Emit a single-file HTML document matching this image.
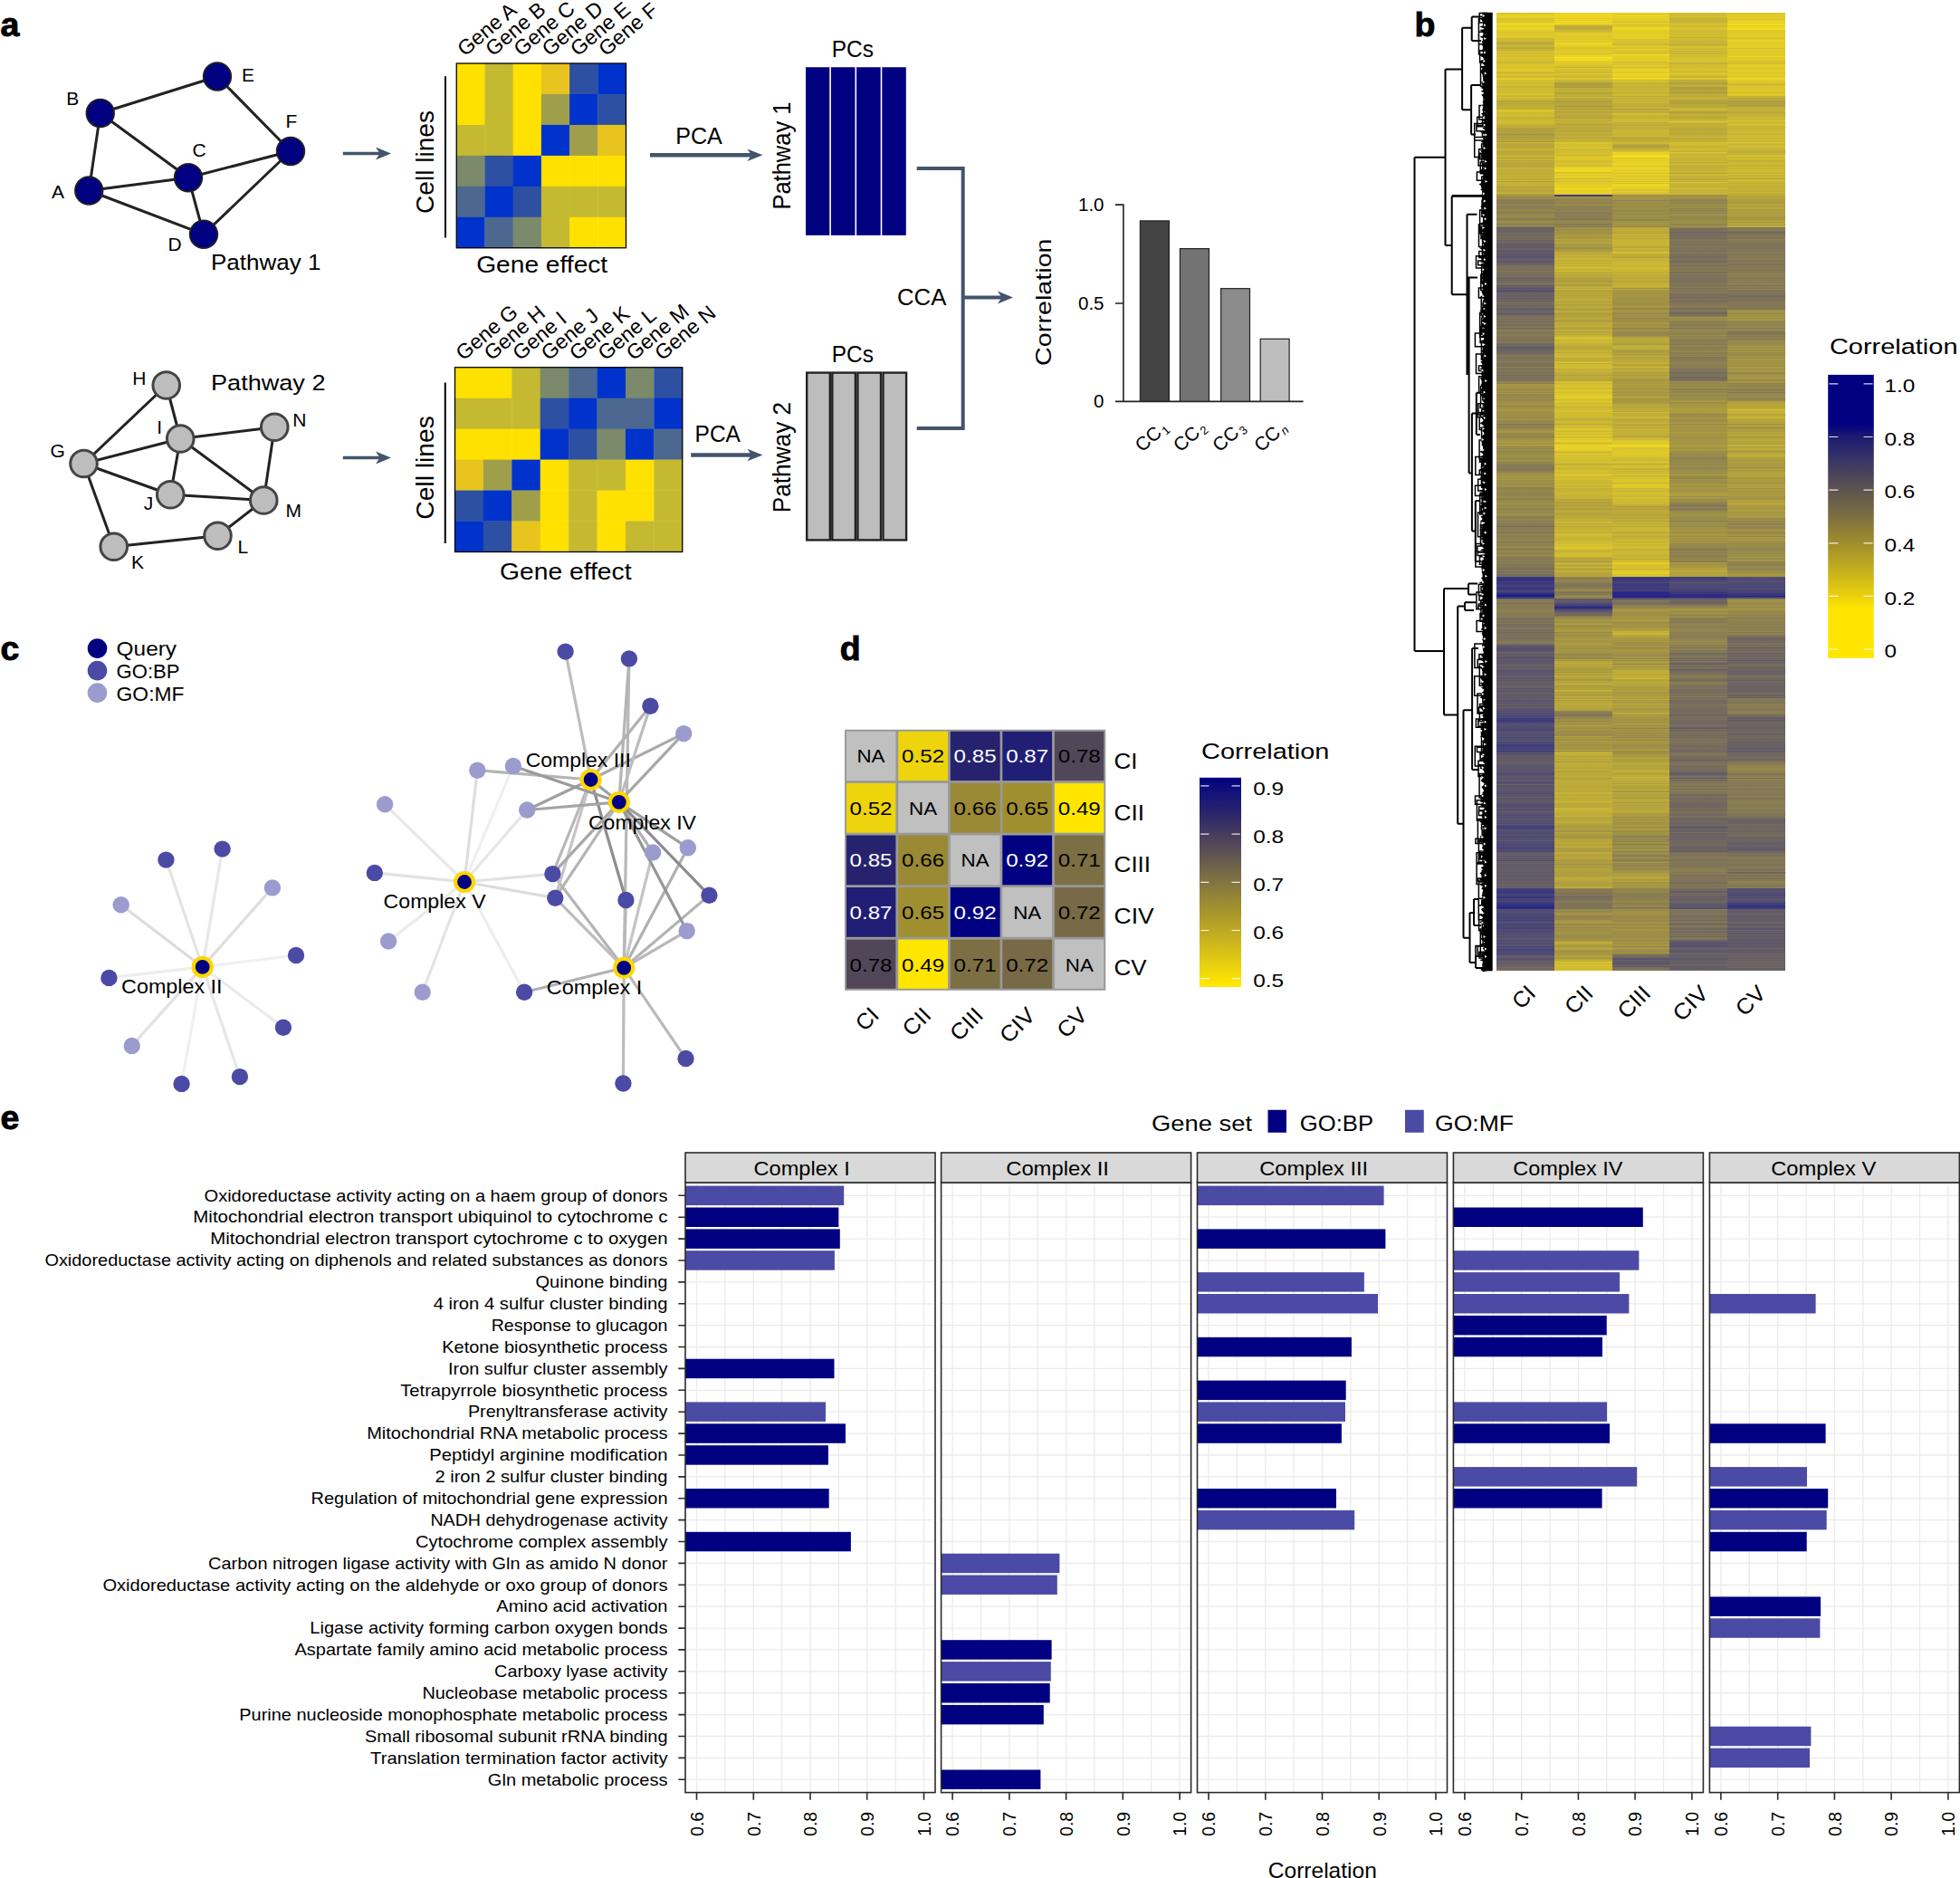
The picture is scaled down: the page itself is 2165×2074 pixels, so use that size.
<!DOCTYPE html>
<html><head><meta charset="utf-8"><title>Figure</title>
<style>
html,body{margin:0;padding:0;background:#fff}
#fig{position:relative;width:2165px;height:2074px;overflow:hidden;background:#fff;font-family:"Liberation Sans",sans-serif}
#fig svg{position:absolute;left:0;top:0}
svg text{font-family:"Liberation Sans",sans-serif}
</style></head><body>
<div id="fig">
<div style="position:absolute;left:1653.30px;top:14.3px;width:63.90px;height:1058px;opacity:.9;background:linear-gradient(180deg,#d4bc16 0px 1px,#dcc312 1px 2px,#e3c90f 2px 3px,#e6cc0d 3px 4px,#ebd00b 4px 5px,#e0c611 5px 6px,#d4bc16 6px 7px,#d6be15 7px 8px,#d4bc16 8px 9px,#dbc213 9px 10px,#d9c114 10px 11px,#ddc412 11px 12px,#fae003 12px 13px,#e3c90f 13px 14px,#e2c90f 14px 15px,#e0c611 15px 16px,#ecd10a 16px 17px,#eed309 17px 18px,#e4ca0e 18px 19px,#e1c710 19px 20px,#ddc412 20px 21px,#d7be15 21px 22px,#d8bf14 22px 23px,#dac113 23px 24px,#dcc312 24px 25px,#d8bf14 25px 26px,#e3c90f 26px 27px,#d5bc16 27px 28px,#cdb61a 28px 29px,#c5ae1e 29px 30px,#cab41b 30px 31px,#c2ac1f 31px 32px,#bba622 32px 33px,#b9a422 33px 34px,#b09c26 34px 35px,#bea920 35px 36px,#c4ae1e 36px 37px,#c0ab1f 37px 38px,#b7a323 38px 39px,#b39f25 39px 40px,#c0aa20 40px 41px,#bfaa20 41px 42px,#c8b11c 42px 43px,#d7bf15 43px 44px,#c5af1e 44px 45px,#cfb719 45px 46px,#d6be15 46px 47px,#cdb619 47px 48px,#ceb719 48px 49px,#d8bf14 49px 50px,#d5bc16 50px 51px,#cfb819 51px 52px,#d3bb17 52px 53px,#ceb619 53px 54px,#cab31b 54px 55px,#ccb51a 55px 56px,#cbb41b 56px 57px,#d7bf15 57px 58px,#dac213 58px 59px,#d1ba18 59px 60px,#d8bf14 60px 61px,#d7be15 61px 62px,#d9c114 62px 63px,#ddc412 63px 64px,#dcc312 64px 65px,#ceb719 65px 66px,#bda821 66px 67px,#d4bc16 67px 68px,#d2ba17 68px 69px,#d9c014 69px 70px,#c2ac1f 70px 71px,#d2ba17 71px 72px,#dfc511 72px 73px,#e3c90f 73px 74px,#cdb61a 74px 75px,#cfb719 75px 76px,#d3bb17 76px 77px,#c7b11c 77px 78px,#cab31b 78px 79px,#cdb51a 79px 80px,#cfb719 80px 81px,#bfa920 81px 82px,#c3ad1e 82px 83px,#cfb819 83px 84px,#c4ae1e 84px 85px,#c5af1d 85px 86px,#d7bf15 86px 87px,#c6b01d 87px 88px,#c7b11c 88px 89px,#d4bc16 89px 90px,#d7be15 90px 91px,#c6b01d 91px 92px,#c1ac1f 92px 93px,#d4bc16 93px 94px,#c7b01d 94px 95px,#c1ab1f 95px 96px,#c5af1e 96px 97px,#ae9a27 97px 98px,#ad9a27 98px 99px,#b9a422 99px 100px,#af9b26 100px 101px,#b7a323 101px 102px,#b8a323 102px 103px,#bca721 103px 104px,#bda721 104px 105px,#b39f24 105px 106px,#c6b01d 106px 107px,#cfb818 107px 108px,#d9c014 108px 109px,#d2ba17 109px 110px,#cbb41a 110px 111px,#c6b01d 111px 112px,#c9b31b 112px 113px,#ceb719 113px 114px,#cfb819 114px 115px,#bda821 115px 117px,#c9b21c 117px 118px,#c2ac1f 118px 119px,#ccb51a 119px 120px,#cdb619 120px 121px,#c8b21c 121px 122px,#c8b11c 122px 123px,#c3ae1e 123px 124px,#b7a323 124px 125px,#b5a124 125px 126px,#b9a522 126px 127px,#a6942a 127px 128px,#aa9728 128px 129px,#a89529 129px 130px,#a99629 130px 131px,#ad9927 131px 132px,#a79429 132px 133px,#ab9828 133px 134px,#948433 134px 135px,#a08e2c 135px 136px,#ae9a27 136px 137px,#a18f2c 137px 138px,#a5922a 138px 139px,#b39f25 139px 140px,#a99628 140px 141px,#ae9a27 141px 142px,#a08e2c 142px 143px,#c4ae1e 143px 144px,#b8a323 144px 145px,#b19d25 145px 147px,#b19d26 147px 148px,#b09c26 148px 149px,#b9a422 149px 150px,#bba621 150px 151px,#c3ad1e 151px 152px,#af9b26 152px 153px,#b4a024 153px 154px,#b29e25 154px 155px,#b19d25 155px 156px,#b39f25 156px 157px,#b9a422 157px 158px,#cab31b 158px 159px,#b6a223 159px 160px,#b09c26 160px 161px,#bfa920 161px 162px,#bfaa20 162px 163px,#ac9927 163px 164px,#bda821 164px 165px,#ae9a27 165px 166px,#b7a323 166px 167px,#b19d25 167px 168px,#b09c26 168px 169px,#b7a323 169px 170px,#ad9927 170px 171px,#c1ac1f 171px 172px,#bba621 172px 173px,#bda821 173px 174px,#b8a323 174px 175px,#baa522 175px 176px,#bea820 176px 177px,#b5a024 177px 178px,#baa522 178px 179px,#bca721 179px 180px,#b5a124 180px 181px,#bda821 181px 182px,#bca621 182px 183px,#b7a323 183px 184px,#b8a323 184px 185px,#c6b01d 185px 186px,#a99628 186px 187px,#bca721 187px 188px,#bfaa20 188px 189px,#bca721 189px 190px,#b9a422 190px 191px,#b29e25 191px 192px,#bca721 192px 193px,#a79429 193px 194px,#bda821 194px 195px,#ac9927 195px 196px,#ae9a27 196px 197px,#b09c26 197px 198px,#baa522 198px 199px,#bea820 199px 200px,#a89529 200px 201px,#9b892f 201px 202px,#978631 202px 203px,#8d7d37 203px 204px,#8b7b38 204px 205px,#918135 205px 206px,#80723e 206px 207px,#7b6d41 207px 208px,#83743c 208px 209px,#786b43 209px 211px,#85773b 211px 212px,#8a7a39 212px 213px,#7c6e40 213px 214px,#7d6f40 214px 215px,#7e7040 215px 216px,#7c6e41 216px 217px,#87783a 217px 218px,#8b7b38 218px 219px,#84753c 219px 220px,#82743d 220px 221px,#7e703f 221px 222px,#897a39 222px 223px,#8c7c37 223px 224px,#8e7e37 224px 225px,#8e7e36 225px 226px,#87783a 226px 227px,#7d6f40 227px 228px,#786b43 228px 229px,#82733d 229px 230px,#958432 230px 231px,#8f7f35 231px 232px,#8b7b38 232px 233px,#7c6e40 233px 234px,#84753c 234px 235px,#8c7c37 235px 236px,#7d6f40 236px 237px,#544b56 237px 238px,#5a5053 238px 239px,#5b5252 239px 241px,#594f53 241px 242px,#5d5351 242px 243px,#64594d 243px 244px,#665b4c 244px 245px,#5d5351 245px 246px,#695d4a 246px 247px,#61574e 247px 248px,#685d4b 248px 249px,#5f554f 249px 250px,#685d4b 250px 251px,#5e5450 251px 252px,#584f54 252px 253px,#62584e 253px 254px,#584f54 254px 255px,#564e54 255px 256px,#504858 256px 257px,#554d55 257px 258px,#4e465a 258px 259px,#504858 259px 260px,#574e54 260px 261px,#5e5450 261px 262px,#534b57 262px 263px,#48425d 263px 264px,#534a57 264px 265px,#514958 265px 266px,#4c455a 266px 267px,#49435c 267px 268px,#504858 268px 269px,#433e60 269px 270px,#48425d 270px 271px,#534b56 271px 272px,#544b56 272px 273px,#564d55 273px 274px,#4a435c 274px 275px,#504859 275px 276px,#5b5252 276px 277px,#544c56 277px 278px,#60564f 278px 279px,#64594d 279px 280px,#706347 280px 281px,#675c4b 281px 282px,#716546 282px 283px,#64594d 283px 284px,#6c6049 284px 285px,#7c6e40 285px 286px,#675c4b 286px 287px,#6e6248 287px 288px,#675c4c 288px 289px,#6c6049 289px 290px,#685d4b 290px 291px,#6c6049 291px 292px,#63594d 292px 293px,#5b5152 293px 294px,#5f554f 294px 295px,#60564f 295px 296px,#5f5550 296px 297px,#685d4b 297px 298px,#665b4c 298px 299px,#736745 299px 300px,#63584e 300px 301px,#514958 301px 302px,#595053 302px 303px,#534b57 303px 304px,#413c61 304px 305px,#554d55 305px 306px,#48415d 306px 307px,#3c3764 307px 308px,#524a57 308px 309px,#544c56 309px 310px,#61564f 310px 311px,#584f54 311px 312px,#564e54 312px 313px,#5b5152 313px 314px,#5d5351 314px 315px,#544b56 315px 316px,#584f54 316px 317px,#5f5550 317px 318px,#5b5152 318px 319px,#62574e 319px 320px,#6c6049 320px 321px,#63584e 321px 322px,#63594d 322px 323px,#5f5550 323px 324px,#5d5350 324px 325px,#64594d 325px 326px,#5a5152 326px 327px,#4e465a 327px 328px,#574e54 328px 329px,#5e5450 329px 330px,#61564f 330px 331px,#544c56 331px 332px,#4d465a 332px 333px,#564d55 333px 334px,#665b4c 334px 335px,#675c4b 335px 336px,#726645 336px 337px,#685d4b 337px 339px,#6f6347 339px 340px,#6c6049 340px 341px,#64594d 341px 342px,#746745 342px 343px,#6c6049 343px 344px,#6e6248 344px 345px,#695d4a 345px 346px,#6e6248 346px 347px,#786b42 347px 348px,#665b4c 348px 349px,#675c4b 349px 350px,#7f713f 350px 351px,#80713f 351px 352px,#716446 352px 353px,#736745 353px 354px,#726646 354px 355px,#7b6d41 355px 356px,#7c6e41 356px 357px,#716446 357px 358px,#796b42 358px 359px,#6d6148 359px 360px,#776a43 360px 361px,#695e4a 361px 362px,#6d6148 362px 363px,#7c6e40 363px 364px,#746745 364px 365px,#665b4c 365px 366px,#61564f 366px 367px,#60564f 367px 368px,#5a5152 368px 369px,#534b56 369px 370px,#504858 370px 371px,#5b5152 371px 372px,#5c5251 372px 373px,#574e54 373px 374px,#655b4c 374px 375px,#61574e 375px 376px,#62574e 376px 377px,#6d6148 377px 378px,#726645 378px 379px,#746745 379px 380px,#706447 380px 381px,#6b5f49 381px 382px,#716546 382px 383px,#6f6347 383px 384px,#756844 384px 385px,#7a6d41 385px 386px,#706446 386px 387px,#726646 387px 388px,#6c6049 388px 389px,#6b5f49 389px 390px,#6e6248 390px 391px,#80723e 391px 392px,#776a43 392px 393px,#685c4b 393px 394px,#746745 394px 395px,#776a43 395px 396px,#6b5f49 396px 397px,#6e6248 397px 398px,#716446 398px 399px,#736645 399px 400px,#665b4c 400px 401px,#6e6248 401px 402px,#706447 402px 403px,#6a5e4a 403px 404px,#6f6347 404px 405px,#695e4a 405px 406px,#6e6248 406px 407px,#88793a 407px 408px,#83743d 408px 409px,#7f713f 409px 410px,#9d8b2e 410px 411px,#9a892f 411px 412px,#998830 412px 413px,#9c8a2e 413px 414px,#958432 414px 415px,#918135 415px 416px,#8d7d37 416px 417px,#8f7f36 417px 418px,#9c8a2e 418px 419px,#897a39 419px 420px,#9f8d2d 420px 421px,#897a39 421px 423px,#8e7e36 423px 424px,#8d7d37 424px 427px,#8a7a39 427px 428px,#8e7e36 428px 429px,#908035 429px 430px,#958432 430px 431px,#948333 431px 432px,#9f8d2c 432px 433px,#948333 433px 434px,#86773b 434px 435px,#8d7d37 435px 436px,#9d8b2e 436px 437px,#968532 437px 438px,#9c8b2e 438px 439px,#9f8d2d 439px 440px,#948433 440px 441px,#948333 441px 442px,#928234 442px 443px,#938234 443px 444px,#928234 444px 445px,#948333 445px 446px,#8c7c37 446px 447px,#938333 447px 448px,#908035 448px 449px,#998830 449px 450px,#928234 450px 451px,#85763b 451px 452px,#8e7e36 452px 453px,#8b7b38 453px 454px,#786b42 454px 455px,#7c6e40 455px 456px,#84753c 456px 457px,#82743d 457px 458px,#83743d 458px 460px,#978631 460px 461px,#908035 461px 462px,#9f8d2c 462px 463px,#9b892f 463px 464px,#918134 464px 465px,#88793a 465px 466px,#8f7f36 466px 467px,#85763b 467px 469px,#8e7e36 469px 470px,#948333 470px 471px,#978631 471px 472px,#9f8d2d 472px 473px,#988731 473px 474px,#a5932a 474px 475px,#998730 475px 476px,#9a8830 476px 477px,#a5932a 477px 478px,#988730 478px 479px,#8e7e36 479px 480px,#908035 480px 481px,#85773b 481px 482px,#938333 482px 483px,#978631 483px 484px,#80713f 484px 485px,#897a39 485px 487px,#978631 487px 488px,#8d7d37 488px 489px,#9c8a2e 489px 490px,#928234 490px 491px,#8e7e36 491px 492px,#8b7c38 492px 493px,#8e7e36 493px 494px,#918035 494px 495px,#988731 495px 496px,#83743d 496px 497px,#8b7b38 497px 498px,#80713e 498px 499px,#7c6f40 499px 500px,#756844 500px 501px,#7f713f 501px 502px,#736645 502px 503px,#786a43 503px 504px,#726645 504px 505px,#786a43 505px 506px,#80723e 506px 507px,#87783a 507px 508px,#8a7b38 508px 509px,#978631 509px 510px,#958432 510px 511px,#9b8a2f 511px 512px,#968532 512px 513px,#9c8b2e 513px 514px,#918135 514px 515px,#9f8d2c 515px 516px,#8f7f36 516px 517px,#978631 517px 518px,#958432 518px 519px,#928234 519px 520px,#8e7e36 520px 521px,#908035 521px 522px,#978631 522px 524px,#85763b 524px 525px,#7f713f 525px 526px,#86773b 526px 527px,#88793a 527px 529px,#8f7f36 529px 530px,#82743d 530px 531px,#8a7a39 531px 532px,#7f713f 532px 533px,#887939 533px 534px,#8c7c37 534px 535px,#8f7f36 535px 536px,#81723e 536px 537px,#7f713f 537px 538px,#897a39 538px 540px,#8b7b38 540px 541px,#958532 541px 542px,#948433 542px 543px,#8f7f36 543px 544px,#88783a 544px 545px,#8c7c37 545px 546px,#907f35 546px 547px,#84753c 547px 548px,#83753c 548px 549px,#8d7d37 549px 550px,#8e7e37 550px 551px,#8b7b38 551px 552px,#87783a 552px 553px,#968532 553px 554px,#8c7c38 554px 555px,#8f7f35 555px 556px,#80723e 556px 557px,#7f713f 557px 558px,#7b6e41 558px 559px,#8b7c38 559px 560px,#82733d 560px 561px,#7c6f40 561px 562px,#82743d 562px 563px,#7b6d41 563px 564px,#7e703f 564px 565px,#756844 565px 566px,#7d6f40 566px 567px,#665b4c 567px 568px,#7e703f 568px 569px,#7b6e41 569px 570px,#7c6e40 570px 571px,#7e7040 571px 572px,#81733e 572px 573px,#766943 573px 574px,#7a6c41 574px 575px,#7b6d41 575px 576px,#88783a 576px 577px,#81723e 577px 578px,#7d6f40 578px 579px,#81733d 579px 580px,#85763b 580px 581px,#7f713f 581px 582px,#8a7b39 582px 583px,#80723e 583px 584px,#7a6c42 584px 585px,#7a6d41 585px 586px,#897939 586px 587px,#7e7040 587px 588px,#84753c 588px 589px,#87783a 589px 590px,#918135 590px 591px,#81723e 591px 592px,#7c6e41 592px 593px,#82733d 593px 594px,#88783a 594px 595px,#8b7c38 595px 596px,#7e703f 596px 597px,#83743d 597px 598px,#897939 598px 599px,#928234 599px 600px,#84753c 600px 601px,#7b6e41 601px 602px,#796c42 602px 603px,#776a43 603px 604px,#81733d 604px 605px,#7e7040 605px 606px,#776a43 606px 607px,#7a6d41 607px 608px,#7d6f40 608px 609px,#706447 609px 610px,#796b42 610px 611px,#746744 611px 612px,#736745 612px 613px,#6d6148 613px 614px,#6b6049 614px 615px,#6c6049 615px 616px,#7b6d41 616px 617px,#6d6148 617px 618px,#6a5f4a 618px 619px,#796c42 619px 620px,#64594d 620px 621px,#655a4d 621px 622px,#6c6049 622px 623px,#222070 623px 624px,#1f1d71 624px 625px,#201e71 625px 626px,#141376 626px 627px,#25226e 627px 628px,#29266d 628px 630px,#222070 630px 631px,#2a276c 631px 632px,#322e69 632px 633px,#2d2a6b 633px 634px,#2b276c 634px 635px,#222070 635px 636px,#201e71 636px 637px,#2e2a6a 637px 638px,#373366 638px 639px,#343068 639px 640px,#27246d 640px 641px,#1b1a73 641px 642px,#161575 642px 643px,#010180 643px 644px,#000080 644px 645px,#27246e 645px 646px,#25226e 646px 647px,#6b6049 647px 648px,#716546 648px 649px,#7e703f 649px 650px,#796c42 650px 651px,#776a43 651px 652px,#6e6248 652px 653px,#786b43 653px 654px,#83753c 654px 655px,#766944 655px 656px,#746745 656px 657px,#7c6e40 657px 658px,#7d6f40 658px 659px,#7b6e41 659px 660px,#85763b 660px 661px,#7c6e40 661px 662px,#7e703f 662px 663px,#7a6d41 663px 664px,#7c6e40 664px 665px,#776a43 665px 666px,#7b6e41 666px 667px,#7c6e41 667px 668px,#6e6248 668px 669px,#675c4b 669px 670px,#6d6148 670px 671px,#746844 671px 672px,#6e6248 672px 673px,#6e6247 673px 674px,#756844 674px 675px,#6c6049 675px 676px,#62584e 676px 677px,#6b5f49 677px 678px,#6d6148 678px 679px,#766944 679px 680px,#736645 680px 681px,#6b5f49 681px 682px,#63594d 682px 683px,#6f6347 683px 684px,#62574e 684px 685px,#6f6247 685px 686px,#675c4b 686px 687px,#756844 687px 688px,#685d4b 688px 689px,#6e6248 689px 690px,#6a5e4a 690px 691px,#695e4a 691px 692px,#706447 692px 693px,#6c6049 693px 694px,#7b6d41 694px 695px,#746745 695px 696px,#796b42 696px 697px,#655a4c 697px 698px,#564d55 698px 699px,#4e465a 699px 700px,#4b445b 700px 701px,#46405e 701px 702px,#3e3963 702px 703px,#433d60 703px 704px,#4a435c 704px 705px,#4c455b 705px 706px,#584f54 706px 707px,#574e54 707px 708px,#4d465a 708px 709px,#534b57 709px 710px,#4e4759 710px 711px,#4f4859 711px 712px,#3f3a63 712px 713px,#4d465a 713px 714px,#504958 714px 715px,#453f5f 715px 716px,#4f4759 716px 717px,#4e4759 717px 718px,#4a435c 718px 719px,#514958 719px 720px,#584f53 720px 721px,#5c5251 721px 722px,#4c455b 722px 723px,#514958 723px 724px,#564d55 724px 725px,#4e465a 725px 726px,#48425d 726px 727px,#4b445b 727px 728px,#46405e 728px 729px,#524a57 729px 730px,#443e60 730px 731px,#514958 731px 732px,#514957 732px 733px,#5d5350 733px 734px,#453f5f 734px 735px,#4c455b 735px 736px,#4f4759 736px 737px,#49425d 737px 738px,#534b56 738px 739px,#534b57 739px 740px,#534b56 740px 741px,#514958 741px 742px,#544c56 742px 743px,#564e54 743px 744px,#574e54 744px 745px,#584f53 745px 746px,#4b445b 746px 747px,#514958 747px 748px,#4f4759 748px 749px,#49435c 749px 750px,#4c455b 750px 751px,#5e5450 751px 752px,#564d55 752px 753px,#4e4759 753px 754px,#4f4859 754px 755px,#514958 755px 756px,#48415d 756px 757px,#514958 757px 758px,#544c56 758px 759px,#433d60 759px 760px,#4e465a 760px 761px,#4f4859 761px 762px,#4d455a 762px 763px,#4e4759 763px 764px,#594f53 764px 765px,#4a435c 765px 766px,#4e465a 766px 767px,#564d55 767px 768px,#49425d 768px 769px,#47405e 769px 770px,#49435c 770px 771px,#423c61 771px 772px,#403b62 772px 773px,#433d60 773px 774px,#3a3565 774px 775px,#403b62 775px 776px,#3a3665 776px 777px,#353167 777px 778px,#3e3963 778px 779px,#27246d 779px 780px,#2d296b 780px 781px,#27246e 781px 782px,#23216f 782px 783px,#343068 783px 784px,#363167 784px 785px,#453f5f 785px 786px,#433d60 786px 787px,#3d3863 787px 788px,#443e60 788px 789px,#3b3664 789px 790px,#3f3a62 790px 791px,#343068 791px 792px,#373266 792px 793px,#3f3a62 793px 794px,#47405e 794px 795px,#433e60 795px 796px,#413b61 796px 797px,#403a62 797px 799px,#47405e 799px 800px,#383466 800px 801px,#443e5f 801px 802px,#393565 802px 803px,#47405e 803px 804px,#423c61 804px 805px,#3c3764 805px 806px,#363266 806px 807px,#3c3764 807px 808px,#2d296b 808px 809px,#29266d 809px 810px,#302c69 810px 811px,#322e69 811px 812px,#302c69 812px 813px,#343067 813px 814px,#393465 814px 815px,#29266d 815px 816px,#373266 816px 817px,#47415e 817px 818px,#413b61 818px 819px,#4a435c 819px 820px,#4f4759 820px 821px,#524a57 821px 823px,#4c455a 823px 824px,#524a57 824px 825px,#4f4759 825px 826px,#524a57 826px 827px,#5a5152 827px 828px,#514958 828px 829px,#574e54 829px 830px,#49435c 830px 831px,#4f4759 831px 832px,#4b445b 832px 833px,#4c455b 833px 834px,#49425d 834px 835px,#4c455b 835px 836px,#423c61 836px 837px,#504858 837px 838px,#47405e 838px 839px,#413c61 839px 840px,#3b3664 840px 841px,#3f3963 841px 842px,#47415e 842px 843px,#4d455a 843px 844px,#524a57 844px 845px,#3b3664 845px 846px,#4e465a 846px 847px,#4a435c 847px 848px,#4d465a 848px 849px,#453f5f 849px 850px,#3c3764 850px 851px,#49425c 851px 852px,#574e54 852px 853px,#47415e 853px 854px,#423c61 854px 855px,#4d465a 855px 856px,#423c61 856px 857px,#514958 857px 858px,#4f4759 858px 859px,#443e5f 859px 860px,#4b445b 860px 861px,#443e5f 861px 862px,#3c3764 862px 863px,#47415e 863px 864px,#413c61 864px 865px,#4d465a 865px 866px,#504958 866px 867px,#4a435c 867px 869px,#4d465a 869px 870px,#4e465a 870px 871px,#4d455a 871px 872px,#4d465a 872px 873px,#433d60 873px 874px,#48415d 874px 875px,#3c3764 875px 876px,#453f5f 876px 877px,#403a62 877px 878px,#47405e 878px 879px,#49425d 879px 880px,#3f3a62 880px 881px,#4b445b 881px 882px,#504858 882px 883px,#49435c 883px 884px,#47415d 884px 885px,#433d60 885px 886px,#3d3864 886px 887px,#4b445b 887px 888px,#3b3664 888px 889px,#433d60 889px 890px,#4c455b 890px 891px,#403b62 891px 892px,#463f5e 892px 893px,#433d60 893px 895px,#3d3863 895px 896px,#4d465a 896px 897px,#3c3764 897px 898px,#332f68 898px 899px,#26246e 899px 900px,#353167 900px 902px,#3d3864 902px 903px,#49435c 903px 904px,#3c3764 904px 905px,#423c61 905px 906px,#393565 906px 907px,#403a62 907px 908px,#463f5e 908px 909px,#3b3664 909px 910px,#383466 910px 911px,#443e5f 911px 912px,#46405e 912px 913px,#393565 913px 914px,#544b56 914px 915px,#393465 915px 916px,#3f3a63 916px 917px,#433d60 917px 918px,#322e68 918px 919px,#3b3764 919px 920px,#3a3565 920px 921px,#3d3863 921px 922px,#2d296b 922px 923px,#3b3764 923px 924px,#3e3963 924px 925px,#353167 925px 926px,#403b62 926px 927px,#46405e 927px 928px,#584f53 928px 929px,#544c56 929px 930px,#534b57 930px 931px,#4e4759 931px 932px,#4a435c 932px 933px,#544c56 933px 934px,#48415d 934px 935px,#4f4759 935px 936px,#3d3864 936px 937px,#595053 937px 938px,#4f4859 938px 939px,#5a5152 939px 940px,#514958 940px 941px,#534b56 941px 942px,#4e465a 942px 943px,#574e54 943px 944px,#504858 944px 945px,#534b56 945px 946px,#554d55 946px 947px,#514958 947px 948px,#544b56 948px 949px,#4e465a 949px 950px,#544c56 950px 951px,#534b57 951px 952px,#544b56 952px 953px,#4e465a 953px 954px,#574e54 954px 955px,#4e4759 955px 956px,#524a57 956px 957px,#504858 957px 958px,#514958 958px 959px,#5f5550 959px 960px,#514958 960px 962px,#5a5152 962px 963px,#584f54 963px 964px,#544c56 964px 965px,#544b56 965px 966px,#584f53 966px 967px,#2b286b 967px 968px,#2f2b6a 968px 969px,#27246e 969px 970px,#26236e 970px 971px,#211f70 971px 972px,#2a276c 972px 973px,#2e2a6a 973px 974px,#363267 974px 975px,#2b286c 975px 976px,#221f70 976px 977px,#23206f 977px 978px,#373366 978px 979px,#312d69 979px 980px,#332f68 980px 981px,#363267 981px 982px,#2b276c 982px 983px,#24216f 983px 984px,#25226e 984px 985px,#171575 985px 986px,#201d71 986px 987px,#0f0e79 987px 988px,#0e0d79 988px 989px,#1a1873 989px 990px,#3f3a63 990px 991px,#3f3963 991px 992px,#403b62 992px 993px,#3f3a62 993px 994px,#423c61 994px 995px,#343067 995px 996px,#3c3764 996px 997px,#322e68 997px 998px,#383366 998px 999px,#353167 999px 1000px,#343067 1000px 1001px,#3b3665 1001px 1002px,#2b286c 1002px 1003px,#3f3a62 1003px 1004px,#3f3a63 1004px 1005px,#3e3963 1005px 1006px,#373266 1006px 1007px,#302c69 1007px 1008px,#3a3665 1008px 1009px,#3c3764 1009px 1010px,#322e68 1010px 1011px,#343068 1011px 1012px,#3c3764 1012px 1014px,#3a3665 1014px 1015px,#3f3963 1015px 1016px,#3d3863 1016px 1017px,#453e5f 1017px 1018px,#3e3963 1018px 1019px,#46405e 1019px 1020px,#403b62 1020px 1021px,#47415e 1021px 1022px,#48415d 1022px 1023px,#4a435c 1023px 1024px,#3f3a62 1024px 1025px,#3e3963 1025px 1026px,#433d60 1026px 1027px,#423c61 1027px 1028px,#3c3764 1028px 1029px,#48425d 1029px 1030px,#46405e 1030px 1031px,#343067 1031px 1032px,#3f3a63 1032px 1033px,#3e3963 1033px 1034px,#2f2b6a 1034px 1035px,#383366 1035px 1036px,#353167 1036px 1037px,#393565 1037px 1038px,#3d3864 1038px 1039px,#3a3665 1039px 1040px,#3d3864 1040px 1041px,#4f4759 1041px 1042px,#544b56 1042px 1043px,#4c455b 1043px 1044px,#4a435c 1044px 1045px,#443e5f 1045px 1046px,#4a435c 1046px 1047px,#564d55 1047px 1048px,#4f4759 1048px 1049px,#554c55 1049px 1050px,#534b56 1050px 1051px,#595053 1051px 1052px,#5a5152 1052px 1053px,#584f54 1053px 1054px,#675c4b 1054px 1055px,#63584e 1055px 1056px,#62574e 1056px 1057px,#675c4b 1057px 1058px)"></div>
<div style="position:absolute;left:1716.90px;top:14.3px;width:63.90px;height:1058px;opacity:.9;background:linear-gradient(180deg,#e7cd0d 0px 1px,#ebd00b 1px 3px,#ebd10b 3px 4px,#ebd00b 4px 5px,#eed30a 5px 6px,#dfc511 6px 7px,#edd30a 7px 8px,#e3c90f 8px 9px,#f0d508 9px 10px,#e7cd0d 10px 11px,#eed309 11px 12px,#edd30a 12px 13px,#d1ba17 13px 14px,#c5af1e 14px 15px,#b09c26 15px 16px,#b7a323 16px 17px,#b7a223 17px 18px,#baa522 18px 19px,#c7b11c 19px 20px,#c3ad1f 20px 21px,#d3bb17 21px 22px,#d8bf14 22px 23px,#e0c710 23px 24px,#ddc412 24px 25px,#d6be15 25px 26px,#e2c80f 26px 27px,#d7bf15 27px 28px,#dfc511 28px 29px,#d5bd16 29px 30px,#e4ca0f 30px 31px,#d9c014 31px 32px,#dfc511 32px 33px,#ebd00b 33px 34px,#edd20a 34px 35px,#dfc511 35px 36px,#e8ce0c 36px 37px,#dec511 37px 38px,#d9c114 38px 39px,#d1b918 39px 40px,#dcc213 40px 41px,#d8c014 41px 42px,#ddc412 42px 43px,#e3c90f 43px 44px,#dbc213 44px 45px,#d6be15 45px 46px,#e0c710 46px 47px,#e8cd0d 47px 48px,#e6cc0d 48px 49px,#f8df04 49px 50px,#eed409 50px 51px,#f1d707 51px 52px,#f1d608 52px 53px,#dec511 53px 54px,#dfc611 54px 55px,#e2c80f 55px 56px,#d9c014 56px 57px,#dcc312 57px 58px,#d1b918 58px 59px,#d2bb17 59px 60px,#c1ab1f 60px 61px,#d9c114 61px 62px,#d7bf15 62px 63px,#ccb51a 63px 64px,#d2ba17 64px 65px,#c3ad1e 65px 66px,#c9b21c 66px 67px,#dbc213 67px 68px,#ceb719 68px 69px,#cdb61a 69px 70px,#c6b01d 70px 71px,#c9b31b 71px 72px,#d8c014 72px 73px,#d3bb17 73px 74px,#c6af1d 74px 75px,#c2ac1f 75px 76px,#bba621 76px 77px,#ad9a27 77px 78px,#a3912b 78px 79px,#a6932a 79px 81px,#aa9728 81px 82px,#a18f2c 82px 83px,#bfaa20 83px 84px,#b39f25 84px 85px,#b7a223 85px 86px,#c7b11c 86px 87px,#b19d25 87px 89px,#ad9a27 89px 90px,#baa522 90px 91px,#b8a422 91px 92px,#b5a124 92px 93px,#c5af1e 93px 94px,#b7a223 94px 95px,#af9b26 95px 96px,#b4a024 96px 97px,#ac9927 97px 98px,#a18f2c 98px 99px,#b6a223 99px 100px,#a89529 100px 101px,#b09c26 101px 102px,#ad9927 102px 103px,#a08e2c 103px 104px,#ad9927 104px 105px,#b4a024 105px 106px,#aa9728 106px 107px,#af9b26 107px 108px,#bfaa20 108px 109px,#aa9728 109px 110px,#b29e25 110px 111px,#b9a422 111px 112px,#b6a223 112px 113px,#b29e25 113px 114px,#b5a124 114px 115px,#a99629 115px 116px,#ae9b26 116px 117px,#c1ac1f 117px 118px,#b39f25 118px 119px,#b9a522 119px 120px,#c2ad1f 120px 121px,#bca721 121px 122px,#bba621 122px 123px,#ab9828 123px 124px,#b4a024 124px 125px,#b7a323 125px 126px,#b7a223 126px 127px,#ad9a27 127px 128px,#b6a223 128px 129px,#af9c26 129px 130px,#b39e25 130px 131px,#b39f25 131px 132px,#b5a124 132px 133px,#b9a422 133px 134px,#b29e25 134px 135px,#b5a024 135px 136px,#bea920 136px 137px,#b4a024 137px 138px,#b49f24 138px 139px,#baa522 139px 140px,#bba622 140px 141px,#c0aa20 141px 142px,#bca721 142px 143px,#dbc213 143px 144px,#d2ba17 144px 145px,#c9b21c 145px 146px,#d2ba17 146px 147px,#ccb51a 147px 148px,#d6be15 148px 149px,#d4bc16 149px 150px,#ccb51a 150px 151px,#c6b01d 151px 152px,#ceb719 152px 153px,#cab31b 153px 154px,#ccb51a 154px 155px,#d2ba17 155px 156px,#cdb61a 156px 157px,#c9b21c 157px 158px,#dac113 158px 159px,#d7bf15 159px 160px,#dac113 160px 161px,#e1c710 161px 162px,#d4bc16 162px 163px,#cbb41b 163px 164px,#cdb51a 164px 165px,#c9b21c 165px 166px,#e0c610 166px 167px,#d2ba17 167px 168px,#cfb719 168px 169px,#d1b918 169px 170px,#d7bf15 170px 171px,#f2d807 171px 172px,#e2c80f 172px 173px,#e8cd0c 173px 174px,#f5db06 174px 175px,#ecd10a 175px 176px,#d2ba17 176px 177px,#d7bf15 177px 178px,#e8cd0c 178px 179px,#dcc312 179px 180px,#e4ca0e 180px 181px,#e4ca0f 181px 182px,#d9c114 182px 183px,#ceb719 183px 184px,#dac113 184px 185px,#dec511 185px 186px,#cbb41a 186px 187px,#e0c610 187px 189px,#e2c80f 189px 190px,#dfc611 190px 191px,#e4ca0f 191px 192px,#e7cc0d 192px 193px,#e4ca0e 193px 194px,#f0d608 194px 195px,#ecd10a 195px 196px,#e0c710 196px 197px,#e8ce0c 197px 198px,#e8cd0d 198px 199px,#e4ca0e 199px 200px,#dec511 200px 201px,#2a276c 201px 202px,#2d2a6b 202px 203px,#968532 203px 204px,#8d7d37 204px 205px,#938333 205px 206px,#7e703f 206px 207px,#86773b 207px 208px,#8b7c38 208px 209px,#83743d 209px 210px,#84753c 210px 211px,#8d7d37 211px 212px,#948333 212px 213px,#81733e 213px 214px,#81733d 214px 215px,#7e7040 215px 216px,#81733e 216px 217px,#81723e 217px 218px,#7f703f 218px 219px,#88793a 219px 220px,#7c6e41 220px 221px,#776a43 221px 222px,#82733d 222px 223px,#7b6d41 223px 224px,#7e7040 224px 225px,#7e703f 225px 226px,#82733d 226px 227px,#796c42 227px 228px,#736745 228px 229px,#88783a 229px 231px,#8a7b39 231px 232px,#87783a 232px 233px,#796b42 233px 234px,#7b6d41 234px 235px,#887939 235px 236px,#796c42 236px 237px,#948433 237px 238px,#9c8a2e 238px 239px,#8f7f36 239px 240px,#958433 240px 241px,#988730 241px 242px,#948433 242px 243px,#968532 243px 244px,#978631 244px 245px,#a2902b 245px 246px,#9e8c2d 246px 247px,#a18f2b 247px 248px,#998730 248px 249px,#9e8d2d 249px 250px,#ae9b27 250px 251px,#a5932a 251px 252px,#a18f2c 252px 253px,#ad9927 253px 254px,#a99629 254px 255px,#a89529 255px 256px,#988731 256px 257px,#a79429 257px 258px,#9d8c2d 258px 259px,#978631 259px 260px,#8f7f36 260px 261px,#a2902b 261px 262px,#a79429 262px 263px,#9c8a2e 263px 264px,#b9a422 264px 265px,#b5a124 265px 266px,#b5a024 266px 267px,#b39f25 267px 268px,#c2ac1f 268px 269px,#b7a223 269px 270px,#bca621 270px 271px,#c2ac1f 271px 272px,#c6b01d 272px 273px,#b5a124 273px 274px,#b8a423 274px 275px,#c5af1d 275px 276px,#b4a024 276px 277px,#c4ae1e 277px 278px,#c1ab1f 278px 279px,#b9a422 279px 280px,#cbb41b 280px 282px,#cfb719 282px 283px,#b9a522 283px 284px,#bba622 284px 285px,#d0b818 285px 286px,#b39f25 286px 287px,#b6a123 287px 288px,#bba621 288px 289px,#b29e25 289px 290px,#ad9927 290px 291px,#b6a124 291px 292px,#af9b26 292px 293px,#a79529 293px 294px,#ac9827 294px 295px,#a69429 295px 296px,#a89529 296px 297px,#a2902b 297px 298px,#ae9b26 298px 299px,#b29e25 299px 300px,#9e8c2d 300px 301px,#a99629 301px 302px,#b4a024 302px 303px,#bda821 303px 304px,#b09c26 304px 305px,#c5af1e 305px 306px,#ae9b26 306px 307px,#a79529 307px 308px,#b09c26 308px 310px,#ad9a27 310px 311px,#b39f25 311px 312px,#ac9927 312px 313px,#b39f25 313px 315px,#ac9827 315px 316px,#baa522 316px 317px,#b7a223 317px 318px,#b39f25 318px 319px,#ad9a27 319px 320px,#b19d25 320px 321px,#b9a422 321px 322px,#a79429 322px 323px,#ac9927 323px 324px,#b39f25 324px 325px,#b8a323 325px 326px,#a99629 326px 327px,#a99628 327px 328px,#a5922a 328px 329px,#b5a024 329px 330px,#b9a422 330px 331px,#aa9728 331px 332px,#a89529 332px 333px,#a79429 333px 334px,#aa9728 334px 335px,#a89529 335px 336px,#b29e25 336px 337px,#b09d26 337px 338px,#b6a123 338px 339px,#aa9628 339px 340px,#a3912b 340px 341px,#ae9a27 341px 342px,#b4a024 342px 343px,#b29e25 343px 344px,#baa522 344px 345px,#b29e25 345px 346px,#bea820 346px 347px,#b09c26 347px 348px,#a89529 348px 349px,#b09c26 349px 350px,#b9a422 350px 351px,#baa522 351px 352px,#ac9927 352px 353px,#b49f24 353px 354px,#bba622 354px 355px,#b09c26 355px 356px,#bea920 356px 357px,#c1ab1f 357px 358px,#d5bd16 358px 359px,#d0b918 359px 360px,#d4bc16 360px 361px,#c0aa20 361px 362px,#c2ac1f 362px 363px,#ccb51a 363px 364px,#c4ae1e 364px 365px,#c2ac1f 365px 366px,#bba621 366px 367px,#bba622 367px 368px,#b09d26 368px 369px,#b5a124 369px 370px,#af9b26 370px 371px,#b39e25 371px 372px,#bfaa20 372px 373px,#baa522 373px 374px,#c3ad1e 374px 375px,#b6a123 375px 376px,#c5af1e 376px 378px,#c1ab1f 378px 379px,#ceb619 379px 380px,#c5af1e 380px 381px,#b9a422 381px 382px,#b29e25 382px 383px,#c0ab20 383px 384px,#b29e25 384px 385px,#cbb41b 385px 386px,#d5bd16 386px 387px,#b7a223 387px 388px,#c8b11c 388px 389px,#cdb61a 389px 390px,#cbb41b 390px 391px,#cab41b 391px 392px,#d1ba18 392px 393px,#bba621 393px 394px,#bda821 394px 395px,#c3ad1e 395px 396px,#bea920 396px 397px,#b8a323 397px 398px,#b5a124 398px 399px,#b6a124 399px 400px,#ac9927 400px 401px,#b5a024 401px 402px,#b7a223 402px 403px,#b6a124 403px 404px,#b29e25 404px 406px,#ae9a27 406px 407px,#d2bb17 407px 408px,#d2ba17 408px 409px,#c7b11c 409px 410px,#d1b918 410px 411px,#ceb719 411px 412px,#d9c114 412px 413px,#cfb719 413px 414px,#ceb619 414px 415px,#c7b11d 415px 416px,#dcc313 416px 417px,#d9c014 417px 418px,#d7be15 418px 419px,#cfb819 419px 420px,#dbc213 420px 421px,#d0b918 421px 422px,#e7cc0d 422px 423px,#d9c014 423px 424px,#e6cc0d 424px 425px,#dcc312 425px 426px,#d8c014 426px 427px,#cdb619 427px 428px,#d3bb17 428px 429px,#dbc213 429px 430px,#d5bd16 430px 431px,#cfb719 431px 432px,#cbb41a 432px 433px,#d3bb17 433px 435px,#b8a323 435px 436px,#cfb719 436px 437px,#c9b21c 437px 438px,#cdb61a 438px 439px,#d7bf15 439px 440px,#ccb51a 440px 441px,#cfb719 441px 442px,#c4ae1e 442px 443px,#cdb619 443px 444px,#cfb719 444px 445px,#c3ad1e 445px 446px,#ceb619 446px 447px,#c6b01d 447px 448px,#b5a024 448px 449px,#bea920 449px 450px,#bba622 450px 451px,#cdb619 451px 452px,#c9b31b 452px 453px,#c3ad1e 453px 454px,#b8a422 454px 455px,#bea820 455px 456px,#d3bb17 456px 457px,#cab31b 457px 459px,#dec511 459px 460px,#d8bf14 460px 461px,#d2bb17 461px 462px,#c6b01d 462px 463px,#d7bf15 463px 464px,#d3bb17 464px 465px,#ccb51a 465px 466px,#d5bd16 466px 467px,#ddc412 467px 468px,#cfb819 468px 469px,#c9b21c 469px 470px,#e3c90f 470px 471px,#dac113 471px 472px,#e4ca0f 472px 473px,#e5cb0e 473px 474px,#d2ba17 474px 475px,#cfb719 475px 476px,#d5bd16 476px 477px,#dec511 477px 478px,#f2d807 478px 479px,#e0c611 479px 480px,#e5cb0e 480px 481px,#e7cc0d 481px 482px,#e6cc0d 482px 483px,#dbc213 483px 484px,#d4bc16 484px 485px,#c4ae1e 485px 486px,#ccb51a 486px 487px,#e0c611 487px 488px,#cfb719 488px 489px,#d4bc16 489px 491px,#d2bb17 491px 492px,#cab31b 492px 493px,#d4bc16 493px 494px,#c8b21c 494px 495px,#d3bb17 495px 496px,#cbb41a 496px 497px,#cfb719 497px 498px,#baa522 498px 499px,#bea920 499px 500px,#ccb51a 500px 501px,#d0b918 501px 502px,#c3ad1e 502px 504px,#ccb51a 504px 505px,#cbb41b 505px 506px,#cfb819 506px 507px,#ceb719 507px 508px,#cdb61a 508px 509px,#d4bc16 509px 510px,#dac113 510px 511px,#d8bf14 511px 512px,#c6b01d 512px 513px,#cfb819 513px 514px,#cdb51a 514px 515px,#d3bb16 515px 516px,#c5af1e 516px 517px,#ceb719 517px 518px,#bfaa20 518px 519px,#cbb41b 519px 520px,#c2ac1f 520px 521px,#cfb819 521px 522px,#c0ab1f 522px 523px,#c4ae1e 523px 524px,#cab31b 524px 525px,#bda721 525px 526px,#bda821 526px 527px,#bfaa20 527px 528px,#c5af1d 528px 529px,#bfa920 529px 530px,#c9b21c 530px 531px,#c8b21c 531px 532px,#c1ac1f 532px 533px,#c2ad1f 533px 534px,#c0aa20 534px 535px,#c2ac1f 535px 536px,#c1ab1f 536px 537px,#a99629 537px 538px,#b4a024 538px 539px,#b9a422 539px 540px,#a2902b 540px 541px,#ab9728 541px 542px,#af9b26 542px 543px,#a89529 543px 544px,#ac9927 544px 545px,#aa9728 545px 546px,#b9a422 546px 547px,#a89529 547px 548px,#a99629 548px 549px,#ae9b26 549px 550px,#b5a024 550px 551px,#b6a223 551px 552px,#ac9927 552px 553px,#ad9927 553px 554px,#a89629 554px 555px,#b7a223 555px 556px,#b39f25 556px 557px,#b39f24 557px 558px,#b09c26 558px 559px,#bea920 559px 560px,#bda821 560px 561px,#b9a522 561px 562px,#cdb61a 562px 563px,#c2ac1f 563px 564px,#b9a422 564px 565px,#bba622 565px 566px,#c1ab1f 566px 567px,#b09c26 567px 568px,#c0ab1f 568px 569px,#bea920 569px 570px,#c4ae1e 570px 571px,#baa522 571px 572px,#cbb41b 572px 573px,#baa522 573px 574px,#c0aa20 574px 575px,#cab31b 575px 576px,#ceb619 576px 577px,#c9b31b 577px 578px,#c6b01d 578px 579px,#c7b11c 579px 580px,#bba622 580px 581px,#c9b31b 581px 582px,#b9a422 582px 583px,#cdb61a 583px 584px,#c6b01d 584px 585px,#d3bb17 585px 586px,#c9b21c 586px 587px,#d4bc16 587px 588px,#cfb719 588px 589px,#d2ba17 589px 590px,#dac113 590px 591px,#d8c014 591px 592px,#d4bc16 592px 593px,#c2ac1f 593px 594px,#bca721 594px 595px,#c1ab1f 595px 596px,#c7b01d 596px 597px,#d0b818 597px 598px,#cdb61a 598px 599px,#cbb41b 599px 600px,#cfb719 600px 601px,#b4a024 601px 602px,#b29e25 602px 603px,#ae9a27 603px 604px,#af9b26 604px 605px,#ae9b26 605px 606px,#a5922a 606px 607px,#b4a024 607px 608px,#c8b21c 608px 609px,#b4a024 609px 610px,#ab9828 610px 611px,#b9a422 611px 612px,#c2ac1f 612px 613px,#b19d25 613px 614px,#ac9827 614px 615px,#ac9927 615px 616px,#bca721 616px 617px,#b7a323 617px 618px,#af9c26 618px 619px,#b09c26 619px 620px,#ad9a27 620px 621px,#ac9927 621px 622px,#b19d25 622px 623px,#897a39 623px 624px,#796c42 624px 625px,#85763b 625px 626px,#7f713f 626px 627px,#87783a 627px 628px,#82733d 628px 629px,#7e703f 629px 630px,#726645 630px 631px,#716546 631px 632px,#746745 632px 633px,#6d6148 633px 634px,#796c42 634px 635px,#7b6e41 635px 636px,#7c6e40 636px 637px,#938333 637px 638px,#84763c 638px 639px,#7a6d41 639px 640px,#6c6049 640px 641px,#7b6e41 641px 642px,#716546 642px 643px,#85773b 643px 644px,#8d7d37 644px 645px,#83743d 645px 646px,#897a39 646px 647px,#4c455b 647px 648px,#4e4759 648px 649px,#534b57 649px 650px,#47405e 650px 651px,#4d465a 651px 652px,#3d3863 652px 653px,#353167 653px 654px,#332f68 654px 655px,#25226f 655px 656px,#131177 656px 657px,#1a1873 657px 658px,#2e2a6a 658px 659px,#393565 659px 660px,#49425d 660px 661px,#504859 661px 662px,#595053 662px 663px,#60564f 663px 664px,#62574e 664px 665px,#61564f 665px 666px,#7a6c42 666px 667px,#8c7c38 667px 668px,#8c7c37 668px 669px,#908035 669px 670px,#9e8c2d 670px 671px,#a4922a 671px 672px,#928234 672px 673px,#938333 673px 674px,#a3912b 674px 675px,#a2902b 675px 676px,#9d8b2e 676px 677px,#897a39 677px 678px,#998830 678px 679px,#978631 679px 680px,#9c8a2e 680px 681px,#a3902b 681px 682px,#a18f2b 682px 683px,#a3902b 683px 684px,#8b7b38 684px 685px,#998730 685px 686px,#918134 686px 687px,#968531 687px 688px,#8f7f36 688px 689px,#9d8c2e 689px 690px,#a18f2c 690px 691px,#928234 691px 692px,#a99629 692px 693px,#968532 693px 694px,#9a892f 694px 695px,#9e8c2d 695px 696px,#9d8c2e 696px 697px,#a79529 697px 698px,#9c8b2e 698px 699px,#9b8a2f 699px 700px,#9b892f 700px 701px,#978631 701px 702px,#938234 702px 703px,#9f8d2d 703px 704px,#978631 704px 705px,#9c8b2e 705px 706px,#9d8b2e 706px 707px,#928134 707px 708px,#897a39 708px 709px,#8f7f36 709px 710px,#86773b 710px 711px,#988730 711px 712px,#85763b 712px 713px,#8f7f36 713px 714px,#aa9728 714px 715px,#9b892f 715px 716px,#b19d25 716px 717px,#b09c26 717px 718px,#baa522 718px 719px,#ac9927 719px 720px,#af9b26 720px 721px,#b29e25 721px 722px,#ab9828 722px 723px,#a99628 723px 724px,#a89529 724px 725px,#9b8a2f 725px 726px,#a89529 726px 728px,#9d8b2e 728px 729px,#af9b26 729px 730px,#a4912b 730px 731px,#b09c26 731px 732px,#ad9a27 732px 733px,#bda821 733px 734px,#a6942a 734px 735px,#ab9828 735px 736px,#9b8a2f 736px 737px,#9f8e2c 737px 738px,#ad9927 738px 739px,#ae9a27 739px 740px,#af9b26 740px 741px,#bca721 741px 742px,#a99628 742px 743px,#a4912b 743px 744px,#a79429 744px 746px,#ab9828 746px 747px,#ac9927 747px 748px,#bca721 748px 749px,#b9a522 749px 750px,#a5932a 750px 751px,#ac9927 751px 752px,#ab9828 752px 753px,#9d8c2d 753px 754px,#aa9728 754px 755px,#b5a124 755px 756px,#ab9828 756px 757px,#a89529 757px 758px,#baa522 758px 759px,#a18f2b 759px 760px,#b29e25 760px 761px,#ae9b26 761px 762px,#af9b26 762px 763px,#baa522 763px 764px,#af9c26 764px 765px,#b29e25 765px 766px,#ae9a27 766px 767px,#b29e25 767px 768px,#a89529 768px 769px,#b29e25 769px 770px,#a2902b 770px 771px,#8c7c37 771px 772px,#7d6f40 772px 773px,#786b42 773px 774px,#7b6e41 774px 775px,#706347 775px 776px,#756844 776px 777px,#7e703f 777px 778px,#8a7a39 778px 779px,#83743d 779px 780px,#958432 780px 782px,#88793a 782px 783px,#998830 783px 784px,#918135 784px 785px,#9d8c2e 785px 786px,#918135 786px 787px,#ab9828 787px 788px,#988730 788px 789px,#9c8a2e 789px 790px,#958433 790px 791px,#988731 791px 792px,#9c8a2f 792px 793px,#918134 793px 794px,#918135 794px 795px,#928234 795px 796px,#918135 796px 797px,#8b7b38 797px 798px,#918135 798px 799px,#a79429 799px 800px,#948333 800px 801px,#a5932a 801px 802px,#928234 802px 803px,#988731 803px 804px,#a2902b 804px 805px,#998830 805px 806px,#a08e2c 806px 807px,#998830 807px 808px,#968531 808px 809px,#958432 809px 810px,#9f8d2d 810px 811px,#978631 811px 812px,#9b892f 812px 813px,#988731 813px 814px,#ac9827 814px 815px,#938233 815px 816px,#ab9828 816px 817px,#c6b01d 817px 818px,#baa522 818px 819px,#bba622 819px 820px,#b9a422 820px 821px,#ac9927 821px 822px,#b4a024 822px 823px,#b5a124 823px 824px,#af9b26 824px 825px,#b4a024 825px 826px,#b09c26 826px 827px,#a89529 827px 828px,#b19e25 828px 829px,#c0aa20 829px 830px,#b09c26 830px 831px,#bba621 831px 832px,#b19d26 832px 833px,#b4a024 833px 834px,#ad9927 834px 835px,#baa522 835px 836px,#b4a024 836px 837px,#b19d25 837px 838px,#ac9927 838px 839px,#b19d26 839px 840px,#b7a323 840px 841px,#b09c26 841px 842px,#b49f24 842px 843px,#b6a124 843px 844px,#b8a323 844px 845px,#a5922a 845px 846px,#b4a024 846px 848px,#b5a124 848px 849px,#bda821 849px 850px,#b7a323 850px 851px,#b39f25 851px 852px,#b7a323 852px 853px,#b5a124 853px 854px,#b19d26 854px 855px,#b39f25 855px 856px,#b5a024 856px 857px,#b9a422 857px 858px,#b8a422 858px 859px,#ae9b26 859px 860px,#b6a124 860px 861px,#c1ab1f 861px 862px,#baa522 862px 863px,#bea920 863px 864px,#b19d25 864px 865px,#bda821 865px 866px,#baa522 866px 867px,#b29e25 867px 868px,#b4a024 868px 869px,#bea920 869px 870px,#b8a323 870px 871px,#c5af1e 871px 872px,#b8a323 872px 873px,#b4a024 873px 874px,#b29e25 874px 875px,#b39f25 875px 877px,#b4a024 877px 878px,#c0ab20 878px 879px,#c8b11c 879px 880px,#bfaa20 880px 881px,#c1ab1f 881px 882px,#b9a422 882px 883px,#bba621 883px 884px,#b6a124 884px 886px,#b7a323 886px 887px,#bfa920 887px 888px,#af9b26 888px 889px,#ad9927 889px 890px,#ae9a27 890px 891px,#af9b26 891px 892px,#b49f24 892px 893px,#b39f25 893px 894px,#bca721 894px 895px,#a99629 895px 896px,#b09c26 896px 897px,#a4912b 897px 898px,#a99628 898px 899px,#988731 899px 900px,#ad9a27 900px 901px,#a3902b 901px 902px,#a99629 902px 903px,#9a8830 903px 904px,#9b8a2f 904px 905px,#af9b26 905px 906px,#a79529 906px 907px,#a4912a 907px 908px,#9f8d2c 908px 909px,#a08e2c 909px 910px,#9d8b2e 910px 911px,#9f8d2d 911px 912px,#ae9b26 912px 913px,#aa9728 913px 914px,#b29e25 914px 915px,#a79429 915px 916px,#b39f24 916px 917px,#b6a124 917px 918px,#a89529 918px 919px,#ac9927 919px 920px,#b5a024 920px 921px,#b29e25 921px 922px,#ad9a27 922px 923px,#a28f2b 923px 924px,#a89529 924px 925px,#a08e2c 925px 926px,#ab9828 926px 927px,#b09c26 927px 928px,#bba621 928px 929px,#aa9728 929px 930px,#a99629 930px 931px,#aa9728 931px 932px,#b19d25 932px 933px,#b39f25 933px 934px,#a79429 934px 935px,#ac9927 935px 936px,#998830 936px 937px,#a89529 937px 938px,#a08e2c 938px 939px,#a79529 939px 940px,#938333 940px 941px,#aa9728 941px 942px,#9c8b2e 942px 943px,#a99629 943px 944px,#9f8e2c 944px 945px,#ae9b26 945px 946px,#a89529 946px 947px,#ab9828 947px 948px,#aa9728 948px 949px,#a6932a 949px 950px,#a5922a 950px 951px,#aa9628 951px 952px,#a5922a 952px 953px,#a89529 953px 954px,#b09c26 954px 955px,#b29e25 955px 956px,#b8a323 956px 957px,#b49f24 957px 958px,#af9b26 958px 959px,#ae9b26 959px 960px,#a79429 960px 961px,#a99629 961px 962px,#a6932a 962px 963px,#ac9827 963px 964px,#ad9927 964px 965px,#b19d26 965px 966px,#b9a422 966px 967px,#7f713f 967px 968px,#786b43 968px 970px,#7c6e40 970px 971px,#736645 971px 972px,#756844 972px 973px,#6a5f4a 973px 974px,#786a43 974px 975px,#706447 975px 976px,#63584e 976px 977px,#6b5f4a 977px 978px,#6b5f49 978px 979px,#6e6248 979px 980px,#6b5f49 980px 981px,#7b6d41 981px 982px,#756844 982px 983px,#736645 983px 985px,#6d6148 985px 986px,#736645 986px 987px,#706447 987px 988px,#6d6148 988px 989px,#6e6248 989px 990px,#8d7d37 990px 992px,#8a7b38 992px 993px,#8a7b39 993px 994px,#978631 994px 995px,#9b8a2f 995px 996px,#938234 996px 997px,#8a7a39 997px 998px,#86773b 998px 999px,#8a7a39 999px 1000px,#8c7c37 1000px 1001px,#8a7b38 1001px 1002px,#968532 1002px 1003px,#9b8a2f 1003px 1004px,#a2902b 1004px 1005px,#9a892f 1005px 1006px,#928134 1006px 1007px,#87783a 1007px 1008px,#9c8b2e 1008px 1009px,#958532 1009px 1010px,#8c7d37 1010px 1011px,#968631 1011px 1012px,#938234 1012px 1013px,#948333 1013px 1015px,#938333 1015px 1016px,#9b8a2f 1016px 1017px,#968532 1017px 1018px,#918035 1018px 1019px,#918135 1019px 1020px,#8d7e37 1020px 1022px,#968631 1022px 1023px,#958532 1023px 1024px,#9c8a2e 1024px 1025px,#9e8d2d 1025px 1026px,#bca721 1026px 1027px,#b6a223 1027px 1028px,#ac9827 1028px 1029px,#a99629 1029px 1030px,#9f8d2c 1030px 1031px,#9a892f 1031px 1032px,#b19d25 1032px 1033px,#b09c26 1033px 1034px,#aa9728 1034px 1035px,#a08e2c 1035px 1036px,#9c8a2e 1036px 1037px,#958532 1037px 1038px,#9a892f 1038px 1039px,#9c8a2e 1039px 1040px,#9f8e2c 1040px 1041px,#a89529 1041px 1042px,#b09d26 1042px 1043px,#9c8a2e 1043px 1044px,#a18f2c 1044px 1045px,#af9c26 1045px 1046px,#b49f24 1046px 1047px,#c4ae1e 1047px 1048px,#c8b11c 1048px 1049px,#dbc213 1049px 1050px,#c1ab1f 1050px 1051px,#d0b818 1051px 1052px,#d7be15 1052px 1053px,#c8b21c 1053px 1054px,#d0b918 1054px 1055px,#ccb51a 1055px 1056px,#c9b21c 1056px 1057px,#d5bd16 1057px 1058px)"></div>
<div style="position:absolute;left:1780.50px;top:14.3px;width:63.90px;height:1058px;opacity:.9;background:linear-gradient(180deg,#e8ce0c 0px 1px,#dec511 1px 2px,#e2c810 2px 3px,#efd409 3px 4px,#ddc412 4px 5px,#eacf0c 5px 6px,#e2c810 6px 7px,#dcc312 7px 8px,#e8ce0c 8px 9px,#d5bd16 9px 10px,#dac113 10px 12px,#e9ce0c 12px 13px,#cfb819 13px 14px,#d9c014 14px 15px,#e2c80f 15px 17px,#f1d707 17px 18px,#e9ce0c 18px 19px,#e2c810 19px 20px,#dec511 20px 21px,#e4ca0e 21px 22px,#d8bf14 22px 23px,#e0c610 23px 24px,#eacf0c 24px 25px,#dec511 25px 26px,#e8cd0d 26px 27px,#e2c810 27px 28px,#dec411 28px 29px,#d2ba17 29px 30px,#d6bd15 30px 31px,#d5bc16 31px 32px,#d7bf15 32px 33px,#c7b11c 33px 34px,#ceb619 34px 35px,#c4ae1e 35px 36px,#d8bf14 36px 37px,#e1c710 37px 38px,#d3bb17 38px 39px,#d7be15 39px 40px,#e0c610 40px 41px,#dbc213 41px 42px,#d5bd16 42px 43px,#d4bc16 43px 45px,#d8c014 45px 46px,#f2d807 46px 47px,#e7cd0d 47px 48px,#e1c810 48px 49px,#dec511 49px 50px,#e7cc0d 50px 51px,#d9c114 51px 52px,#eacf0b 52px 53px,#dac113 53px 54px,#d3bb17 54px 55px,#d2ba17 55px 56px,#d5bd16 56px 57px,#d3bb17 57px 58px,#e4ca0e 58px 59px,#dbc213 59px 60px,#d0b818 60px 61px,#d9c014 61px 62px,#e7cc0d 62px 63px,#e5ca0e 63px 64px,#eacf0b 64px 65px,#dec511 65px 66px,#ddc412 66px 67px,#efd409 67px 68px,#e6cc0d 68px 69px,#ecd10b 69px 70px,#e4ca0e 70px 71px,#d7be15 71px 72px,#ffe600 72px 73px,#e2c80f 73px 74px,#cab31b 74px 75px,#ceb719 75px 76px,#d2ba17 76px 77px,#bda821 77px 78px,#bca721 78px 79px,#c7b01d 79px 80px,#c1ab1f 80px 81px,#c3ad1e 81px 82px,#bda721 82px 83px,#c4ae1e 83px 84px,#c1ab1f 84px 85px,#b8a323 85px 86px,#d8c014 86px 87px,#bba622 87px 88px,#bea920 88px 89px,#bca721 89px 90px,#cfb819 90px 91px,#c4ae1e 91px 92px,#b5a124 92px 93px,#c0ab1f 93px 94px,#c4ae1e 94px 95px,#b49f24 95px 96px,#cdb619 96px 97px,#bba622 97px 98px,#c2ac1f 98px 99px,#c5af1e 99px 100px,#b7a223 100px 101px,#b9a422 101px 102px,#bca721 102px 103px,#b19e25 103px 104px,#c4ae1e 104px 105px,#b9a422 105px 106px,#b09c26 106px 108px,#c1ab1f 108px 109px,#b4a024 109px 110px,#bda821 110px 111px,#cbb41b 111px 113px,#c2ac1f 113px 114px,#bca721 114px 115px,#c4ae1e 115px 116px,#bba622 116px 117px,#c9b21c 117px 118px,#c6b01d 118px 119px,#ccb51a 119px 120px,#cbb41b 120px 121px,#b8a323 121px 122px,#bfa920 122px 123px,#b8a423 123px 124px,#b5a124 124px 125px,#bda821 125px 126px,#bfa920 126px 127px,#b8a323 127px 128px,#bea920 128px 129px,#c4ae1e 129px 130px,#c5af1d 130px 131px,#c4ae1e 131px 132px,#cab31b 132px 133px,#bfaa20 133px 134px,#c7b11c 134px 135px,#c3ad1e 135px 136px,#c5ae1e 136px 137px,#b7a323 137px 138px,#b4a024 138px 139px,#b29e25 139px 140px,#b19d25 140px 141px,#bfaa20 141px 142px,#b7a223 142px 143px,#cab31b 143px 144px,#c3ad1e 144px 145px,#b6a223 145px 146px,#ad9927 146px 147px,#a4922a 147px 148px,#b09c26 148px 149px,#b09d26 149px 150px,#b7a223 150px 151px,#c7b11c 151px 152px,#c4ae1e 152px 153px,#d4bc16 153px 154px,#eacf0b 154px 155px,#e2c80f 155px 156px,#ecd10b 156px 157px,#ebd00b 157px 158px,#ffe600 158px 159px,#ecd10b 159px 160px,#dec511 160px 161px,#e7cc0d 161px 162px,#e4ca0e 162px 163px,#e2c90f 163px 164px,#e5ca0e 164px 165px,#dfc611 165px 166px,#ecd10a 166px 167px,#e4ca0f 167px 168px,#e8cd0c 168px 169px,#d9c014 169px 170px,#dfc611 170px 171px,#f1d708 171px 172px,#e0c710 172px 173px,#eacf0c 173px 174px,#dbc213 174px 175px,#eacf0c 175px 176px,#e0c710 176px 177px,#d8c014 177px 178px,#e4c90f 178px 179px,#e5cb0e 179px 180px,#d2ba17 180px 181px,#e5ca0e 181px 182px,#dec511 182px 183px,#e0c710 183px 184px,#dac113 184px 185px,#e6cb0e 185px 186px,#d1b918 186px 187px,#ead00b 187px 188px,#d1b918 188px 189px,#e6cc0d 189px 190px,#f2d807 190px 191px,#e2c810 191px 192px,#e9ce0c 192px 193px,#e5cb0e 193px 194px,#dcc312 194px 195px,#dfc611 195px 196px,#d0b818 196px 197px,#e1c710 197px 198px,#d5bd16 198px 199px,#d6be15 199px 200px,#c4ae1e 200px 201px,#968532 201px 202px,#978631 202px 203px,#9e8c2d 203px 204px,#988730 204px 206px,#978631 206px 207px,#83743d 207px 208px,#928234 208px 209px,#938333 209px 210px,#897a39 210px 211px,#948333 211px 212px,#958433 212px 213px,#8c7c38 213px 214px,#8a7a39 214px 215px,#968532 215px 216px,#918135 216px 217px,#968532 217px 218px,#84753c 218px 219px,#918135 219px 220px,#8f7f36 220px 221px,#8f7f35 221px 222px,#8c7c37 222px 223px,#938233 223px 224px,#968532 224px 225px,#918135 225px 226px,#8a7b39 226px 227px,#968532 227px 228px,#87783a 228px 229px,#84753c 229px 230px,#9c8b2e 230px 231px,#908035 231px 232px,#9f8d2d 232px 233px,#978631 233px 234px,#968532 234px 236px,#8b7b38 236px 237px,#b7a223 237px 238px,#b6a123 238px 239px,#b4a024 239px 240px,#bba621 240px 241px,#b39f25 241px 242px,#ac9827 242px 243px,#b29e25 243px 244px,#baa522 244px 245px,#bda821 245px 247px,#b4a024 247px 248px,#c4ae1e 248px 249px,#b09c26 249px 250px,#bea920 250px 251px,#c1ab1f 251px 252px,#c2ac1f 252px 253px,#c0aa20 253px 255px,#c5af1e 255px 256px,#c3ad1e 256px 257px,#baa522 257px 258px,#b6a223 258px 259px,#b19e25 259px 260px,#c4ae1e 260px 261px,#b9a422 261px 262px,#bda821 262px 263px,#b8a423 263px 264px,#d1b918 264px 265px,#c9b21c 265px 266px,#bfaa20 266px 267px,#b29e25 267px 268px,#bda821 268px 269px,#af9b26 269px 270px,#ad9927 270px 271px,#bea920 271px 272px,#c2ac1f 272px 273px,#b6a223 273px 274px,#c4ae1e 274px 275px,#c3ad1e 275px 276px,#c6b01d 276px 277px,#c8b11c 277px 278px,#c6b01d 278px 279px,#c4ae1e 279px 280px,#c0ab1f 280px 281px,#c6b01d 281px 282px,#d1ba17 282px 283px,#c4ae1e 283px 285px,#c3ad1e 285px 286px,#b8a323 286px 287px,#bca721 287px 288px,#c1ab1f 288px 289px,#b7a323 289px 290px,#b8a423 290px 292px,#b9a422 292px 293px,#af9b26 293px 294px,#bba622 294px 295px,#b7a223 295px 296px,#b19d25 296px 297px,#b09c26 297px 298px,#b8a323 298px 299px,#bda821 299px 300px,#bca721 300px 301px,#baa522 301px 302px,#c5af1d 302px 303px,#b4a024 303px 304px,#958432 304px 305px,#ae9b26 305px 306px,#a3912b 306px 307px,#948333 307px 308px,#a28f2b 308px 309px,#988731 309px 310px,#968532 310px 311px,#9c8b2e 311px 312px,#998830 312px 313px,#9a892f 313px 314px,#9a8930 314px 315px,#958432 315px 316px,#9b8a2f 316px 317px,#938234 317px 318px,#9c8a2e 318px 319px,#948333 319px 320px,#958432 320px 321px,#948433 321px 322px,#968532 322px 323px,#978631 323px 324px,#a18f2c 324px 325px,#9d8b2e 325px 326px,#85763b 326px 327px,#918135 327px 328px,#958432 328px 329px,#a4922a 329px 330px,#948333 330px 331px,#8d7e37 331px 332px,#8f7f36 332px 333px,#928234 333px 334px,#998830 334px 335px,#8f7f36 335px 336px,#9b892f 336px 337px,#83753c 337px 338px,#918134 338px 339px,#908035 339px 341px,#958432 341px 342px,#9f8d2c 342px 343px,#9c8a2f 343px 344px,#968532 344px 345px,#928134 345px 346px,#998830 346px 347px,#9c8b2e 347px 348px,#82743d 348px 349px,#8f7f36 349px 350px,#928134 350px 351px,#978631 351px 352px,#908035 352px 353px,#85763b 353px 354px,#8c7c37 354px 355px,#8a7a39 355px 356px,#8d7d37 356px 357px,#948433 357px 358px,#af9b26 358px 359px,#ac9827 359px 360px,#b8a423 360px 361px,#ad9927 361px 362px,#b09c26 362px 363px,#b7a223 363px 364px,#ab9828 364px 365px,#a89529 365px 366px,#a5922a 366px 367px,#b7a223 367px 368px,#bba621 368px 370px,#bea920 370px 371px,#b5a124 371px 372px,#ad9a27 372px 373px,#a08e2c 373px 374px,#a3912b 374px 375px,#a6932a 375px 376px,#b09c26 376px 377px,#a08e2c 377px 378px,#b09d26 378px 379px,#b39f25 379px 380px,#b19d25 380px 381px,#ad9927 381px 382px,#ab9828 382px 383px,#b9a422 383px 384px,#b09c26 384px 385px,#b5a124 385px 386px,#bca721 386px 387px,#baa522 387px 388px,#b39f25 388px 389px,#a4922a 389px 390px,#bba621 390px 391px,#c4ae1e 391px 392px,#b6a124 392px 393px,#af9c26 393px 394px,#b7a323 394px 395px,#b4a024 395px 396px,#b29e25 396px 397px,#a89529 397px 398px,#aa9728 398px 399px,#ae9a27 399px 400px,#a28f2b 400px 401px,#a89529 401px 402px,#b19d25 402px 403px,#ab9828 403px 404px,#a18f2c 404px 405px,#9f8d2d 405px 406px,#988730 406px 407px,#a69429 407px 408px,#9f8d2c 408px 409px,#a4922a 409px 410px,#aa9728 410px 411px,#9d8c2e 411px 412px,#a79429 412px 413px,#9f8d2d 413px 414px,#a79429 414px 415px,#968532 415px 416px,#a2902b 416px 417px,#a3912b 417px 418px,#9f8d2c 418px 419px,#978631 419px 420px,#a99629 420px 421px,#9f8d2d 421px 422px,#9b892f 422px 423px,#a5922a 423px 424px,#b29e25 424px 425px,#a6932a 425px 426px,#a08e2c 426px 427px,#978631 427px 428px,#9e8c2d 428px 429px,#a2902b 429px 430px,#9a892f 430px 431px,#a79429 431px 432px,#a99628 432px 433px,#b19d25 433px 434px,#b7a223 434px 435px,#a99628 435px 436px,#b7a323 436px 437px,#b09c26 437px 438px,#b8a423 438px 439px,#bba621 439px 440px,#ae9b26 440px 441px,#c9b31b 441px 442px,#bca721 442px 443px,#b6a223 443px 444px,#bda821 444px 445px,#bba622 445px 446px,#c6af1d 446px 447px,#c1ab1f 447px 448px,#b9a422 448px 449px,#b39f25 449px 451px,#b7a323 451px 453px,#c0aa20 453px 454px,#b8a323 454px 455px,#aa9728 455px 456px,#bfa920 456px 457px,#bba622 457px 458px,#b19d25 458px 459px,#bda821 459px 460px,#bfaa20 460px 461px,#c1ab1f 461px 462px,#baa622 462px 463px,#c0ab20 463px 464px,#bba621 464px 465px,#bba622 465px 466px,#bda821 466px 467px,#b39f25 467px 468px,#ac9927 468px 469px,#bea920 469px 470px,#cab31b 470px 471px,#c8b21c 471px 472px,#d5bc16 472px 473px,#dfc611 473px 474px,#d8bf14 474px 475px,#dfc511 475px 476px,#d8c014 476px 477px,#eacf0c 477px 478px,#f2d707 478px 479px,#e5cb0e 479px 480px,#d7be15 480px 481px,#d4bc16 481px 482px,#d6be15 482px 483px,#dec511 483px 484px,#d5bd16 484px 485px,#dfc611 485px 486px,#dbc213 486px 487px,#dcc312 487px 488px,#d9c014 488px 489px,#dbc213 489px 490px,#d2bb17 490px 491px,#ccb51a 491px 492px,#d2ba17 492px 493px,#c3ad1e 493px 494px,#c8b21c 494px 495px,#d3bb17 495px 496px,#d2bb17 496px 497px,#cbb41b 497px 498px,#bea920 498px 499px,#c2ac1f 499px 500px,#d5bd15 500px 501px,#ceb719 501px 502px,#d0b818 502px 503px,#bfaa20 503px 504px,#bda721 504px 505px,#cbb41b 505px 506px,#c4ae1e 506px 507px,#ceb619 507px 508px,#c2ac1f 508px 509px,#d0b918 509px 510px,#d6be15 510px 511px,#c1ab1f 511px 512px,#d0b918 512px 513px,#d1b918 513px 514px,#cbb41b 514px 515px,#dac114 515px 516px,#d2bb17 516px 517px,#e8cd0d 517px 518px,#c8b21c 518px 519px,#d0b818 519px 520px,#cfb719 520px 521px,#e1c710 521px 522px,#ddc412 522px 523px,#d9c014 523px 524px,#dfc511 524px 525px,#c6b01d 525px 526px,#c9b31b 526px 527px,#cab31b 527px 528px,#c7b01d 528px 529px,#c8b11c 529px 530px,#d1ba18 530px 531px,#d6be15 531px 532px,#c6b01d 532px 533px,#cfb819 533px 534px,#c3ad1e 534px 535px,#d2ba17 535px 537px,#c3ad1e 537px 538px,#c9b31b 538px 539px,#ceb719 539px 540px,#c3ad1e 540px 541px,#c6af1d 541px 542px,#c7b11c 542px 543px,#bba622 543px 544px,#b7a323 544px 545px,#a89529 545px 546px,#ad9a27 546px 547px,#b09c26 547px 548px,#a99628 548px 549px,#b8a423 549px 550px,#b39f24 550px 551px,#baa522 551px 552px,#ae9b26 552px 553px,#bea920 553px 554px,#a3902b 554px 555px,#b7a223 555px 556px,#b19d25 556px 557px,#b39f25 557px 558px,#ae9a27 558px 559px,#bba622 559px 560px,#bba621 560px 561px,#ae9b26 561px 562px,#b7a323 562px 563px,#c2ad1f 563px 564px,#b29e25 564px 565px,#c1ac1f 565px 566px,#c2ac1f 566px 567px,#b5a124 567px 568px,#c4ae1e 568px 569px,#c2ad1f 569px 570px,#c8b11c 570px 571px,#c3ad1e 571px 572px,#c9b21c 572px 573px,#b5a024 573px 574px,#b6a223 574px 575px,#b8a323 575px 576px,#c9b21c 576px 577px,#bda821 577px 578px,#b6a124 578px 579px,#bda821 579px 580px,#bba621 580px 581px,#c0ab20 581px 582px,#c6af1d 582px 583px,#c6b01d 583px 584px,#bca721 584px 585px,#cab31b 585px 586px,#c7b11c 586px 587px,#cab31b 587px 588px,#c3ad1e 588px 589px,#ccb51a 589px 590px,#d2ba17 590px 591px,#c8b11c 591px 592px,#c1ac1f 592px 593px,#b8a323 593px 594px,#cbb41a 594px 595px,#c8b11c 595px 596px,#c9b31b 596px 597px,#c5af1e 597px 598px,#c3ad1e 598px 599px,#c1ab1f 599px 600px,#bba622 600px 601px,#cab31b 601px 602px,#bea920 602px 603px,#b7a323 603px 604px,#c5af1e 604px 605px,#d4bc16 605px 606px,#c2ac1f 606px 607px,#e3c90f 607px 608px,#e6cc0d 608px 609px,#d1b918 609px 610px,#d3bb17 610px 611px,#d0b818 611px 612px,#d7bf15 612px 613px,#ccb51a 613px 615px,#c5af1e 615px 616px,#e4ca0e 616px 617px,#dcc312 617px 618px,#dfc511 618px 619px,#e5cb0e 619px 620px,#ceb719 620px 621px,#d5bd16 621px 622px,#dac113 622px 623px,#29266d 623px 624px,#201e70 624px 625px,#29266d 625px 626px,#211f70 626px 627px,#27246e 627px 628px,#353067 628px 629px,#343068 629px 630px,#2c286b 630px 631px,#2d296b 631px 632px,#211e70 632px 633px,#2a276c 633px 634px,#322e69 634px 635px,#26236e 635px 636px,#24216f 636px 637px,#353167 637px 638px,#28256d 638px 639px,#23206f 639px 640px,#0c0b7a 640px 641px,#131277 641px 642px,#100f78 642px 643px,#161575 643px 644px,#000080 644px 645px,#171575 645px 646px,#2e2b6a 646px 647px,#60554f 647px 648px,#5c5251 648px 649px,#786a43 649px 650px,#706447 650px 651px,#6c6149 651px 652px,#6b6049 652px 653px,#6d6148 653px 654px,#7d6f40 654px 655px,#86773b 655px 656px,#80713e 656px 657px,#8e7e36 657px 658px,#948333 658px 659px,#9b892f 659px 660px,#a89529 660px 661px,#918135 661px 662px,#978631 662px 663px,#918134 663px 664px,#958432 664px 665px,#928134 665px 666px,#9a892f 666px 667px,#998830 667px 668px,#9b8a2f 668px 669px,#968532 669px 670px,#a18f2c 670px 671px,#a4922a 671px 672px,#9c8b2e 672px 673px,#8e7e36 673px 674px,#948333 674px 675px,#998830 675px 676px,#9b892f 676px 677px,#958532 677px 678px,#978631 678px 679px,#9c8a2e 679px 680px,#ab9828 680px 681px,#9d8b2e 681px 682px,#ab9828 682px 683px,#bea920 683px 684px,#b6a124 684px 685px,#c9b21c 685px 686px,#bda821 686px 687px,#b29e25 687px 688px,#ab9828 688px 689px,#a89629 689px 690px,#a4922a 690px 691px,#9a8830 691px 692px,#a18f2c 692px 693px,#988730 693px 694px,#a18f2c 694px 695px,#948333 695px 696px,#938333 696px 697px,#968631 697px 698px,#938234 698px 699px,#9e8c2d 699px 700px,#958532 700px 701px,#928234 701px 702px,#8e7e36 702px 703px,#a18f2b 703px 704px,#9a892f 704px 705px,#a28f2b 705px 706px,#938233 706px 707px,#988731 707px 708px,#948333 708px 709px,#8f7f36 709px 710px,#908035 710px 711px,#a08e2c 711px 712px,#938333 712px 713px,#8c7c38 713px 714px,#a4912b 714px 715px,#8f7f36 715px 716px,#a08e2c 716px 717px,#a6932a 717px 718px,#9f8d2d 718px 719px,#8f7f36 719px 720px,#9f8d2d 720px 721px,#ac9927 721px 722px,#988731 722px 723px,#a5922a 723px 724px,#a79429 724px 725px,#a2902b 725px 726px,#bca721 726px 727px,#b7a323 727px 728px,#b6a223 728px 729px,#bea920 729px 730px,#ac9927 730px 731px,#baa522 731px 732px,#b39f24 732px 733px,#c4ae1e 733px 734px,#b4a024 734px 735px,#c7b11c 735px 736px,#af9b26 736px 737px,#aa9728 737px 738px,#b19d25 738px 739px,#b39f25 739px 740px,#b19e25 740px 741px,#af9b26 741px 742px,#b09c26 742px 743px,#af9c26 743px 744px,#a5932a 744px 745px,#a3912b 745px 746px,#a79429 746px 747px,#9c8a2e 747px 748px,#a99629 748px 749px,#a6932a 749px 750px,#a18f2c 750px 751px,#9c8b2e 751px 752px,#a18f2c 752px 753px,#a3912b 753px 754px,#9f8d2c 754px 755px,#ad9a27 755px 756px,#a5932a 756px 757px,#a6932a 757px 758px,#b6a124 758px 759px,#9e8c2d 759px 760px,#a79529 760px 761px,#9c8a2e 761px 762px,#a18f2c 762px 763px,#b19d26 763px 764px,#ab9728 764px 765px,#9d8c2e 765px 766px,#b09c26 766px 767px,#a6932a 767px 768px,#a08e2c 768px 769px,#9a892f 769px 770px,#a5932a 770px 771px,#a3912b 771px 772px,#a4922a 772px 773px,#b39f25 773px 774px,#ad9927 774px 775px,#a08e2c 775px 776px,#a3902b 776px 777px,#a18e2c 777px 778px,#9a892f 778px 779px,#9b8a2f 779px 780px,#968631 780px 781px,#978631 781px 782px,#9a8830 782px 783px,#9c8b2e 783px 784px,#908035 784px 785px,#a99629 785px 786px,#9b8a2f 786px 787px,#948433 787px 788px,#9d8b2e 788px 789px,#958532 789px 790px,#84753c 790px 791px,#9b8a2f 791px 793px,#978631 793px 794px,#938333 794px 795px,#948433 795px 796px,#8f7f36 796px 797px,#9a8830 797px 798px,#897a39 798px 799px,#998730 799px 800px,#87773b 800px 801px,#9e8c2d 801px 802px,#948333 802px 803px,#918135 803px 804px,#9b8a2f 804px 805px,#9d8c2e 805px 806px,#9a892f 806px 807px,#9b892f 807px 808px,#928234 808px 809px,#8e7e37 809px 810px,#968532 810px 811px,#938333 811px 812px,#928234 812px 813px,#9d8b2e 813px 814px,#a3912b 814px 815px,#978631 815px 816px,#88783a 816px 817px,#9a892f 817px 818px,#978631 818px 819px,#a08e2c 819px 820px,#9d8c2e 820px 821px,#a2902b 821px 822px,#a3912b 822px 823px,#b39e25 823px 824px,#a2902b 824px 825px,#a08e2c 825px 826px,#a6932a 826px 827px,#ac9827 827px 828px,#ac9927 828px 829px,#b9a422 829px 830px,#ab9828 830px 831px,#af9b26 831px 832px,#aa9728 832px 833px,#b09c26 833px 834px,#ad9a27 834px 836px,#b5a024 836px 837px,#bfa920 837px 838px,#b7a223 838px 839px,#ae9b26 839px 841px,#ab9828 841px 842px,#b8a323 842px 843px,#b39f25 843px 844px,#c7b11c 844px 845px,#b39f25 845px 846px,#bda821 846px 847px,#b7a323 847px 848px,#b29e25 848px 849px,#b6a223 849px 850px,#b19d25 850px 851px,#ad9927 851px 852px,#b9a422 852px 853px,#b19e25 853px 854px,#a79429 854px 855px,#ae9b26 855px 856px,#a3912b 856px 857px,#b5a124 857px 858px,#b29e25 858px 859px,#a89529 859px 860px,#998830 860px 861px,#b5a124 861px 862px,#b19d26 862px 863px,#aa9728 863px 864px,#a89529 864px 865px,#b39f25 865px 866px,#aa9728 866px 867px,#9b8a2f 867px 868px,#b39f25 868px 871px,#ad9a27 871px 872px,#a99628 872px 873px,#ac9927 873px 874px,#b6a223 874px 875px,#a4922a 875px 876px,#b19d25 876px 877px,#b09c26 877px 879px,#ae9b26 879px 881px,#baa522 881px 882px,#ad9a27 882px 883px,#ae9a27 883px 884px,#a6932a 884px 885px,#9f8d2d 885px 886px,#a4912a 886px 887px,#a2902b 887px 888px,#948333 888px 889px,#9f8d2c 889px 890px,#9a892f 890px 891px,#9b8a2f 891px 892px,#9c8a2e 892px 893px,#a08e2c 893px 894px,#958432 894px 895px,#9a8830 895px 896px,#9c8a2e 896px 897px,#9f8d2d 897px 898px,#a18f2c 898px 899px,#938234 899px 900px,#9b8a2f 900px 901px,#9e8d2d 901px 902px,#a89529 902px 903px,#938233 903px 904px,#8c7d37 904px 905px,#988731 905px 906px,#9a892f 906px 907px,#918134 907px 908px,#8c7c37 908px 909px,#86773b 909px 910px,#81723e 910px 911px,#8e7e36 911px 912px,#8f7f36 912px 913px,#83743d 913px 914px,#918134 914px 915px,#81723e 915px 916px,#9a8830 916px 917px,#928234 917px 918px,#80723e 918px 919px,#8d7d37 919px 920px,#968532 920px 921px,#978631 921px 922px,#8a7a39 922px 923px,#918035 923px 924px,#9e8c2d 924px 925px,#928234 925px 926px,#85763b 926px 927px,#8a7a39 927px 928px,#948433 928px 929px,#8c7c38 929px 930px,#80723e 930px 931px,#7b6d41 931px 932px,#897a39 932px 933px,#948433 933px 934px,#897939 934px 935px,#7e703f 935px 936px,#7a6c42 936px 937px,#887939 937px 938px,#9e8d2d 938px 939px,#86773b 939px 940px,#8b7b38 940px 941px,#8b7c38 941px 942px,#83743d 942px 943px,#907f35 943px 944px,#928234 944px 945px,#897939 945px 946px,#8a7a39 946px 947px,#988731 947px 948px,#9a892f 948px 949px,#978631 949px 950px,#a2902b 950px 951px,#a99629 951px 952px,#a79529 952px 953px,#a4922a 953px 954px,#af9c26 954px 956px,#af9b26 956px 957px,#9e8c2d 957px 958px,#a6932a 958px 959px,#b09c26 959px 960px,#958432 960px 961px,#9b892f 961px 962px,#9d8c2d 962px 963px,#a4912b 963px 964px,#978631 964px 965px,#9d8c2d 965px 966px,#9e8c2d 966px 967px,#84753c 967px 968px,#86773b 968px 969px,#85763b 969px 970px,#8c7c37 970px 971px,#81723e 971px 972px,#83753c 972px 973px,#786a43 973px 974px,#7f713f 974px 975px,#7d6f40 975px 976px,#796c42 976px 977px,#82733d 977px 978px,#7c6e40 978px 979px,#83753c 979px 980px,#84753c 980px 981px,#8b7b38 981px 982px,#80713e 982px 983px,#84753c 983px 984px,#7d6f40 984px 985px,#86773b 985px 986px,#897a39 986px 987px,#87783a 987px 988px,#786b43 988px 989px,#7c6e41 989px 990px,#938234 990px 991px,#8c7c38 991px 992px,#938333 992px 993px,#998730 993px 994px,#918135 994px 995px,#9d8b2e 995px 996px,#918134 996px 997px,#8f7f36 997px 998px,#938234 998px 999px,#88793a 999px 1000px,#928134 1000px 1001px,#908035 1001px 1002px,#86773b 1002px 1003px,#918035 1003px 1004px,#968532 1004px 1005px,#9c8a2e 1005px 1006px,#897a39 1006px 1007px,#8b7b38 1007px 1008px,#9b8a2f 1008px 1009px,#928234 1009px 1010px,#908035 1010px 1011px,#948433 1011px 1012px,#988730 1012px 1013px,#9f8d2c 1013px 1014px,#908035 1014px 1015px,#958432 1015px 1016px,#918134 1016px 1017px,#8d7d37 1017px 1018px,#968631 1018px 1019px,#938233 1019px 1020px,#928134 1020px 1021px,#908035 1021px 1022px,#9b8a2f 1022px 1023px,#968532 1023px 1024px,#918134 1024px 1025px,#8e7e36 1025px 1026px,#9e8c2d 1026px 1027px,#948333 1027px 1028px,#978631 1028px 1029px,#9c8a2f 1029px 1030px,#998830 1030px 1031px,#86773b 1031px 1032px,#9c8b2e 1032px 1033px,#a18f2c 1033px 1034px,#968532 1034px 1035px,#8e7e36 1035px 1037px,#8f7f36 1037px 1038px,#968532 1038px 1039px,#80723e 1039px 1040px,#6b5f49 1040px 1041px,#675c4b 1041px 1043px,#5f5550 1043px 1044px,#49435c 1044px 1045px,#4a435c 1045px 1046px,#524a57 1046px 1047px,#534b56 1047px 1048px,#4b445b 1048px 1049px,#4d465a 1049px 1050px,#4b445b 1050px 1051px,#524a57 1051px 1052px,#5e5450 1052px 1053px,#504858 1053px 1054px,#675c4b 1054px 1055px,#6d6148 1055px 1056px,#6e6248 1056px 1057px,#706447 1057px 1058px)"></div>
<div style="position:absolute;left:1844.10px;top:14.3px;width:63.90px;height:1058px;opacity:.9;background:linear-gradient(180deg,#d5bd16 0px 1px,#c9b31b 1px 3px,#d0b818 3px 4px,#d0b918 4px 5px,#c6b01d 5px 6px,#c1ac1f 6px 7px,#c2ad1f 7px 8px,#bfaa20 8px 9px,#c1ab1f 9px 10px,#c4ae1e 10px 11px,#c9b21c 11px 12px,#d2ba17 12px 13px,#cfb719 13px 14px,#c8b21c 14px 15px,#ceb719 15px 16px,#d0b918 16px 17px,#dbc213 17px 18px,#ceb719 18px 19px,#d6be15 19px 20px,#c4ae1e 20px 21px,#ceb619 21px 22px,#c8b11c 22px 23px,#ceb719 23px 24px,#cdb619 24px 25px,#cdb61a 25px 26px,#cbb51a 26px 27px,#baa522 27px 28px,#ceb719 28px 29px,#cbb41a 29px 30px,#c8b11c 30px 31px,#c2ad1f 31px 32px,#c5af1d 32px 33px,#c2ac1f 33px 35px,#b39f25 35px 36px,#c5af1d 36px 37px,#d4bc16 37px 38px,#d3bb17 38px 39px,#c9b21c 39px 40px,#c8b21c 40px 41px,#d0b918 41px 42px,#bca721 42px 43px,#cbb41b 43px 44px,#c3ad1e 44px 45px,#bfa920 45px 46px,#d3bb17 46px 47px,#cab31b 47px 48px,#ceb619 48px 49px,#d1ba17 49px 50px,#d1b918 50px 51px,#cfb819 51px 52px,#d7bf15 52px 53px,#d1b918 53px 55px,#c2ac1f 55px 56px,#bfa920 56px 57px,#cfb819 57px 58px,#c8b21c 58px 59px,#ceb719 59px 60px,#cab31b 60px 61px,#cfb719 61px 62px,#d8bf14 62px 63px,#ceb719 63px 64px,#cfb719 64px 65px,#cdb61a 65px 66px,#d1ba17 66px 67px,#d9c114 67px 68px,#d2ba17 68px 69px,#d0b818 69px 70px,#bda821 70px 71px,#c3ad1e 71px 72px,#dec412 72px 73px,#d4bc16 73px 74px,#bba622 74px 75px,#b5a124 75px 76px,#bba622 76px 77px,#a99629 77px 78px,#ad9927 78px 79px,#b5a124 79px 80px,#b7a223 80px 81px,#bca721 81px 82px,#a5922a 82px 83px,#a6932a 83px 84px,#a79429 84px 85px,#af9b26 85px 86px,#b39f25 86px 87px,#a6942a 87px 88px,#a6932a 88px 89px,#af9b26 89px 90px,#b7a323 90px 91px,#b8a323 91px 92px,#b5a124 92px 93px,#bfaa20 93px 94px,#c0ab20 94px 95px,#b9a422 95px 96px,#b5a124 96px 97px,#a6932a 97px 98px,#ad9a27 98px 99px,#ab9828 99px 100px,#a89529 100px 101px,#b4a024 101px 102px,#b5a124 102px 103px,#b09d26 103px 104px,#b8a323 104px 105px,#bda821 105px 106px,#c6b01d 106px 107px,#cbb51a 107px 108px,#b5a024 108px 109px,#b4a024 109px 110px,#a89529 110px 111px,#b39f25 111px 112px,#bda821 112px 114px,#b19d25 114px 115px,#b6a223 115px 116px,#af9c26 116px 117px,#c2ac1f 117px 118px,#bca721 118px 119px,#c8b21c 119px 120px,#d5bd16 120px 121px,#c9b21c 121px 122px,#baa522 122px 123px,#bba622 123px 124px,#b7a223 124px 125px,#bca721 125px 126px,#bba621 126px 127px,#b09c26 127px 128px,#b8a323 128px 129px,#b39e25 129px 130px,#b39f25 130px 131px,#bfa920 131px 132px,#b4a024 132px 133px,#b39f25 133px 134px,#b4a024 134px 135px,#baa622 135px 136px,#bca721 136px 137px,#c3ad1f 137px 138px,#b7a323 138px 139px,#b5a124 139px 140px,#bfa920 140px 141px,#bca721 141px 142px,#bba622 142px 143px,#d2ba17 143px 144px,#cab31b 144px 145px,#cdb61a 145px 146px,#d0b818 146px 147px,#bda821 147px 148px,#c7b01d 148px 149px,#c1ab1f 149px 150px,#ccb51a 150px 152px,#c1ab1f 152px 153px,#bfaa20 153px 154px,#d8c014 154px 155px,#cbb41b 155px 156px,#c3ad1f 156px 157px,#c1ab1f 157px 158px,#ccb51a 158px 159px,#c1ab1f 159px 160px,#c7b01d 160px 162px,#bba622 162px 163px,#c1ab1f 163px 164px,#c8b11c 164px 165px,#b7a223 165px 166px,#c7b01d 166px 167px,#c4ae1e 167px 168px,#c0ab20 168px 169px,#bda821 169px 170px,#b8a323 170px 171px,#c0aa20 171px 172px,#bba622 172px 173px,#c4ae1e 173px 174px,#baa522 174px 175px,#ccb51a 175px 176px,#b9a522 176px 177px,#b4a024 177px 178px,#bda821 178px 179px,#cfb819 179px 180px,#baa522 180px 181px,#c3ad1e 181px 182px,#bca721 182px 183px,#b9a422 183px 184px,#b39f25 184px 185px,#c6af1d 185px 186px,#bba622 186px 187px,#cfb818 187px 188px,#c4ae1e 188px 189px,#bea820 189px 190px,#c0ab1f 190px 191px,#bfa920 191px 192px,#c0ab1f 192px 193px,#c4ae1e 193px 194px,#c6af1d 194px 195px,#c6b01d 195px 196px,#b8a323 196px 197px,#c4ae1e 197px 198px,#bda821 198px 199px,#c5af1d 199px 200px,#c5af1e 200px 201px,#958432 201px 203px,#978631 203px 204px,#958532 204px 205px,#918134 205px 206px,#897a39 206px 207px,#82733d 207px 208px,#897a39 208px 209px,#8a7b39 209px 210px,#80723e 210px 211px,#8f7f36 211px 212px,#958432 212px 213px,#86773b 213px 214px,#978631 214px 215px,#8f7f35 215px 216px,#86773b 216px 217px,#8b7c38 217px 218px,#7f713f 218px 219px,#8a7b38 219px 220px,#87783a 220px 221px,#88793a 221px 222px,#8f7f36 222px 223px,#998830 223px 224px,#8d7d37 224px 225px,#8a7a39 225px 226px,#84753c 226px 227px,#908035 227px 228px,#87783a 228px 229px,#908035 229px 230px,#928234 230px 231px,#8e7e36 231px 232px,#938233 232px 233px,#84763c 233px 234px,#80723e 234px 235px,#948433 235px 237px,#766944 237px 238px,#6c6049 238px 239px,#665b4c 239px 240px,#6b5f49 240px 241px,#6c6049 241px 242px,#5f554f 242px 243px,#5f5550 243px 244px,#6d6148 244px 245px,#665b4c 245px 246px,#695d4b 246px 247px,#695d4a 247px 248px,#6a5e4a 248px 249px,#665b4c 249px 250px,#716446 250px 251px,#746745 251px 252px,#716446 252px 253px,#6f6347 253px 254px,#746745 254px 255px,#6f6347 255px 256px,#6c6149 256px 257px,#716446 257px 258px,#746745 258px 259px,#716446 259px 260px,#6e6248 260px 261px,#746745 261px 262px,#695e4a 262px 263px,#62584e 263px 264px,#786b43 264px 265px,#726546 265px 266px,#6d6148 266px 267px,#695e4a 267px 268px,#6b5f49 268px 269px,#6a5f4a 269px 270px,#645a4d 270px 271px,#6e6247 271px 272px,#6e6248 272px 273px,#716446 273px 274px,#64594d 274px 276px,#716546 276px 277px,#756844 277px 278px,#736645 278px 279px,#695d4a 279px 280px,#776a43 280px 281px,#756844 281px 282px,#796c42 282px 283px,#6f6347 283px 284px,#776943 284px 285px,#796c42 285px 286px,#6f6347 286px 287px,#675c4b 287px 288px,#7c6e41 288px 289px,#6a5f4a 289px 290px,#736645 290px 291px,#6e6248 291px 292px,#736745 292px 293px,#6b6049 293px 294px,#706347 294px 295px,#6e6248 295px 296px,#695d4a 296px 297px,#6f6347 297px 298px,#6d6149 298px 299px,#776943 299px 300px,#706447 300px 301px,#6e6248 301px 302px,#776a43 302px 303px,#796b42 303px 304px,#6f6347 304px 305px,#716546 305px 306px,#766943 306px 307px,#716446 307px 308px,#7a6d41 308px 309px,#766943 309px 310px,#6c6049 310px 311px,#6a5f4a 311px 312px,#695d4a 312px 313px,#6f6347 313px 314px,#62574e 314px 315px,#6d6148 315px 316px,#6a5f4a 316px 317px,#706447 317px 318px,#6b5f49 318px 319px,#675b4c 319px 320px,#776a43 320px 321px,#6e6248 321px 322px,#746745 322px 323px,#7c6e40 323px 325px,#7b6d41 325px 326px,#675c4b 326px 327px,#726546 327px 328px,#6d6148 328px 329px,#7e703f 329px 330px,#675c4b 330px 331px,#62584e 331px 332px,#61564f 332px 333px,#6d6148 333px 335px,#7c6e40 335px 336px,#958532 336px 337px,#8d7d37 337px 338px,#8c7c37 338px 339px,#948333 339px 340px,#88783a 340px 341px,#776a43 341px 342px,#897a39 342px 343px,#81723e 343px 344px,#7a6c42 344px 345px,#7b6d41 345px 346px,#80723e 346px 347px,#88793a 347px 348px,#706446 348px 349px,#86773b 349px 350px,#88793a 350px 351px,#8c7c38 351px 352px,#81733e 352px 353px,#86773b 353px 354px,#80713e 354px 355px,#7f703f 355px 356px,#948433 356px 357px,#81733d 357px 358px,#87783a 358px 359px,#88793a 359px 360px,#81723e 360px 361px,#766944 361px 362px,#7d6f40 362px 364px,#7f713f 364px 366px,#756844 366px 367px,#85763b 367px 368px,#897a39 368px 369px,#776a43 369px 370px,#81733d 370px 371px,#84753c 371px 372px,#7a6d41 372px 373px,#8b7b38 373px 374px,#87783a 374px 375px,#7b6d41 375px 377px,#85763b 377px 378px,#7f713f 378px 379px,#8a7b38 379px 380px,#746745 380px 381px,#706447 381px 382px,#7d6f40 382px 383px,#786a43 383px 384px,#796b42 384px 385px,#7f713f 385px 386px,#86773b 386px 387px,#7f703f 387px 388px,#84763c 388px 389px,#786b42 389px 390px,#7a6d41 390px 391px,#7f713f 391px 392px,#786b43 392px 393px,#706447 393px 394px,#6e6248 394px 395px,#7b6d41 395px 396px,#6c6049 396px 398px,#665b4c 398px 399px,#726546 399px 400px,#6b5f49 400px 401px,#6e6248 401px 402px,#63594d 402px 403px,#62584e 403px 404px,#6a5e4a 404px 405px,#665b4c 405px 406px,#756844 406px 407px,#8a7b38 407px 408px,#897939 408px 409px,#897a39 409px 410px,#8f7f36 410px 412px,#88793a 412px 413px,#8f7f36 413px 414px,#958432 414px 415px,#7c6f40 415px 416px,#84753c 416px 417px,#8b7c38 417px 418px,#87783a 418px 419px,#85763b 419px 420px,#988730 420px 421px,#87783a 421px 422px,#8e7e36 422px 423px,#8a7b38 423px 424px,#968532 424px 425px,#8f7f36 425px 426px,#938234 426px 427px,#938233 427px 428px,#9c8b2e 428px 429px,#a18f2c 429px 430px,#8d7d37 430px 431px,#988731 431px 432px,#998730 432px 433px,#9d8b2e 433px 434px,#9f8d2c 434px 435px,#9b8a2f 435px 436px,#a79429 436px 437px,#a18f2b 437px 438px,#a89529 438px 439px,#9f8d2d 439px 440px,#a6932a 440px 441px,#a28f2b 441px 442px,#9e8c2d 442px 443px,#8a7a39 443px 444px,#968532 444px 445px,#8b7c38 445px 446px,#988730 446px 447px,#9b8a2f 447px 448px,#988731 448px 449px,#978631 449px 450px,#8d7d37 450px 451px,#938233 451px 452px,#968532 452px 453px,#a2902b 453px 454px,#8d7e37 454px 455px,#938234 455px 456px,#a4922a 456px 457px,#938233 457px 458px,#958432 458px 459px,#9a8930 459px 460px,#9e8c2d 460px 461px,#9a8830 461px 462px,#988731 462px 463px,#a2902b 463px 464px,#9e8d2d 464px 465px,#9a892f 465px 466px,#978631 466px 467px,#9a892f 467px 468px,#988731 468px 469px,#958432 469px 470px,#9b8a2f 470px 471px,#9a8830 471px 472px,#9b8a2f 472px 473px,#9c8a2e 473px 474px,#9d8b2e 474px 475px,#9e8c2d 475px 476px,#938333 476px 477px,#a4922a 477px 478px,#a4912a 478px 479px,#9a8830 479px 481px,#968631 481px 482px,#a08e2c 482px 483px,#a18f2c 483px 484px,#8f7f36 484px 485px,#958432 485px 486px,#908035 486px 487px,#87783a 487px 488px,#8c7c38 488px 489px,#948333 489px 490px,#8a7b39 490px 491px,#81733e 491px 492px,#85763c 492px 495px,#8a7b38 495px 496px,#86773b 496px 497px,#908035 497px 498px,#8a7b39 498px 499px,#88793a 499px 500px,#908035 500px 501px,#8f7f36 501px 502px,#88793a 502px 503px,#87783a 503px 504px,#8a7b38 504px 505px,#918134 505px 506px,#8c7c37 506px 507px,#9e8c2d 507px 508px,#87773b 508px 509px,#9d8b2e 509px 510px,#9b8a2f 510px 511px,#978631 511px 512px,#8c7c37 512px 513px,#87783a 513px 515px,#9b8a2f 515px 516px,#8e7e36 516px 517px,#998830 517px 518px,#8f7f36 518px 519px,#948333 519px 520px,#958432 520px 521px,#a3912b 521px 522px,#958433 522px 523px,#918134 523px 524px,#a08e2c 524px 525px,#9a8930 525px 526px,#9e8d2d 526px 527px,#918134 527px 528px,#9c8a2e 528px 529px,#9b892f 529px 530px,#a3912b 530px 531px,#a08e2c 531px 532px,#a99629 532px 533px,#a5922a 533px 534px,#918035 534px 535px,#9c8b2e 535px 536px,#a18f2c 536px 537px,#87783a 537px 538px,#948333 538px 539px,#908035 539px 540px,#8f7f36 540px 541px,#80713f 541px 542px,#83753c 542px 543px,#776943 543px 544px,#756844 544px 545px,#796c42 545px 546px,#87773b 546px 547px,#7d6f40 547px 548px,#736745 548px 549px,#7f713f 549px 550px,#84753c 550px 551px,#968531 551px 552px,#8e7e37 552px 553px,#988731 553px 554px,#958433 554px 555px,#988731 555px 556px,#8f7f36 556px 557px,#928234 557px 558px,#8e7e36 558px 560px,#8d7d37 560px 561px,#82733d 561px 562px,#8d7d37 562px 563px,#938233 563px 564px,#938234 564px 565px,#8e7e36 565px 566px,#948333 566px 567px,#8b7c38 567px 568px,#978631 568px 569px,#958432 569px 570px,#968532 570px 571px,#978631 571px 572px,#9e8d2d 572px 573px,#908035 573px 574px,#938333 574px 575px,#a3912b 575px 576px,#9a8830 576px 577px,#9f8d2c 577px 578px,#938333 578px 579px,#9d8c2d 579px 580px,#978631 580px 581px,#988730 581px 582px,#988731 582px 583px,#998830 583px 584px,#958432 584px 585px,#9d8b2e 585px 586px,#8c7d37 586px 587px,#8a7a39 587px 588px,#88793a 588px 589px,#897939 589px 590px,#8e7e36 590px 591px,#7e703f 591px 593px,#746745 593px 594px,#82733d 594px 595px,#86773b 595px 596px,#7c6e40 596px 597px,#86773b 597px 598px,#83743d 598px 599px,#84753c 599px 600px,#786b42 600px 601px,#8a7a39 601px 602px,#84753c 602px 603px,#83753c 603px 604px,#88783a 604px 605px,#82733d 605px 606px,#786b42 606px 607px,#9e8c2d 607px 608px,#a08e2c 608px 609px,#8f7f35 609px 610px,#9c8b2e 610px 611px,#9f8d2d 611px 612px,#a2902b 612px 613px,#a5922a 613px 614px,#b09c26 614px 615px,#a79429 615px 616px,#b7a223 616px 617px,#b39f25 617px 618px,#a79429 618px 619px,#af9b26 619px 620px,#aa9728 620px 621px,#a89529 621px 622px,#a4922a 622px 623px,#2e2a6a 623px 624px,#2a276c 624px 625px,#302c6a 625px 626px,#312d69 626px 627px,#332f68 627px 628px,#3f3a62 628px 629px,#463f5e 629px 630px,#3f3a63 630px 631px,#373266 631px 632px,#3e3963 632px 633px,#343067 633px 634px,#3f3a62 634px 635px,#363267 635px 636px,#312d69 636px 637px,#353167 637px 638px,#302c69 638px 639px,#2c286b 639px 640px,#211e70 640px 641px,#2a276c 641px 642px,#141376 642px 643px,#181774 643px 644px,#0d0c7a 644px 645px,#201e71 645px 646px,#2d296b 646px 647px,#5f554f 647px 648px,#554d55 648px 649px,#6a5e4a 649px 650px,#584f53 650px 651px,#5d5351 651px 652px,#62574e 652px 653px,#6a5f4a 653px 654px,#726645 654px 655px,#80713e 655px 656px,#84753c 656px 657px,#8a7a39 657px 658px,#9a8930 658px 659px,#9d8b2e 659px 660px,#978631 660px 661px,#897939 661px 662px,#948433 662px 663px,#908035 663px 664px,#928234 664px 665px,#81723e 665px 666px,#928134 666px 667px,#8e7e36 667px 668px,#82743d 668px 669px,#7d6f40 669px 670px,#756844 670px 671px,#7f713f 671px 672px,#7d6f40 672px 673px,#796c42 673px 674px,#82743d 674px 675px,#87783a 675px 676px,#84753c 676px 677px,#80723e 677px 678px,#7b6e41 678px 679px,#7c6e40 679px 680px,#8a7a39 680px 681px,#83753c 681px 682px,#88783a 682px 683px,#88793a 683px 684px,#7c6e41 684px 685px,#80723e 685px 686px,#7e703f 686px 687px,#84753c 687px 688px,#776a43 688px 689px,#7d6f40 689px 690px,#7e6f40 690px 691px,#7d6f40 691px 692px,#8b7b38 692px 693px,#87783a 693px 694px,#908035 694px 695px,#8a7a39 695px 696px,#897939 696px 697px,#8e7e37 697px 698px,#7a6d41 698px 699px,#80723e 699px 700px,#7d6f40 700px 701px,#776a43 701px 702px,#81733d 702px 703px,#85763b 703px 704px,#706447 704px 705px,#786b43 705px 706px,#756844 706px 707px,#675c4c 707px 708px,#63584d 708px 709px,#716546 709px 710px,#6c6049 710px 711px,#786b43 711px 712px,#6a5f4a 712px 713px,#5d5450 713px 714px,#706447 714px 715px,#60564f 715px 716px,#716446 716px 717px,#695d4a 717px 718px,#5e5450 718px 719px,#574e54 719px 720px,#675c4b 720px 721px,#6c6049 721px 722px,#60554f 722px 723px,#716446 723px 724px,#6c6149 724px 725px,#554c55 725px 726px,#584f53 726px 727px,#665b4c 727px 729px,#6c6049 729px 730px,#6a5f4a 730px 731px,#796b42 731px 732px,#746745 732px 733px,#81733d 733px 734px,#706446 734px 735px,#706347 735px 736px,#695e4a 736px 737px,#63584e 737px 738px,#746745 738px 739px,#716446 739px 740px,#83753c 740px 741px,#746745 741px 742px,#726645 742px 743px,#6f6347 743px 744px,#6a5e4a 744px 745px,#716546 745px 746px,#716446 746px 747px,#675c4b 747px 748px,#665b4c 748px 749px,#64594d 749px 750px,#655a4d 750px 751px,#685c4b 751px 752px,#736645 752px 753px,#695e4a 753px 754px,#6c6049 754px 755px,#7a6d41 755px 756px,#6a5e4a 756px 757px,#6b5f49 757px 758px,#6d6148 758px 759px,#64594d 759px 760px,#61574e 760px 761px,#64594d 761px 762px,#655a4c 762px 763px,#6c6049 763px 764px,#6f6347 764px 765px,#6a5e4a 765px 766px,#6b6049 766px 767px,#695d4b 767px 768px,#665b4c 768px 770px,#655a4d 770px 771px,#64594d 771px 772px,#62584e 772px 773px,#6b5f49 773px 774px,#63584e 774px 775px,#595053 775px 776px,#5e5450 776px 777px,#675c4b 777px 778px,#695e4a 778px 779px,#64594d 779px 780px,#6d6148 780px 781px,#655a4c 781px 782px,#60564f 782px 783px,#64594d 783px 784px,#5b5152 784px 785px,#6a5f4a 785px 786px,#62574e 786px 787px,#6c6049 787px 788px,#64594d 788px 789px,#594f53 789px 790px,#4f4859 790px 791px,#675c4c 791px 792px,#655a4c 792px 793px,#5f554f 793px 794px,#6f6347 794px 795px,#64594d 795px 796px,#6b6049 796px 797px,#6a5f4a 797px 798px,#5d5350 798px 799px,#6f6347 799px 800px,#60564f 800px 801px,#6c6049 801px 802px,#6e6248 802px 803px,#6f6347 803px 804px,#6f6247 804px 805px,#746745 805px 806px,#6b6049 806px 807px,#6b5f49 807px 808px,#675c4b 808px 809px,#685d4b 809px 810px,#63584e 810px 811px,#695e4a 811px 812px,#6b5f49 812px 813px,#63584e 813px 814px,#64594d 814px 815px,#6b5f4a 815px 816px,#595053 816px 817px,#746745 817px 818px,#6f6347 818px 819px,#766944 819px 820px,#6d6148 820px 821px,#655a4d 821px 822px,#6b5f49 822px 823px,#675c4b 823px 824px,#64594d 824px 825px,#574e54 825px 826px,#63584d 826px 827px,#6b6049 827px 828px,#685c4b 828px 829px,#726646 829px 830px,#6d6148 830px 831px,#6b5f49 831px 832px,#62574e 832px 833px,#6a5f4a 833px 834px,#675c4b 834px 835px,#685d4b 835px 836px,#665b4c 836px 837px,#64594d 837px 838px,#61574e 838px 839px,#544c56 839px 840px,#524a57 840px 841px,#544b56 841px 842px,#5c5351 842px 843px,#6d6148 843px 844px,#6a5f4a 844px 845px,#524a57 845px 846px,#6b6049 846px 847px,#665b4c 847px 848px,#64594d 848px 849px,#776a43 849px 850px,#706347 850px 851px,#746844 851px 852px,#786a43 852px 853px,#796c42 853px 854px,#6a5f4a 854px 855px,#7b6d41 855px 856px,#786b43 856px 857px,#6d6148 857px 858px,#766944 858px 859px,#796c42 859px 860px,#716446 860px 861px,#756844 861px 862px,#6b5f49 862px 863px,#695e4a 863px 864px,#5c5251 864px 865px,#6e6248 865px 866px,#6f6347 866px 867px,#5f5550 867px 868px,#63594d 868px 869px,#665b4c 869px 870px,#6c6049 870px 871px,#60554f 871px 872px,#675c4b 872px 873px,#5c5251 873px 874px,#655a4c 874px 875px,#5c5251 875px 876px,#62584e 876px 877px,#5e5450 877px 878px,#665b4c 878px 879px,#655a4c 879px 880px,#5e5450 880px 881px,#695d4b 881px 882px,#695e4a 882px 883px,#6c6049 883px 884px,#6d6148 884px 885px,#5f5450 885px 886px,#63584e 886px 887px,#6e6248 887px 888px,#6b5f49 888px 889px,#595053 889px 890px,#655a4c 890px 891px,#564d55 891px 892px,#655a4c 892px 893px,#5f5550 893px 894px,#62574e 894px 895px,#5b5152 895px 896px,#61564f 896px 897px,#63594d 897px 898px,#5a5152 898px 899px,#453f5f 899px 900px,#595053 900px 901px,#554c56 901px 902px,#5f5550 902px 903px,#574e54 903px 905px,#6b5f49 905px 906px,#5c5251 906px 907px,#5d5450 907px 908px,#595053 908px 909px,#61574e 909px 910px,#564e55 910px 911px,#595053 911px 912px,#64594d 912px 913px,#544b56 913px 914px,#685d4b 914px 915px,#5d5351 915px 917px,#63594d 917px 918px,#60564f 918px 919px,#63584d 919px 920px,#5e5450 920px 921px,#5b5152 921px 922px,#544c56 922px 923px,#5a5152 923px 924px,#63584d 924px 925px,#514958 925px 926px,#5b5152 926px 927px,#6b5f4a 927px 928px,#706447 928px 929px,#6f6347 929px 930px,#706447 930px 931px,#726646 931px 932px,#766944 932px 933px,#7b6d41 933px 934px,#736645 934px 935px,#716446 935px 936px,#695e4a 936px 937px,#7a6d41 937px 938px,#736645 938px 939px,#756844 939px 940px,#716446 940px 941px,#766944 941px 942px,#6c6049 942px 943px,#756844 943px 944px,#776943 944px 945px,#7d6f40 945px 946px,#7a6c42 946px 947px,#83753c 947px 948px,#7d6f40 948px 949px,#786b43 949px 950px,#7a6c42 950px 951px,#7d6f40 951px 952px,#675c4b 952px 953px,#6d6148 953px 954px,#776a43 954px 955px,#6d6148 955px 956px,#736645 956px 957px,#756844 957px 958px,#6f6247 958px 959px,#756844 959px 960px,#675c4b 960px 961px,#665b4c 961px 962px,#716446 962px 963px,#766944 963px 964px,#6c6049 964px 965px,#736645 965px 966px,#776a43 966px 967px,#64594d 967px 968px,#5f5550 968px 969px,#645a4d 969px 970px,#544b56 970px 971px,#574e54 971px 972px,#60564f 972px 973px,#5f5450 973px 974px,#665b4c 974px 975px,#5a5152 975px 976px,#544b56 976px 977px,#5c5251 977px 979px,#524a57 979px 980px,#574e54 980px 981px,#5d5350 981px 982px,#5f5550 982px 983px,#524a57 983px 984px,#4f4759 984px 985px,#4c455b 985px 987px,#48425d 987px 988px,#49425c 988px 989px,#443e60 989px 990px,#776a43 990px 991px,#706447 991px 992px,#6b5f49 992px 993px,#6f6347 993px 994px,#685d4b 994px 995px,#796c42 995px 996px,#6b5f49 996px 997px,#685c4b 997px 998px,#6f6347 998px 999px,#675c4b 999px 1000px,#706447 1000px 1001px,#6e6248 1001px 1002px,#5e5450 1002px 1003px,#776943 1003px 1004px,#6e6248 1004px 1005px,#685d4b 1005px 1006px,#63594d 1006px 1007px,#60564f 1007px 1008px,#7b6e41 1008px 1009px,#726546 1009px 1010px,#6b5f49 1010px 1011px,#60554f 1011px 1012px,#63584d 1012px 1013px,#756844 1013px 1014px,#62584e 1014px 1015px,#62574e 1015px 1016px,#6f6347 1016px 1017px,#695d4b 1017px 1018px,#6e6248 1018px 1019px,#6d6148 1019px 1020px,#5f5550 1020px 1021px,#786b43 1021px 1022px,#746745 1022px 1023px,#695e4a 1023px 1024px,#5e5450 1024px 1025px,#534b56 1025px 1026px,#504958 1026px 1027px,#47415d 1027px 1028px,#48415d 1028px 1029px,#49425d 1029px 1030px,#433d60 1030px 1031px,#423c61 1031px 1032px,#595053 1032px 1033px,#5a5152 1033px 1034px,#514958 1034px 1035px,#4f4859 1035px 1036px,#49435c 1036px 1037px,#4e465a 1037px 1038px,#544b56 1038px 1039px,#62584e 1039px 1040px,#534a57 1040px 1041px,#524a57 1041px 1042px,#595053 1042px 1044px,#463f5e 1044px 1045px,#4c455b 1045px 1046px,#564d55 1046px 1048px,#544c56 1048px 1049px,#564d55 1049px 1050px,#554c55 1050px 1051px,#5d5351 1051px 1053px,#514958 1053px 1054px,#524a57 1054px 1056px,#504958 1056px 1057px,#5f5550 1057px 1058px)"></div>
<div style="position:absolute;left:1907.70px;top:14.3px;width:63.90px;height:1058px;opacity:.9;background:linear-gradient(180deg,#ddc412 0px 1px,#d5bd16 1px 2px,#dec511 2px 3px,#e2c80f 3px 4px,#ddc412 4px 5px,#eacf0c 5px 6px,#d7be15 6px 7px,#d8c014 7px 8px,#dfc611 8px 9px,#edd30a 9px 10px,#e5ca0e 10px 11px,#e7cd0d 11px 12px,#f0d508 12px 13px,#f0d608 13px 14px,#e4ca0f 14px 15px,#edd20a 15px 16px,#ecd20a 16px 17px,#f3d906 17px 18px,#f1d608 18px 19px,#e0c610 19px 20px,#dbc213 20px 21px,#e2c810 21px 22px,#d4bc16 22px 23px,#e2c80f 23px 24px,#dec511 24px 25px,#dec412 25px 26px,#e2c80f 26px 27px,#d4bc16 27px 28px,#d5bd16 28px 29px,#dbc213 29px 30px,#ebd00b 30px 31px,#e8ce0c 31px 32px,#dfc611 32px 33px,#e4ca0e 33px 34px,#dcc312 34px 35px,#e2c80f 35px 36px,#e0c710 36px 37px,#dfc611 37px 38px,#e3c90f 38px 39px,#d3bb17 39px 40px,#e2c80f 40px 41px,#d9c114 41px 42px,#dec511 42px 43px,#ddc412 43px 44px,#d8c014 44px 45px,#e0c610 45px 46px,#dac113 46px 47px,#e1c710 47px 48px,#efd409 48px 49px,#dac113 49px 51px,#dfc511 51px 52px,#e3c90f 52px 53px,#ccb51a 53px 54px,#d6bd15 54px 55px,#d4bc16 55px 56px,#cab31b 56px 57px,#e0c611 57px 58px,#e2c810 58px 59px,#e6cc0d 59px 60px,#ddc412 60px 61px,#d7be15 61px 62px,#dbc213 62px 63px,#e7cc0d 63px 64px,#dbc213 64px 65px,#e4ca0e 65px 66px,#d4bc16 66px 67px,#e2c810 67px 68px,#dfc511 68px 70px,#d9c114 70px 71px,#e0c611 71px 72px,#eacf0c 72px 73px,#e9ce0c 73px 74px,#e2c810 74px 75px,#dac213 75px 76px,#dfc511 76px 77px,#d1ba18 77px 78px,#d1b918 78px 79px,#c4ae1e 79px 80px,#d0b818 80px 81px,#d8bf14 81px 82px,#d7bf15 82px 83px,#d2bb17 83px 84px,#dfc511 84px 85px,#dac113 85px 86px,#e2c90f 86px 87px,#cbb41b 87px 88px,#d5bd16 88px 89px,#d2bb17 89px 90px,#e5cb0e 90px 91px,#d8bf14 91px 92px,#bea920 92px 93px,#c1ab1f 93px 94px,#b5a024 94px 95px,#ac9927 95px 96px,#b9a422 96px 97px,#9e8c2d 97px 98px,#aa9728 98px 99px,#a89529 99px 100px,#a79429 100px 101px,#ac9927 101px 102px,#a3912b 102px 103px,#a99629 103px 104px,#baa522 104px 105px,#bda821 105px 106px,#bca721 106px 107px,#baa522 107px 108px,#bca721 108px 109px,#baa522 109px 110px,#b19d25 110px 111px,#b9a422 111px 112px,#bba621 112px 113px,#c1ac1f 113px 114px,#bca721 114px 115px,#c7b11d 115px 116px,#c8b11c 116px 117px,#c4ae1e 117px 118px,#cbb41a 118px 119px,#d4bc16 119px 120px,#cab31b 120px 121px,#c5af1e 121px 122px,#cdb61a 122px 123px,#d3bb17 123px 124px,#d2ba17 124px 125px,#c4ae1e 125px 126px,#c0ab1f 126px 127px,#bda821 127px 128px,#c7b11c 128px 129px,#bea820 129px 130px,#cab31b 130px 133px,#c2ac1f 133px 134px,#bea920 134px 135px,#d1ba18 135px 136px,#c9b21c 136px 138px,#c4ae1e 138px 139px,#cab31b 139px 140px,#c9b21c 140px 141px,#cab31b 141px 142px,#c0ab20 142px 143px,#d7be15 143px 144px,#c8b21c 144px 145px,#bda821 145px 146px,#cbb41b 146px 147px,#c7b11c 147px 148px,#ceb719 148px 149px,#cab31b 149px 150px,#bfa920 150px 151px,#c4ae1e 151px 152px,#baa522 152px 155px,#bfaa20 155px 156px,#c4ae1e 156px 157px,#c6b01d 157px 158px,#d7bf15 158px 159px,#c4ae1e 159px 160px,#c6b01d 160px 161px,#cfb819 161px 162px,#c3ad1e 162px 163px,#bba621 163px 164px,#c1ac1f 164px 165px,#c0ab1f 165px 166px,#ccb51a 166px 167px,#c5af1e 167px 168px,#c0aa20 168px 169px,#bea820 169px 170px,#c8b11c 170px 171px,#cdb61a 171px 172px,#bda821 172px 173px,#ccb51a 173px 175px,#cfb719 175px 176px,#c4ae1e 176px 177px,#baa522 177px 178px,#ceb719 178px 179px,#c1ab1f 179px 180px,#c0aa20 180px 181px,#cab31b 181px 182px,#bea920 182px 183px,#b9a422 183px 184px,#c0ab1f 184px 185px,#d0b918 185px 186px,#c3ad1e 186px 187px,#c5af1d 187px 188px,#bca721 188px 189px,#c3ad1e 189px 190px,#c1ab1f 190px 191px,#bea920 191px 192px,#c1ab1f 192px 193px,#b4a024 193px 194px,#c4ae1e 194px 195px,#bba621 195px 196px,#bda721 196px 197px,#b9a522 197px 198px,#c5af1d 198px 199px,#bea920 199px 200px,#af9c26 200px 201px,#b9a422 201px 202px,#aa9728 202px 203px,#af9b26 203px 204px,#b19d25 204px 205px,#b19d26 205px 206px,#a3912b 206px 207px,#a2902b 207px 208px,#aa9728 208px 209px,#a2902b 209px 210px,#a6932a 210px 211px,#ab9828 211px 212px,#b09c26 212px 213px,#a89629 213px 214px,#a6932a 214px 215px,#b39f24 215px 216px,#b19d26 216px 217px,#a3912b 217px 218px,#9b8a2f 218px 219px,#b09c26 219px 220px,#9f8d2c 220px 221px,#a79529 221px 222px,#a89529 222px 223px,#ab9828 223px 224px,#a18e2c 224px 225px,#a2902b 225px 227px,#9c8b2e 227px 228px,#9a8930 228px 229px,#a79529 229px 230px,#b39f24 230px 231px,#988730 231px 232px,#b29e25 232px 233px,#ae9b26 233px 234px,#a3912b 234px 235px,#b7a223 235px 237px,#706447 237px 238px,#776a43 238px 239px,#786b43 239px 240px,#796b42 240px 241px,#6d6148 241px 242px,#62584e 242px 243px,#675c4b 243px 244px,#716446 244px 245px,#726546 245px 246px,#7c6e40 246px 247px,#736645 247px 248px,#756844 248px 249px,#726546 249px 250px,#80723e 250px 251px,#776943 251px 252px,#7d6f40 252px 253px,#726645 253px 254px,#756844 254px 255px,#746745 255px 256px,#716446 256px 257px,#736645 257px 258px,#6f6347 258px 259px,#726645 259px 260px,#716446 260px 261px,#776943 261px 262px,#776a43 262px 263px,#706447 263px 264px,#7a6c42 264px 266px,#756844 266px 267px,#716546 267px 268px,#7a6d41 268px 269px,#776943 269px 270px,#766944 270px 271px,#80723e 271px 272px,#786b42 272px 273px,#776a43 273px 274px,#6d6148 274px 275px,#746745 275px 276px,#7a6c42 276px 277px,#716446 277px 278px,#726546 278px 279px,#746745 279px 280px,#7c6e41 280px 281px,#706447 281px 282px,#7a6d41 282px 283px,#776943 283px 284px,#6f6347 284px 285px,#7b6d41 285px 286px,#726645 286px 287px,#7c6e40 287px 288px,#84763c 288px 289px,#7c6e41 289px 290px,#796b42 290px 291px,#83753c 291px 292px,#796c42 292px 293px,#706447 293px 294px,#7f713f 294px 295px,#7b6d41 295px 296px,#796c42 296px 297px,#7f703f 297px 298px,#786b42 298px 299px,#83743d 299px 300px,#7c6e41 300px 301px,#6e6248 301px 302px,#7d6f40 302px 303px,#7b6e41 303px 304px,#746745 304px 305px,#86773b 305px 306px,#746745 306px 307px,#6e6248 307px 308px,#766944 308px 309px,#706447 309px 310px,#6f6347 310px 312px,#685c4b 312px 313px,#665b4c 313px 314px,#6a5e4a 314px 315px,#716446 315px 316px,#6c6049 316px 317px,#6d6148 317px 318px,#706447 318px 319px,#796b42 319px 320px,#776943 320px 321px,#7a6c42 321px 322px,#776a43 322px 323px,#6d6148 323px 324px,#7c6e41 324px 325px,#796c42 325px 326px,#6c6149 326px 327px,#7c6e40 327px 328px,#84763c 328px 329px,#9d8b2e 329px 330px,#918135 330px 331px,#998830 331px 332px,#8b7b38 332px 333px,#948433 333px 334px,#9b8a2f 334px 335px,#938333 335px 336px,#a08e2c 336px 337px,#918134 337px 338px,#9b8a2f 338px 339px,#a3912b 339px 340px,#897a39 340px 341px,#7e703f 341px 342px,#897939 342px 343px,#897a39 343px 344px,#81733e 344px 345px,#88783a 345px 346px,#84763c 346px 347px,#8c7c38 347px 348px,#7c6f40 348px 349px,#83753c 349px 350px,#88793a 350px 351px,#83753c 351px 352px,#726546 352px 353px,#756844 353px 354px,#736645 354px 355px,#786b42 355px 356px,#82733d 356px 357px,#796c42 357px 358px,#80723e 358px 359px,#84753c 359px 360px,#7e703f 360px 361px,#7c6e40 361px 362px,#8c7d37 362px 363px,#958432 363px 364px,#86773b 364px 365px,#8d7d37 365px 366px,#8f7f36 366px 368px,#9b8a2f 368px 369px,#928134 369px 370px,#958433 370px 371px,#9d8b2e 371px 372px,#948333 372px 373px,#948433 373px 374px,#988731 374px 375px,#8b7c38 375px 376px,#948333 376px 377px,#8a7b39 377px 378px,#928234 378px 379px,#938234 379px 380px,#978631 380px 381px,#948433 381px 382px,#958432 382px 383px,#a4912b 383px 384px,#968532 384px 385px,#998830 385px 386px,#968532 386px 387px,#938333 387px 388px,#998830 388px 389px,#998730 389px 390px,#8d7d37 390px 391px,#a4922a 391px 392px,#9f8d2c 392px 393px,#948433 393px 394px,#9a8830 394px 395px,#9d8c2e 395px 396px,#9e8c2d 396px 397px,#8b7b38 397px 398px,#8e7e36 398px 400px,#998830 400px 401px,#988731 401px 402px,#9e8c2d 402px 403px,#9f8d2c 403px 404px,#948433 404px 405px,#938234 405px 406px,#8e7e36 406px 407px,#9c8b2e 407px 408px,#9a892f 408px 409px,#81733e 409px 410px,#8e7e36 410px 411px,#84753c 411px 412px,#85763b 412px 413px,#8a7b38 413px 414px,#928134 414px 415px,#7d6f40 415px 416px,#81733e 416px 417px,#7c6e40 417px 418px,#8b7b38 418px 419px,#736645 419px 420px,#8d7d37 420px 421px,#88783a 421px 422px,#8c7c38 422px 423px,#8d7d37 423px 424px,#8c7c37 424px 425px,#86773b 425px 428px,#8d7d37 428px 429px,#a3902b 429px 430px,#ab9728 430px 431px,#b19d25 431px 432px,#af9c26 432px 433px,#b09c26 433px 434px,#ac9827 434px 435px,#af9b26 435px 436px,#b4a024 436px 437px,#b8a323 437px 438px,#ccb51a 438px 439px,#c1ab1f 439px 440px,#b7a323 440px 441px,#c6b01d 441px 442px,#bda821 442px 443px,#ae9a27 443px 444px,#b19d25 444px 445px,#bca721 445px 446px,#b7a323 446px 447px,#cbb41a 447px 448px,#ac9927 448px 449px,#b4a024 449px 450px,#a89629 450px 451px,#b09d26 451px 452px,#a99629 452px 453px,#ad9a27 453px 454px,#938234 454px 455px,#a4912b 455px 456px,#af9c26 456px 457px,#9c8a2e 457px 458px,#928234 458px 459px,#a3912b 459px 460px,#a18f2c 460px 461px,#aa9728 461px 462px,#a3912b 462px 463px,#b19d26 463px 464px,#ab9828 464px 465px,#ae9b26 465px 466px,#b09c26 466px 467px,#b19d25 467px 468px,#9c8a2e 468px 469px,#a4922a 469px 470px,#b09c26 470px 471px,#ad9927 471px 472px,#b6a223 472px 473px,#aa9728 473px 474px,#ac9927 474px 475px,#ab9828 475px 476px,#aa9728 476px 477px,#b7a323 477px 478px,#b8a423 478px 479px,#ac9827 479px 480px,#ac9927 480px 481px,#bba622 481px 482px,#b6a124 482px 483px,#a99629 483px 484px,#9e8c2d 484px 485px,#a3912b 485px 486px,#ae9b27 486px 487px,#b7a223 487px 488px,#b4a024 488px 489px,#c1ab1f 489px 490px,#ad9a27 490px 491px,#ab9828 491px 492px,#a2902b 492px 493px,#a79429 493px 494px,#a08e2c 494px 495px,#a18f2c 495px 496px,#a89529 496px 497px,#a3902b 497px 498px,#9f8d2d 498px 499px,#a08e2c 499px 500px,#9e8c2d 500px 501px,#a3912b 501px 502px,#938233 502px 503px,#a2902b 503px 504px,#ab9728 504px 505px,#a08e2c 505px 506px,#a4922a 506px 507px,#ae9a27 507px 508px,#a99628 508px 509px,#ab9728 509px 510px,#af9b26 510px 511px,#a99629 511px 512px,#aa9728 512px 513px,#a18f2c 513px 514px,#9c8a2e 514px 515px,#a89529 515px 516px,#9f8d2c 516px 517px,#a4912b 517px 518px,#9d8c2d 518px 519px,#9b8a2f 519px 520px,#9f8d2d 520px 521px,#ad9927 521px 522px,#a18f2c 522px 523px,#a89529 523px 524px,#a79429 524px 525px,#918135 525px 526px,#aa9728 526px 527px,#9e8c2d 527px 528px,#a18f2b 528px 529px,#9f8d2d 529px 530px,#9c8a2e 530px 531px,#a89529 531px 532px,#9c8b2e 532px 533px,#a99628 533px 534px,#998830 534px 535px,#9d8c2d 535px 536px,#988731 536px 537px,#968532 537px 538px,#ac9927 538px 539px,#a99628 539px 540px,#a08e2c 540px 541px,#af9b26 541px 542px,#b5a024 542px 543px,#af9b26 543px 544px,#a18f2c 544px 545px,#9e8c2d 545px 546px,#a5922a 546px 547px,#978631 547px 548px,#a08e2c 548px 549px,#a99629 549px 550px,#a18f2c 550px 551px,#a08e2c 551px 552px,#968532 552px 553px,#a2902b 553px 554px,#a08e2c 554px 555px,#9d8b2e 555px 556px,#a5922a 556px 557px,#9c8a2f 557px 558px,#928134 558px 559px,#897a39 559px 560px,#948333 560px 561px,#88783a 561px 562px,#87783a 562px 563px,#8c7c38 563px 564px,#83743d 564px 565px,#7e7040 565px 566px,#968532 566px 567px,#897939 567px 568px,#83743d 568px 569px,#897939 569px 570px,#948433 570px 571px,#998830 571px 572px,#9c8a2e 572px 573px,#85763b 573px 574px,#88793a 574px 575px,#958432 575px 577px,#9f8d2d 577px 578px,#86773b 578px 579px,#a18f2c 579px 580px,#948333 580px 581px,#988731 581px 582px,#a18f2c 582px 583px,#938333 583px 584px,#988731 584px 585px,#928134 585px 586px,#8c7c37 586px 588px,#908035 588px 589px,#8d7d37 589px 590px,#918135 590px 591px,#83743d 591px 592px,#8b7b38 592px 593px,#86773b 593px 594px,#8b7c38 594px 595px,#958432 595px 596px,#8d7d37 596px 597px,#897a39 597px 598px,#938333 598px 599px,#938233 599px 600px,#938234 600px 601px,#988730 601px 602px,#928234 602px 603px,#87783a 603px 604px,#998730 604px 605px,#988731 605px 606px,#84753c 606px 607px,#86773b 607px 608px,#83743d 608px 609px,#7a6c42 609px 610px,#85763b 610px 612px,#8d7d37 612px 613px,#8c7c37 613px 614px,#85763b 614px 615px,#83753c 615px 616px,#958432 616px 617px,#918135 617px 618px,#968532 618px 619px,#9a8930 619px 620px,#9f8e2c 620px 621px,#9b892f 621px 622px,#9a892f 622px 623px,#47415e 623px 624px,#3b3665 624px 625px,#3b3764 625px 626px,#393565 626px 627px,#413c61 627px 628px,#3e3963 628px 630px,#3b3664 630px 631px,#383366 631px 632px,#3e3963 632px 633px,#353167 633px 634px,#363167 634px 635px,#403b62 635px 636px,#3c3764 636px 637px,#383466 637px 638px,#363167 638px 639px,#353167 639px 640px,#302c6a 640px 641px,#26236e 641px 642px,#211e70 642px 643px,#26236e 643px 644px,#0a097b 644px 645px,#363266 645px 646px,#403b62 646px 647px,#84753c 647px 648px,#8b7c38 648px 649px,#958432 649px 651px,#908035 651px 652px,#8c7d37 652px 653px,#87773b 653px 654px,#988730 654px 655px,#928234 655px 656px,#8e7e36 656px 657px,#938234 657px 658px,#9a8830 658px 659px,#9a892f 659px 660px,#938234 660px 661px,#88793a 661px 662px,#8a7b38 662px 663px,#897a39 663px 664px,#918135 664px 665px,#7f713f 665px 666px,#85763b 666px 667px,#86773b 667px 668px,#7e7040 668px 669px,#80723e 669px 670px,#8a7a39 670px 671px,#7e703f 671px 672px,#84763c 672px 673px,#80723e 673px 674px,#82743d 674px 675px,#7c6e41 675px 676px,#83743d 676px 677px,#81733d 677px 678px,#7e703f 678px 679px,#7e6f40 679px 680px,#84753c 680px 681px,#796c42 681px 682px,#80723e 682px 683px,#87783a 683px 684px,#776a43 684px 685px,#84753c 685px 686px,#80713e 686px 687px,#776a43 687px 688px,#6c6049 688px 689px,#685c4b 689px 690px,#5f554f 690px 691px,#5e5450 691px 692px,#5f554f 692px 693px,#60554f 693px 694px,#62584e 694px 695px,#60564f 695px 696px,#6c6049 696px 697px,#6f6247 697px 698px,#655a4c 698px 699px,#695d4a 699px 700px,#62574e 700px 701px,#554d55 701px 702px,#62584e 702px 703px,#675c4b 703px 704px,#5e5450 704px 705px,#726645 705px 706px,#63584e 706px 707px,#595053 707px 708px,#5b5152 708px 709px,#63584d 709px 710px,#574e54 710px 711px,#655a4d 711px 712px,#63584e 712px 713px,#5b5252 713px 714px,#62584e 714px 715px,#49425d 715px 716px,#5e5450 716px 717px,#574e54 717px 718px,#5f5550 718px 719px,#64594d 719px 720px,#6b6049 720px 721px,#6d6148 721px 722px,#5b5152 722px 723px,#5d5450 723px 724px,#584f53 724px 725px,#5f5550 725px 726px,#60564f 726px 727px,#524a57 727px 728px,#5c5251 728px 729px,#595053 729px 730px,#534b57 730px 731px,#665b4c 731px 732px,#62584e 732px 733px,#756844 733px 734px,#5c5351 734px 735px,#62574e 735px 736px,#5e5450 736px 737px,#544c56 737px 738px,#63594d 738px 739px,#61574e 739px 740px,#5b5252 740px 741px,#574e54 741px 742px,#61564f 742px 743px,#5c5251 743px 744px,#574e54 744px 745px,#5e5450 745px 746px,#595053 746px 747px,#5c5251 747px 748px,#595053 748px 749px,#5e5450 749px 750px,#62584e 750px 751px,#655a4c 751px 752px,#675c4b 752px 753px,#584f54 753px 754px,#5a5152 754px 755px,#665b4c 755px 756px,#5a5053 756px 757px,#706347 757px 758px,#7c6e41 758px 759px,#6b5f49 759px 760px,#7d6f40 760px 761px,#6f6347 761px 762px,#746844 762px 763px,#786b42 763px 764px,#87783a 764px 765px,#786b42 765px 766px,#7a6c42 766px 767px,#7e7040 767px 768px,#726645 768px 769px,#796b42 769px 770px,#776a43 770px 771px,#7c6e41 771px 772px,#85763b 772px 773px,#80723e 773px 774px,#756844 774px 775px,#6d6148 775px 776px,#685d4b 776px 777px,#655a4c 777px 778px,#544b56 778px 779px,#524a57 779px 780px,#5e5450 780px 781px,#4f4759 781px 782px,#544c56 782px 783px,#63584e 783px 784px,#584f53 784px 785px,#63584d 785px 786px,#5b5152 786px 787px,#61574e 787px 788px,#5b5252 788px 789px,#584f53 789px 790px,#584f54 790px 791px,#5b5252 791px 792px,#5f5450 792px 793px,#5a5053 793px 794px,#6a5e4a 794px 795px,#5d5351 795px 796px,#554c56 796px 797px,#5f554f 797px 798px,#5d5351 798px 799px,#62584e 799px 800px,#62574e 800px 801px,#5f554f 801px 802px,#5d5351 802px 803px,#5e5450 803px 804px,#61574e 804px 805px,#574e54 805px 806px,#5a5052 806px 807px,#5b5252 807px 808px,#595053 808px 809px,#524a57 809px 810px,#60554f 810px 811px,#544b56 811px 812px,#514958 812px 813px,#534b56 813px 814px,#62574e 814px 815px,#4c455b 815px 816px,#584f54 816px 817px,#5e5450 817px 818px,#61574e 818px 819px,#5f554f 819px 820px,#62574e 820px 821px,#655a4c 821px 822px,#63594d 822px 823px,#6b6049 823px 824px,#60564f 824px 825px,#5b5152 825px 826px,#6c6049 826px 827px,#766844 827px 828px,#776a43 828px 829px,#786a43 829px 830px,#7d6f40 830px 831px,#84753c 831px 832px,#88793a 832px 833px,#82733d 833px 834px,#85763b 834px 835px,#938234 835px 836px,#85763b 836px 837px,#8a7b39 837px 838px,#81733e 838px 839px,#7a6d41 839px 840px,#7b6d41 840px 841px,#6f6347 841px 842px,#80723e 842px 843px,#7c6e40 843px 844px,#86773b 844px 845px,#6b5f49 845px 846px,#84753c 846px 847px,#7f713f 847px 848px,#786b43 848px 849px,#80723e 849px 850px,#7b6d41 850px 851px,#766944 851px 852px,#7c6e41 852px 853px,#786a43 853px 854px,#736745 854px 855px,#83743d 855px 856px,#766944 856px 857px,#746745 857px 858px,#796c42 858px 859px,#7b6d41 859px 860px,#776943 860px 861px,#7f703f 861px 862px,#776a43 862px 863px,#706447 863px 864px,#7e703f 864px 865px,#7a6d41 865px 866px,#7f703f 866px 867px,#706447 867px 868px,#766944 868px 869px,#7c6e40 869px 870px,#80723e 870px 871px,#796c42 871px 872px,#84753c 872px 873px,#7c6e40 873px 874px,#796c42 874px 876px,#776a43 876px 877px,#786b42 877px 878px,#80723e 878px 879px,#7d6f40 879px 880px,#746844 880px 881px,#736645 881px 882px,#7d6f40 882px 883px,#756844 883px 884px,#776a43 884px 885px,#6e6248 885px 886px,#736745 886px 887px,#736645 887px 888px,#6a5f4a 888px 889px,#695d4b 889px 890px,#5d5450 890px 891px,#564d55 891px 892px,#564e54 892px 893px,#5b5152 893px 894px,#584f53 894px 895px,#5d5351 895px 896px,#675c4b 896px 897px,#5f5550 897px 898px,#62584e 898px 899px,#574e54 899px 900px,#6a5f4a 900px 901px,#5b5152 901px 902px,#62584e 902px 903px,#5f554f 903px 904px,#574e54 904px 905px,#665b4c 905px 906px,#675c4b 906px 907px,#665b4c 907px 908px,#685d4b 908px 909px,#655a4d 909px 910px,#5e5450 910px 911px,#595053 911px 912px,#62574e 912px 913px,#5d5351 913px 914px,#5d5350 914px 915px,#574e54 915px 916px,#584f54 916px 917px,#595053 917px 918px,#4f4859 918px 919px,#5c5251 919px 920px,#574e54 920px 921px,#544b56 921px 922px,#554d55 922px 923px,#4f4759 923px 924px,#4d455a 924px 925px,#574e54 925px 926px,#63594d 926px 927px,#61564f 927px 928px,#6d6148 928px 929px,#6e6248 929px 930px,#63584e 930px 931px,#706347 931px 932px,#6e6248 932px 933px,#84753c 933px 934px,#706447 934px 935px,#756844 935px 936px,#6f6347 936px 937px,#766943 937px 938px,#7b6d41 938px 939px,#756844 939px 940px,#685d4b 940px 941px,#736745 941px 942px,#6e6248 942px 943px,#7c6e40 943px 944px,#7d6f40 944px 945px,#6e6248 945px 946px,#6b6049 946px 947px,#6d6148 947px 948px,#776a43 948px 949px,#5c5251 949px 950px,#655a4c 950px 951px,#796c42 951px 952px,#776a43 952px 953px,#6c6149 953px 954px,#776a43 954px 955px,#756844 955px 956px,#6c6049 956px 957px,#786b42 957px 958px,#756844 958px 959px,#85763b 959px 960px,#81733e 960px 961px,#80713f 961px 962px,#7a6c42 962px 963px,#7c6e40 963px 964px,#6d6148 964px 965px,#7c6e40 965px 966px,#7a6c42 966px 967px,#3e3963 967px 968px,#463f5f 968px 969px,#443e5f 969px 970px,#443e60 970px 971px,#3c3764 971px 972px,#423d60 972px 973px,#3b3664 973px 974px,#373266 974px 975px,#403a62 975px 976px,#453f5f 976px 977px,#3d3863 977px 978px,#47415e 978px 979px,#47405e 979px 980px,#423d60 980px 981px,#433d60 981px 982px,#3b3664 982px 983px,#2a276c 983px 984px,#332f68 984px 985px,#25226f 985px 986px,#23206f 986px 987px,#1f1d71 987px 988px,#211f70 988px 989px,#302d69 989px 990px,#4c455b 990px 991px,#544b56 991px 992px,#534a57 992px 993px,#514958 993px 994px,#524a57 994px 995px,#60564f 995px 996px,#544b56 996px 997px,#4c445b 997px 998px,#534b56 998px 999px,#524a57 999px 1000px,#4f4859 1000px 1001px,#4e465a 1001px 1002px,#4d465a 1002px 1003px,#5e5450 1003px 1004px,#584f54 1004px 1005px,#60564f 1005px 1006px,#514958 1006px 1007px,#47415d 1007px 1008px,#5c5351 1008px 1009px,#574e54 1009px 1010px,#544b56 1010px 1011px,#4a435c 1011px 1012px,#48425d 1012px 1013px,#63584e 1013px 1014px,#4d465a 1014px 1015px,#5e5450 1015px 1016px,#4a435c 1016px 1017px,#514957 1017px 1018px,#574e54 1018px 1019px,#4d465a 1019px 1020px,#4f4759 1020px 1021px,#534b56 1021px 1022px,#5a5152 1022px 1023px,#4b445b 1023px 1024px,#4d465a 1024px 1025px,#514957 1025px 1026px,#574e54 1026px 1027px,#4c455b 1027px 1028px,#4a435c 1028px 1029px,#544c56 1029px 1030px,#504858 1030px 1031px,#49425c 1031px 1032px,#574e54 1032px 1033px,#564d55 1033px 1034px,#524a57 1034px 1035px,#4d455a 1035px 1036px,#534b57 1036px 1037px,#504858 1037px 1038px,#524a57 1038px 1039px,#5b5252 1039px 1040px,#594f53 1040px 1041px,#5b5252 1041px 1042px,#5d5351 1042px 1043px,#5a5152 1043px 1044px,#524a57 1044px 1045px,#5b5252 1045px 1046px,#544c56 1046px 1047px,#60564f 1047px 1048px,#5b5152 1048px 1049px,#5d5450 1049px 1050px,#554d55 1050px 1051px,#60564f 1051px 1052px,#584f53 1052px 1053px,#5b5152 1053px 1054px,#60554f 1054px 1055px,#564d55 1055px 1056px,#504858 1056px 1057px,#584f54 1057px 1058px)"></div>
<svg width="2165" height="2074" viewBox="0 0 2165 2074">
<text x="0.5" y="39.5" font-size="37.5" font-weight="bold" stroke="#000" stroke-width="0.9">a</text><text x="1562.5" y="39.9" font-size="37.5" font-weight="bold" stroke="#000" stroke-width="0.9">b</text><text x="0.6" y="729" font-size="37.5" font-weight="bold" stroke="#000" stroke-width="0.9">c</text><text x="927.8" y="729" font-size="37.5" font-weight="bold" stroke="#000" stroke-width="0.9">d</text><text x="0.5" y="1246.5" font-size="37.5" font-weight="bold" stroke="#000" stroke-width="0.9">e</text>
<g id="pa">
<g stroke="#222" stroke-width="3" stroke-linecap="round">
<line x1="110.75" y1="125" x2="240" y2="84.5"/>
<line x1="240" y1="84.5" x2="321" y2="167"/>
<line x1="110.75" y1="125" x2="98.25" y2="210.5"/>
<line x1="110.75" y1="125" x2="208" y2="196.25"/>
<line x1="98.25" y1="210.5" x2="208" y2="196.25"/>
<line x1="208" y1="196.25" x2="321" y2="167"/>
<line x1="98.25" y1="210.5" x2="225" y2="258.75"/>
<line x1="208" y1="196.25" x2="225" y2="258.75"/>
<line x1="225" y1="258.75" x2="321" y2="167"/>
</g><g fill="#000080" stroke="#222" stroke-width="1.8">
<circle cx="240" cy="84.5" r="15.3"/>
<circle cx="110.75" cy="125" r="15.3"/>
<circle cx="321" cy="167" r="15.3"/>
<circle cx="208" cy="196.25" r="15.3"/>
<circle cx="98.25" cy="210.5" r="15.3"/>
<circle cx="225" cy="258.75" r="15.3"/>
</g>
<text x="267.0" y="90.0" font-size="21">E</text>
<text x="73.2" y="116.2" font-size="21">B</text>
<text x="315.5" y="141.2" font-size="21">F</text>
<text x="212.5" y="173.0" font-size="21">C</text>
<text x="57.0" y="218.8" font-size="21">A</text>
<text x="185.5" y="277.0" font-size="21">D</text>
<text x="233.0" y="298.2" font-size="24.5" textLength="121.5" lengthAdjust="spacingAndGlyphs">Pathway 1</text>
<path d="M378.8,169.5H420.0" stroke="#44546a" stroke-width="3.6" fill="none"/><path d="M432.0,169.5L415.0,162.5L419.5,169.5L415.0,176.5Z" fill="#44546a"/>
<g stroke="#222" stroke-width="3" stroke-linecap="round">
<line x1="92.5" y1="512" x2="183.75" y2="425.5"/>
<line x1="183.75" y1="425.5" x2="199.25" y2="484.5"/>
<line x1="92.5" y1="512" x2="199.25" y2="484.5"/>
<line x1="199.25" y1="484.5" x2="303.25" y2="471.75"/>
<line x1="92.5" y1="512" x2="188.25" y2="546.25"/>
<line x1="199.25" y1="484.5" x2="188.25" y2="546.25"/>
<line x1="199.25" y1="484.5" x2="291.25" y2="552.5"/>
<line x1="188.25" y1="546.25" x2="291.25" y2="552.5"/>
<line x1="303.25" y1="471.75" x2="291.25" y2="552.5"/>
<line x1="92.5" y1="512" x2="125.75" y2="603.75"/>
<line x1="125.75" y1="603.75" x2="240.5" y2="591.75"/>
<line x1="240.5" y1="591.75" x2="291.25" y2="552.5"/>
</g><g fill="#bdbdbd" stroke="#444" stroke-width="3">
<circle cx="183.75" cy="425.5" r="14.8"/>
<circle cx="199.25" cy="484.5" r="14.8"/>
<circle cx="303.25" cy="471.75" r="14.8"/>
<circle cx="92.5" cy="512" r="14.8"/>
<circle cx="188.25" cy="546.25" r="14.8"/>
<circle cx="291.25" cy="552.5" r="14.8"/>
<circle cx="240.5" cy="591.75" r="14.8"/>
<circle cx="125.75" cy="603.75" r="14.8"/>
</g>
<text x="146.2" y="424.5" font-size="21">H</text>
<text x="173.2" y="479.2" font-size="21">I</text>
<text x="323.2" y="470.8" font-size="21">N</text>
<text x="55.5" y="505.0" font-size="21">G</text>
<text x="158.8" y="562.5" font-size="21">J</text>
<text x="315.5" y="571.2" font-size="21">M</text>
<text x="262.5" y="610.5" font-size="21">L</text>
<text x="145.0" y="627.5" font-size="21">K</text>
<text x="233.0" y="430.8" font-size="24.5" textLength="126.5" lengthAdjust="spacingAndGlyphs">Pathway 2</text>
<path d="M378.8,505.5H420.0" stroke="#44546a" stroke-width="3.6" fill="none"/><path d="M432.0,505.5L415.0,498.5L419.5,505.5L415.0,512.5Z" fill="#44546a"/>
<rect x="504.25" y="70.00" width="31.51" height="34.26" fill="#ffe100"/>
<rect x="535.46" y="70.00" width="31.51" height="34.26" fill="#c4b930"/>
<rect x="566.67" y="70.00" width="31.51" height="34.26" fill="#ffe100"/>
<rect x="597.88" y="70.00" width="31.51" height="34.26" fill="#e8c41f"/>
<rect x="629.08" y="70.00" width="31.51" height="34.26" fill="#2d50a3"/>
<rect x="660.29" y="70.00" width="31.51" height="34.26" fill="#0033cc"/>
<rect x="504.25" y="103.96" width="31.51" height="34.26" fill="#ffe100"/>
<rect x="535.46" y="103.96" width="31.51" height="34.26" fill="#c4b930"/>
<rect x="566.67" y="103.96" width="31.51" height="34.26" fill="#ffe100"/>
<rect x="597.88" y="103.96" width="31.51" height="34.26" fill="#9e9e4b"/>
<rect x="629.08" y="103.96" width="31.51" height="34.26" fill="#0033cc"/>
<rect x="660.29" y="103.96" width="31.51" height="34.26" fill="#2d50a3"/>
<rect x="504.25" y="137.92" width="31.51" height="34.26" fill="#c4b930"/>
<rect x="535.46" y="137.92" width="31.51" height="34.26" fill="#c4b930"/>
<rect x="566.67" y="137.92" width="31.51" height="34.26" fill="#ffe100"/>
<rect x="597.88" y="137.92" width="31.51" height="34.26" fill="#0033cc"/>
<rect x="629.08" y="137.92" width="31.51" height="34.26" fill="#9e9e4b"/>
<rect x="660.29" y="137.92" width="31.51" height="34.26" fill="#e8c41f"/>
<rect x="504.25" y="171.88" width="31.51" height="34.26" fill="#7a8a6b"/>
<rect x="535.46" y="171.88" width="31.51" height="34.26" fill="#2d50a3"/>
<rect x="566.67" y="171.88" width="31.51" height="34.26" fill="#0033cc"/>
<rect x="597.88" y="171.88" width="31.51" height="34.26" fill="#ffe100"/>
<rect x="629.08" y="171.88" width="31.51" height="34.26" fill="#ffe100"/>
<rect x="660.29" y="171.88" width="31.51" height="34.26" fill="#ffe100"/>
<rect x="504.25" y="205.83" width="31.51" height="34.26" fill="#4c6890"/>
<rect x="535.46" y="205.83" width="31.51" height="34.26" fill="#0033cc"/>
<rect x="566.67" y="205.83" width="31.51" height="34.26" fill="#2d50a3"/>
<rect x="597.88" y="205.83" width="31.51" height="34.26" fill="#c4b930"/>
<rect x="629.08" y="205.83" width="31.51" height="34.26" fill="#c4b930"/>
<rect x="660.29" y="205.83" width="31.51" height="34.26" fill="#c4b930"/>
<rect x="504.25" y="239.79" width="31.51" height="34.26" fill="#0033cc"/>
<rect x="535.46" y="239.79" width="31.51" height="34.26" fill="#4c6890"/>
<rect x="566.67" y="239.79" width="31.51" height="34.26" fill="#7a8a6b"/>
<rect x="597.88" y="239.79" width="31.51" height="34.26" fill="#c4b930"/>
<rect x="629.08" y="239.79" width="31.51" height="34.26" fill="#ffe100"/>
<rect x="660.29" y="239.79" width="31.51" height="34.26" fill="#ffe100"/>
<rect x="504.25" y="70" width="187.25" height="203.75" fill="none" stroke="#000" stroke-width="1.3"/>
<line x1="492" y1="84.25" x2="492" y2="262.5" stroke="#000" stroke-width="2"/>
<text transform="translate(478.7,236.0) rotate(-90)" font-size="28" textLength="114.0" lengthAdjust="spacingAndGlyphs">Cell lines</text>
<text x="526.2" y="301.2" font-size="26.5" textLength="145.0" lengthAdjust="spacingAndGlyphs">Gene effect</text>
<text transform="translate(513.4,63.0) rotate(-40)" font-size="23">Gene A</text>
<text transform="translate(544.6,63.0) rotate(-40)" font-size="23">Gene B</text>
<text transform="translate(575.8,63.0) rotate(-40)" font-size="23">Gene C</text>
<text transform="translate(607.0,63.0) rotate(-40)" font-size="23">Gene D</text>
<text transform="translate(638.2,63.0) rotate(-40)" font-size="23">Gene E</text>
<text transform="translate(669.4,63.0) rotate(-40)" font-size="23">Gene F</text>
<rect x="502.50" y="405.75" width="31.71" height="34.26" fill="#ffe100"/>
<rect x="533.91" y="405.75" width="31.71" height="34.26" fill="#ffe100"/>
<rect x="565.31" y="405.75" width="31.71" height="34.26" fill="#c4b930"/>
<rect x="596.72" y="405.75" width="31.71" height="34.26" fill="#7a8a6b"/>
<rect x="628.12" y="405.75" width="31.71" height="34.26" fill="#4c6890"/>
<rect x="659.53" y="405.75" width="31.71" height="34.26" fill="#0033cc"/>
<rect x="690.94" y="405.75" width="31.71" height="34.26" fill="#7a8a6b"/>
<rect x="722.34" y="405.75" width="31.71" height="34.26" fill="#2d50a3"/>
<rect x="502.50" y="439.71" width="31.71" height="34.26" fill="#c4b930"/>
<rect x="533.91" y="439.71" width="31.71" height="34.26" fill="#c4b930"/>
<rect x="565.31" y="439.71" width="31.71" height="34.26" fill="#c4b930"/>
<rect x="596.72" y="439.71" width="31.71" height="34.26" fill="#2d50a3"/>
<rect x="628.12" y="439.71" width="31.71" height="34.26" fill="#0033cc"/>
<rect x="659.53" y="439.71" width="31.71" height="34.26" fill="#4c6890"/>
<rect x="690.94" y="439.71" width="31.71" height="34.26" fill="#4c6890"/>
<rect x="722.34" y="439.71" width="31.71" height="34.26" fill="#0033cc"/>
<rect x="502.50" y="473.67" width="31.71" height="34.26" fill="#ffe100"/>
<rect x="533.91" y="473.67" width="31.71" height="34.26" fill="#ffe100"/>
<rect x="565.31" y="473.67" width="31.71" height="34.26" fill="#ffe100"/>
<rect x="596.72" y="473.67" width="31.71" height="34.26" fill="#0033cc"/>
<rect x="628.12" y="473.67" width="31.71" height="34.26" fill="#2d50a3"/>
<rect x="659.53" y="473.67" width="31.71" height="34.26" fill="#7a8a6b"/>
<rect x="690.94" y="473.67" width="31.71" height="34.26" fill="#0033cc"/>
<rect x="722.34" y="473.67" width="31.71" height="34.26" fill="#4c6890"/>
<rect x="502.50" y="507.62" width="31.71" height="34.26" fill="#e8c41f"/>
<rect x="533.91" y="507.62" width="31.71" height="34.26" fill="#9e9e4b"/>
<rect x="565.31" y="507.62" width="31.71" height="34.26" fill="#0033cc"/>
<rect x="596.72" y="507.62" width="31.71" height="34.26" fill="#ffe100"/>
<rect x="628.12" y="507.62" width="31.71" height="34.26" fill="#c4b930"/>
<rect x="659.53" y="507.62" width="31.71" height="34.26" fill="#c4b930"/>
<rect x="690.94" y="507.62" width="31.71" height="34.26" fill="#ffe100"/>
<rect x="722.34" y="507.62" width="31.71" height="34.26" fill="#c4b930"/>
<rect x="502.50" y="541.58" width="31.71" height="34.26" fill="#2d50a3"/>
<rect x="533.91" y="541.58" width="31.71" height="34.26" fill="#0033cc"/>
<rect x="565.31" y="541.58" width="31.71" height="34.26" fill="#9e9e4b"/>
<rect x="596.72" y="541.58" width="31.71" height="34.26" fill="#ffe100"/>
<rect x="628.12" y="541.58" width="31.71" height="34.26" fill="#c4b930"/>
<rect x="659.53" y="541.58" width="31.71" height="34.26" fill="#ffe100"/>
<rect x="690.94" y="541.58" width="31.71" height="34.26" fill="#ffe100"/>
<rect x="722.34" y="541.58" width="31.71" height="34.26" fill="#c4b930"/>
<rect x="502.50" y="575.54" width="31.71" height="34.26" fill="#0033cc"/>
<rect x="533.91" y="575.54" width="31.71" height="34.26" fill="#2d50a3"/>
<rect x="565.31" y="575.54" width="31.71" height="34.26" fill="#e8c41f"/>
<rect x="596.72" y="575.54" width="31.71" height="34.26" fill="#ffe100"/>
<rect x="628.12" y="575.54" width="31.71" height="34.26" fill="#c4b930"/>
<rect x="659.53" y="575.54" width="31.71" height="34.26" fill="#ffe100"/>
<rect x="690.94" y="575.54" width="31.71" height="34.26" fill="#c4b930"/>
<rect x="722.34" y="575.54" width="31.71" height="34.26" fill="#c4b930"/>
<rect x="502.5" y="405.75" width="251.25" height="203.75" fill="none" stroke="#000" stroke-width="1.3"/>
<line x1="491.75" y1="422.5" x2="491.75" y2="600" stroke="#000" stroke-width="2"/>
<text transform="translate(478.7,573.7) rotate(-90)" font-size="28" textLength="114.5" lengthAdjust="spacingAndGlyphs">Cell lines</text>
<text x="552.0" y="639.5" font-size="26.5" textLength="145.5" lengthAdjust="spacingAndGlyphs">Gene effect</text>
<text transform="translate(511.7,399.0) rotate(-40)" font-size="23">Gene G</text>
<text transform="translate(543.1,399.0) rotate(-40)" font-size="23">Gene H</text>
<text transform="translate(574.5,399.0) rotate(-40)" font-size="23">Gene I</text>
<text transform="translate(605.9,399.0) rotate(-40)" font-size="23">Gene J</text>
<text transform="translate(637.3,399.0) rotate(-40)" font-size="23">Gene K</text>
<text transform="translate(668.7,399.0) rotate(-40)" font-size="23">Gene L</text>
<text transform="translate(700.1,399.0) rotate(-40)" font-size="23">Gene M</text>
<text transform="translate(731.5,399.0) rotate(-40)" font-size="23">Gene N</text>
<path d="M718.0,171.2H830.5" stroke="#44546a" stroke-width="4.4" fill="none"/><path d="M842.5,171.2L825.5,164.5L830.0,171.2L825.5,178.0Z" fill="#44546a"/>
<text x="746.2" y="158.8" font-size="25.5" textLength="51.7" lengthAdjust="spacingAndGlyphs">PCA</text>
<path d="M763.2,502.5H830.5" stroke="#44546a" stroke-width="4.4" fill="none"/><path d="M842.5,502.5L825.5,495.8L830.0,502.5L825.5,509.2Z" fill="#44546a"/>
<text x="767.5" y="487.7" font-size="25.5" textLength="50.5" lengthAdjust="spacingAndGlyphs">PCA</text>
<text transform="translate(873.0,231.6) rotate(-90)" font-size="27.5" textLength="119.0" lengthAdjust="spacingAndGlyphs">Pathway 1</text>
<text transform="translate(873.0,566.3) rotate(-90)" font-size="27.5" textLength="122.5" lengthAdjust="spacingAndGlyphs">Pathway 2</text>
<rect x="890" y="74.25" width="110.8" height="185.6" fill="#000080"/>
<rect x="916.3000000000001" y="74" width="1.6" height="186.2" fill="#fff"/>
<rect x="944.5" y="74" width="1.6" height="186.2" fill="#fff"/>
<rect x="972.7" y="74" width="1.6" height="186.2" fill="#fff"/>
<text x="918.8" y="63.3" font-size="25" textLength="46.2" lengthAdjust="spacingAndGlyphs">PCs</text>
<rect x="891.2" y="411.6" width="25.6" height="184.8" fill="#bdbdbd" stroke="#222" stroke-width="2.4"/>
<rect x="919.3" y="411.6" width="25.6" height="184.8" fill="#bdbdbd" stroke="#222" stroke-width="2.4"/>
<rect x="947.4" y="411.6" width="25.6" height="184.8" fill="#bdbdbd" stroke="#222" stroke-width="2.4"/>
<rect x="975.5" y="411.6" width="25.6" height="184.8" fill="#bdbdbd" stroke="#222" stroke-width="2.4"/>
<text x="918.8" y="399.6" font-size="25" textLength="46.2" lengthAdjust="spacingAndGlyphs">PCs</text>
<path d="M1012.7,186.1H1063.7V473H1012.7" fill="none" stroke="#44546a" stroke-width="4"/>
<path d="M1063.7,328.6H1107.0" stroke="#44546a" stroke-width="4" fill="none"/><path d="M1119.0,328.6L1102.0,321.6L1106.5,328.6L1102.0,335.6Z" fill="#44546a"/>
<text x="991.0" y="336.7" font-size="25.5" textLength="54.3" lengthAdjust="spacingAndGlyphs">CCA</text>
<path d="M1232,226.1H1240.9V443.4M1232,335H1240.9M1232,443.4H1439.6" fill="none" stroke="#222" stroke-width="1.6"/>
<rect x="1259.4" y="243.9" width="32.0" height="199.3" fill="#444" stroke="#222" stroke-width="1.2"/>
<rect x="1303.4" y="274.6" width="32.1" height="168.6" fill="#737373" stroke="#222" stroke-width="1.2"/>
<rect x="1348.6" y="318.7" width="31.9" height="124.5" fill="#8c8c8c" stroke="#222" stroke-width="1.2"/>
<rect x="1392.2" y="374.3" width="31.9" height="68.9" fill="#bdbdbd" stroke="#222" stroke-width="1.2"/>
<text x="1219.5" y="233.3" font-size="20.5" text-anchor="end">1.0</text>
<text x="1219.5" y="341.6" font-size="20.5" text-anchor="end">0.5</text>
<text x="1219.5" y="450.4" font-size="20.5" text-anchor="end">0</text>
<text transform="translate(1161.3,403.9) rotate(-90)" font-size="24.5" textLength="140.5" lengthAdjust="spacingAndGlyphs">Correlation</text>
<text transform="translate(1261.6,500.0) rotate(-41)" font-size="21">CC<tspan font-size="13" dx="2" dy="3">1</tspan></text>
<text transform="translate(1303.8,500.0) rotate(-41)" font-size="21">CC<tspan font-size="13" dx="2" dy="3">2</tspan></text>
<text transform="translate(1347.0,500.0) rotate(-41)" font-size="21">CC<tspan font-size="13" dx="2" dy="3">3</tspan></text>
<text transform="translate(1392.9,500.0) rotate(-41)" font-size="21">CC<tspan font-size="13" dx="2" dy="3"><tspan font-style="italic">n</tspan></tspan></text>
</g>
<g id="pb">
<path d="M1562.5,173.8V719M1562.5,173.8H1596.5M1562.5,719H1595M1596.5,76.4V271.1M1596.5,76.4H1615.1M1615.1,30.8V121.2M1615.1,30.8H1625.7M1625.7,18.6V45M1625.7,18.6H1640M1625.7,45H1636M1615.1,121.2H1625.1M1625.1,94V148.6M1625.1,94H1636M1625.1,148.6H1630M1596.5,271.1H1603.7M1603.7,216.4V325.3M1603.7,325.3H1620M1620.5,236.8V414M1620.5,236.8H1631.5M1622.6,306V522.4M1620.5,306.4H1632M1622.6,522.4H1625.9M1625.9,456.4V586.5M1625.9,456.4H1630.8M1630.8,433.7V480M1625.9,586.5H1629.8M1629.8,553V620M1630.8,433.7H1636M1630.8,480H1635M1629.8,553H1635M1629.8,620H1636M1595,650V789.6M1595,650H1622M1622,644.6V656.4M1622,644.6H1632M1622,656.4H1630M1595,789.6H1610.2M1610.2,669.6V909.8M1610.2,669.6H1618M1618,665.3V674.1M1618,665.3H1630M1618,674.1H1628M1610.2,909.8H1616.5M1616.5,784.2V1035.8M1616.5,784.2H1626.1M1626.1,716V850M1626.1,716H1633M1626.1,850H1634M1616.5,1035.8H1623.5M1623.5,1008V1063M1623.5,1008H1628M1628,993V1022M1628,993H1634M1628,1022H1636M1623.5,1063H1630M1630,1056V1069M1630,1056H1638M1630,1069H1640" fill="none" stroke="#000" stroke-width="2"/>
<path d="M1603.7,216.4H1641" stroke="#000" stroke-width="2.6"/>
<rect x="1642.3" y="13.8" width="6.4" height="1058.5" fill="#000"/>
<path d="M1643,14.5H1634.2V25.0H1643M1643,15.6H1639.0V21.8H1643M1643,22.0H1640.1V24.1H1643M1643,20.8H1633.4V48.7H1643M1643,23.4H1638.8V28.7H1643M1643,29.0H1640.2V35.4H1643M1643,36.5H1639.0V43.7H1643M1643,43.8H1638.5V48.7H1643M1643,35.2H1633.5V60.1H1643M1643,37.3H1639.3V45.5H1643M1643,47.3H1639.8V52.1H1643M1643,53.0H1640.3V60.1H1643M1643,49.2H1638.6V59.1H1643M1643,50.5H1640.4V56.9H1643M1643,55.9H1634.6V69.0H1643M1643,57.6H1639.5V66.0H1643M1643,67.5H1635.5V95.3H1643M1643,67.9H1640.9V76.0H1643M1643,77.8H1639.9V83.8H1643M1643,84.2H1639.3V92.0H1643M1643,82.2H1638.9V106.8H1643M1643,82.4H1640.6V90.0H1643M1643,90.3H1640.9V94.4H1643M1643,96.1H1640.8V98.4H1643M1643,98.5H1640.6V105.6H1643M1643,105.3H1639.0V122.0H1643M1643,106.3H1640.8V108.8H1643M1643,108.9H1640.7V112.3H1643M1643,113.5H1640.5V116.6H1643M1643,118.3H1641.0V122.0H1643M1643,116.5H1634.0V132.1H1643M1643,118.4H1638.6V124.6H1643M1643,125.8H1638.3V132.1H1643M1643,129.3H1631.7V139.8H1643M1643,132.3H1637.5V137.9H1643M1643,136.5H1628.7V154.9H1643M1643,138.4H1630.9V144.8H1643M1643,146.0H1637.5V151.3H1643M1643,151.5H1628.7V173.5H1643M1643,151.7H1640.6V158.4H1643M1643,158.9H1636.6V164.1H1643M1643,164.8H1633.6V169.3H1643M1643,170.1H1633.5V173.5H1643M1643,170.1H1634.5V175.8H1643M1643,172.4H1637.1V175.8H1643M1643,173.6H1633.1V182.9H1643M1643,175.7H1636.6V178.4H1643M1643,179.0H1637.4V182.9H1643M1643,178.9H1635.3V191.7H1643M1643,181.6H1637.8V186.7H1643M1643,187.0H1637.6V191.7H1643M1643,190.1H1631.4V199.3H1643M1643,192.5H1639.4V199.0H1643M1643,195.3H1636.8V207.0H1643M1643,196.1H1639.4V200.5H1643M1643,201.3H1640.8V206.2H1643M1643,201.1H1637.7V227.8H1643M1643,204.1H1640.9V209.1H1643M1643,211.0H1640.6V214.5H1643M1643,216.2H1640.2V222.9H1643M1643,223.4H1639.6V227.8H1643M1643,221.6H1637.0V233.2H1643M1643,221.7H1640.2V230.0H1643M1643,232.0H1634.6V257.7H1643M1643,232.1H1636.9V239.3H1643M1643,239.9H1638.7V246.5H1643M1643,247.4H1639.1V255.9H1643M1643,247.8H1633.5V272.6H1643M1643,250.1H1636.2V254.6H1643M1643,255.7H1636.0V263.4H1643M1643,265.0H1639.8V272.6H1643M1643,260.3H1637.6V279.8H1643M1643,260.4H1639.6V264.3H1643M1643,265.4H1640.0V270.4H1643M1643,271.9H1639.2V273.9H1643M1643,274.2H1639.2V277.1H1643M1643,277.5H1633.8V284.5H1643M1643,278.5H1637.3V282.7H1643M1643,282.8H1630.5V296.1H1643M1643,283.8H1637.0V286.7H1643M1643,288.1H1632.7V292.8H1643M1643,291.7H1636.7V310.6H1643M1643,292.9H1640.0V300.5H1643M1643,301.3H1639.6V305.9H1643M1643,307.3H1640.1V310.6H1643M1643,303.3H1635.8V320.6H1643M1643,303.5H1638.9V308.4H1643M1643,310.2H1638.7V318.8H1643M1643,318.1H1633.4V329.1H1643M1643,318.5H1638.9V326.1H1643M1643,327.5H1636.2V347.9H1643M1643,329.2H1639.6V331.9H1643M1643,332.0H1640.3V335.0H1643M1643,335.1H1638.0V337.7H1643M1643,339.5H1637.8V342.7H1643M1643,344.4H1640.5V347.2H1643M1643,345.4H1634.6V372.3H1643M1643,347.8H1639.9V350.0H1643M1643,351.0H1636.6V358.0H1643M1643,359.5H1636.4V368.1H1643M1643,368.7H1640.2V372.3H1643M1643,361.0H1635.0V371.7H1643M1643,363.3H1638.1V368.0H1643M1643,368.1H1629.4V382.7H1643M1643,369.6H1635.1V378.4H1643M1643,376.4H1636.4V397.3H1643M1643,378.5H1639.4V384.1H1643M1643,385.4H1638.4V393.6H1643M1643,393.8H1640.7V397.3H1643M1643,391.0H1630.5V412.6H1643M1643,391.8H1637.3V395.2H1643M1643,395.9H1638.2V399.5H1643M1643,401.4H1638.3V405.5H1643M1643,406.3H1637.2V412.6H1643M1643,403.9H1633.5V409.5H1643M1643,405.1H1637.2V408.3H1643M1643,408.6H1638.9V416.9H1643M1643,410.1H1640.7V416.2H1643M1643,415.8H1633.6V433.6H1643M1643,418.0H1637.4V426.0H1643M1643,427.5H1637.8V433.6H1643M1643,426.6H1635.6V448.1H1643M1643,429.5H1638.0V437.5H1643M1643,437.9H1637.8V441.7H1643M1643,443.1H1640.6V448.1H1643M1643,445.8H1632.9V458.0H1643M1643,447.9H1635.1V450.5H1643M1643,452.2H1636.8V456.2H1643M1643,455.6H1632.0V460.7H1643M1643,456.9H1635.1V460.7H1643M1643,460.4H1634.2V474.4H1643M1643,460.7H1639.2V464.6H1643M1643,464.9H1640.5V473.1H1643M1643,473.3H1636.6V486.9H1643M1643,475.6H1640.1V479.6H1643M1643,480.9H1638.9V486.9H1643M1643,486.0H1634.1V506.4H1643M1643,486.3H1637.5V491.8H1643M1643,493.2H1638.7V500.0H1643M1643,500.3H1639.0V506.4H1643M1643,504.4H1629.8V524.5H1643M1643,507.2H1634.5V510.2H1643M1643,511.6H1636.7V517.8H1643M1643,519.1H1634.3V524.3H1643M1643,515.1H1636.4V536.5H1643M1643,516.7H1639.0V523.9H1643M1643,524.4H1640.6V529.1H1643M1643,529.2H1638.7V534.7H1643M1643,529.2H1632.7V541.9H1643M1643,530.8H1636.6V538.2H1643M1643,536.2H1629.5V547.4H1643M1643,536.5H1638.3V544.0H1643M1643,544.3H1635.2V547.4H1643M1643,545.9H1634.7V568.1H1643M1643,546.4H1637.1V551.1H1643M1643,552.2H1637.2V558.2H1643M1643,558.7H1636.4V566.2H1643M1643,565.9H1632.5V592.8H1643M1643,567.6H1638.4V573.7H1643M1643,575.6H1636.1V582.4H1643M1643,584.2H1638.2V589.5H1643M1643,579.4H1635.5V602.1H1643M1643,580.9H1638.8V586.5H1643M1643,586.9H1637.1V592.6H1643M1643,593.6H1638.7V600.1H1643M1643,600.5H1629.9V626.1H1643M1643,602.9H1631.9V609.3H1643M1643,610.0H1632.2V613.6H1643M1643,614.7H1634.5V623.2H1643M1643,621.3H1637.5V629.4H1643M1643,623.1H1640.4V629.4H1643M1643,626.6H1638.3V650.1H1643M1643,629.2H1640.7V634.2H1643M1643,635.2H1639.8V638.0H1643M1643,638.1H1640.0V641.5H1643M1643,642.5H1640.4V649.4H1643M1643,645.2H1633.4V657.2H1643M1643,647.5H1636.0V652.3H1643M1643,654.1H1637.1V657.2H1643M1643,654.1H1630.9V672.8H1643M1643,654.1H1639.1V657.6H1643M1643,657.9H1634.0V663.1H1643M1643,663.5H1635.8V666.7H1643M1643,667.0H1633.3V669.2H1643M1643,669.6H1632.9V672.8H1643M1643,667.2H1635.9V681.6H1643M1643,667.4H1638.8V672.2H1643M1643,672.3H1638.2V681.0H1643M1643,677.5H1635.0V686.3H1643M1643,678.5H1636.8V681.4H1643M1643,682.9H1640.1V686.3H1643M1643,685.6H1631.1V697.5H1643M1643,686.4H1637.9V694.1H1643M1643,692.0H1638.7V712.7H1643M1643,693.8H1640.2V695.8H1643M1643,696.0H1640.2V699.2H1643M1643,699.3H1640.9V705.9H1643M1643,706.3H1640.6V712.7H1643M1643,710.9H1628.9V737.6H1643M1643,711.8H1640.4V718.1H1643M1643,718.3H1639.4V722.3H1643M1643,722.6H1633.9V727.3H1643M1643,728.6H1632.2V737.1H1643M1643,733.0H1634.3V757.3H1643M1643,735.8H1638.0V740.3H1643M1643,740.8H1638.3V748.3H1643M1643,748.8H1639.6V752.0H1643M1643,753.2H1637.8V757.3H1643M1643,746.8H1628.7V768.2H1643M1643,748.2H1637.5V755.5H1643M1643,755.7H1639.3V759.4H1643M1643,760.7H1639.6V768.2H1643M1643,766.1H1632.0V788.0H1643M1643,767.2H1636.5V769.7H1643M1643,771.6H1637.8V774.4H1643M1643,774.6H1638.4V777.2H1643M1643,777.6H1634.6V780.0H1643M1643,781.3H1633.6V787.4H1643M1643,786.5H1634.4V796.6H1643M1643,787.8H1639.0V795.3H1643M1643,794.0H1630.4V803.3H1643M1643,794.2H1632.9V802.0H1643M1643,802.7H1637.9V812.3H1643M1643,803.0H1639.7V808.2H1643M1643,810.2H1636.5V829.9H1643M1643,812.8H1639.8V817.2H1643M1643,818.1H1640.5V820.9H1643M1643,822.1H1638.6V829.8H1643M1643,824.2H1629.3V845.9H1643M1643,825.2H1631.5V830.6H1643M1643,831.7H1635.1V838.9H1643M1643,840.2H1633.0V845.9H1643M1643,844.8H1633.0V857.5H1643M1643,845.0H1635.6V848.6H1643M1643,850.4H1640.2V857.5H1643M1643,854.6H1634.1V881.1H1643M1643,855.9H1640.5V864.5H1643M1643,866.4H1639.8V871.8H1643M1643,872.6H1640.6V881.1H1643M1643,879.0H1629.5V888.2H1643M1643,881.1H1636.2V885.2H1643M1643,883.8H1631.4V905.9H1643M1643,885.1H1638.9V889.5H1643M1643,891.0H1633.7V895.0H1643M1643,895.6H1633.5V900.5H1643M1643,900.8H1638.6V905.9H1643M1643,904.6H1632.4V929.7H1643M1643,905.1H1637.2V909.3H1643M1643,910.3H1636.5V916.1H1643M1643,917.8H1637.2V921.8H1643M1643,923.6H1636.0V929.7H1643M1643,926.3H1629.9V931.5H1643M1643,927.9H1633.0V931.5H1643M1643,929.4H1633.4V952.1H1643M1643,932.3H1640.9V939.8H1643M1643,939.9H1635.0V943.2H1643M1643,944.1H1635.2V948.4H1643M1643,941.7H1631.1V953.9H1643M1643,944.1H1634.8V949.0H1643M1643,949.1H1637.9V953.9H1643M1643,952.8H1631.1V976.4H1643M1643,953.2H1639.2V960.5H1643M1643,961.5H1637.2V969.3H1643M1643,969.9H1632.7V973.1H1643M1643,974.1H1633.4V999.9H1643M1643,976.1H1639.9V984.6H1643M1643,985.8H1638.1V990.7H1643M1643,991.1H1639.1V994.3H1643M1643,996.3H1637.4V999.9H1643M1643,992.3H1633.3V1015.8H1643M1643,995.2H1636.7V998.3H1643M1643,999.3H1640.1V1004.2H1643M1643,1005.9H1638.6V1014.4H1643M1643,1010.1H1633.6V1027.8H1643M1643,1011.0H1640.5V1017.9H1643M1643,1018.1H1637.3V1024.8H1643M1643,1026.1H1635.3V1053.1H1643M1643,1026.6H1637.5V1035.1H1643M1643,1035.8H1638.1V1043.6H1643M1643,1044.2H1640.8V1052.8H1643M1643,1044.4H1629.9V1055.9H1643M1643,1045.1H1632.1V1054.0H1643M1643,1051.2H1634.0V1058.0H1643M1643,1053.4H1639.0V1058.0H1643M1643,1054.6H1638.6V1066.1H1643M1643,1054.8H1640.5V1058.7H1643M1643,1059.2H1640.1V1065.0H1643M1643,1065.3H1638.0V1071.0H1643M1643,1065.8H1640.5V1071.0H1643M1643,1070.0H1636.5V1071.0H1643" fill="none" stroke="#000" stroke-width="1.5"/>
<path d="M1643.0,13.8L1637.2,13.8L1637.7,18.4L1635.9,21.3L1637.9,24.1L1637.9,25.8L1638.0,28.3L1634.1,29.4L1640.7,32.1L1634.4,33.1L1641.0,37.9L1634.6,40.8L1640.8,43.6L1636.7,45.4L1637.6,48.0L1636.9,49.6L1639.5,53.8L1635.9,55.6L1639.4,58.7L1634.4,61.3L1640.8,64.9L1634.3,67.6L1640.4,72.4L1634.7,73.6L1637.7,75.8L1635.3,78.8L1637.9,83.3L1637.4,84.2L1641.0,88.4L1635.9,90.7L1637.8,94.9L1635.5,96.9L1639.6,98.9L1635.8,100.4L1638.6,103.2L1636.2,104.8L1640.8,109.8L1637.3,112.5L1640.9,115.0L1634.1,116.4L1640.1,119.6L1636.4,121.2L1640.9,123.6L1635.7,125.4L1640.6,128.8L1635.9,131.8L1639.7,134.8L1635.4,135.8L1640.2,140.2L1637.3,141.2L1640.9,144.0L1634.5,145.6L1640.6,149.0L1637.4,150.8L1638.8,154.8L1635.8,156.2L1638.8,159.1L1637.4,161.4L1638.0,164.9L1635.2,166.2L1638.0,169.9L1634.9,170.8L1637.6,173.3L1637.6,175.3L1640.1,178.7L1637.3,181.3L1639.0,186.0L1634.0,188.3L1638.8,192.9L1637.5,194.7L1638.2,197.2L1636.2,199.8L1637.6,201.6L1633.5,203.2L1638.1,207.6L1635.2,209.0L1639.0,212.3L1636.5,214.5L1637.8,217.5L1636.6,220.5L1639.0,222.3L1638.0,224.7L1637.5,226.5L1635.4,228.3L1640.4,232.9L1635.4,234.5L1640.6,238.0L1635.3,239.3L1639.7,241.1L1637.7,241.9L1639.5,245.3L1634.5,246.2L1640.5,249.4L1634.8,251.4L1639.8,256.3L1634.4,258.3L1640.6,260.8L1635.9,261.9L1638.7,265.6L1637.6,268.1L1640.1,272.6L1633.8,273.8L1638.6,276.8L1637.4,278.1L1640.4,280.3L1634.0,283.2L1638.9,287.9L1634.3,289.1L1639.2,290.8L1637.3,292.4L1637.7,296.8L1635.3,298.5L1638.4,300.6L1636.6,302.0L1637.9,304.7L1635.5,306.0L1638.4,309.5L1634.5,311.8L1639.6,315.7L1636.9,316.9L1639.4,319.7L1636.3,321.8L1637.7,324.9L1637.4,327.4L1639.5,330.6L1637.5,332.0L1638.3,335.9L1637.9,338.5L1641.0,341.2L1634.3,343.1L1638.7,347.1L1636.1,349.5L1639.3,351.4L1635.7,354.1L1640.5,357.5L1635.7,359.2L1640.4,362.8L1633.9,364.0L1639.4,368.2L1637.5,369.7L1639.4,374.3L1637.3,377.2L1638.5,381.3L1636.6,382.2L1638.7,386.2L1636.1,388.1L1639.9,390.5L1635.2,392.5L1639.4,394.4L1636.8,395.9L1638.9,398.0L1635.3,399.2L1637.9,402.7L1635.7,403.7L1639.3,405.9L1634.0,407.0L1640.7,410.4L1635.8,413.1L1637.7,416.0L1634.9,417.4L1637.9,422.2L1635.6,425.1L1638.4,428.1L1634.3,431.1L1639.3,434.6L1634.5,435.8L1640.3,440.7L1637.6,443.2L1640.0,445.0L1634.5,447.4L1640.9,450.5L1636.9,452.1L1639.8,454.1L1635.8,455.5L1640.5,458.3L1635.8,460.8L1639.0,464.7L1634.7,467.3L1639.5,470.7L1633.7,472.3L1639.7,474.4L1636.9,475.7L1640.8,478.9L1636.8,481.6L1637.7,484.4L1636.9,486.4L1638.2,491.2L1637.9,492.3L1639.2,496.4L1634.2,498.8L1639.8,502.2L1634.2,504.4L1639.7,506.3L1634.1,509.1L1637.8,510.6L1635.3,513.1L1641.0,516.2L1634.7,518.4L1637.5,522.3L1636.6,523.7L1637.6,525.8L1635.0,527.8L1637.9,532.7L1635.2,535.2L1639.1,539.6L1635.0,541.8L1639.1,544.1L1635.1,546.7L1639.0,549.0L1634.9,550.0L1639.4,553.5L1634.8,555.6L1637.6,557.2L1634.4,558.7L1638.4,562.2L1636.2,564.7L1640.1,568.5L1635.4,570.5L1637.7,573.1L1635.8,575.6L1640.7,577.5L1636.3,579.5L1637.9,582.6L1634.3,585.6L1641.0,588.4L1635.7,589.4L1638.4,592.6L1635.4,595.4L1639.2,597.0L1636.7,597.8L1640.7,602.3L1636.5,603.2L1639.2,605.8L1634.9,607.3L1639.7,609.2L1637.8,610.2L1640.9,611.9L1633.9,613.1L1639.4,617.2L1635.8,619.7L1637.8,623.4L1635.8,625.7L1637.5,630.5L1636.5,631.5L1639.0,636.2L1636.0,638.6L1639.1,641.5L1633.6,643.6L1640.1,646.2L1635.6,647.5L1638.8,649.9L1636.8,652.2L1639.2,657.0L1635.0,658.3L1638.3,660.0L1636.2,662.0L1638.1,664.4L1634.3,665.4L1638.4,668.7L1636.0,671.4L1639.0,674.1L1636.8,675.0L1638.8,679.1L1634.7,681.5L1638.3,683.8L1636.2,685.0L1640.0,688.8L1636.9,689.8L1638.8,693.0L1635.4,694.9L1638.9,697.1L1636.7,699.3L1638.2,704.0L1637.1,706.8L1640.9,710.7L1637.0,711.9L1637.9,716.5L1637.8,718.6L1640.5,721.1L1635.5,723.9L1638.3,725.9L1635.4,728.6L1639.1,731.2L1634.6,734.0L1640.8,735.6L1635.2,737.1L1638.5,742.0L1637.5,743.0L1638.3,745.3L1634.5,748.2L1638.7,752.8L1634.5,754.3L1639.5,757.7L1635.8,759.4L1640.4,761.9L1636.9,764.8L1637.7,769.2L1634.4,770.5L1640.9,772.5L1637.6,775.3L1637.9,778.8L1633.8,780.5L1638.4,785.2L1637.8,786.6L1640.7,788.8L1636.5,790.3L1640.6,792.2L1635.1,793.9L1639.6,797.7L1634.1,799.0L1637.6,802.5L1635.0,805.2L1638.6,807.3L1634.9,808.4L1638.9,811.8L1634.8,813.3L1640.2,816.5L1637.0,818.3L1637.9,821.5L1637.3,822.6L1638.8,825.8L1637.3,827.8L1638.8,830.6L1633.5,832.2L1639.2,835.6L1635.5,837.5L1640.0,840.6L1637.9,841.8L1640.5,843.7L1637.1,844.9L1637.8,847.3L1637.3,849.3L1640.6,853.8L1633.7,856.7L1637.9,859.6L1635.5,862.0L1640.3,866.1L1636.5,869.1L1639.4,873.7L1637.5,874.7L1637.8,876.5L1634.8,879.1L1637.6,882.9L1636.7,884.2L1639.3,885.8L1634.5,888.7L1640.1,892.7L1636.9,894.8L1637.5,898.8L1635.9,900.0L1638.3,904.9L1634.1,907.0L1639.1,911.4L1636.5,913.4L1640.1,915.4L1637.4,917.9L1638.3,920.4L1637.5,921.6L1638.9,924.6L1636.6,926.6L1638.7,929.2L1637.0,931.7L1637.8,934.2L1636.8,937.0L1638.9,940.6L1635.4,943.5L1637.9,945.8L1636.2,947.3L1640.8,950.1L1635.6,952.4L1639.6,956.2L1635.7,958.3L1639.2,961.7L1634.4,964.3L1638.5,968.5L1633.8,971.2L1639.1,974.4L1634.4,976.8L1638.0,979.2L1636.1,981.2L1638.1,982.7L1637.8,984.0L1639.5,987.1L1636.5,988.5L1639.8,992.8L1635.5,993.6L1637.7,996.8L1634.9,999.4L1639.7,1001.9L1635.7,1004.0L1639.3,1008.5L1633.8,1010.1L1638.8,1013.5L1635.1,1015.5L1637.6,1017.0L1633.9,1018.1L1639.5,1022.6L1636.7,1024.0L1637.7,1027.7L1634.5,1030.1L1638.0,1035.1L1634.6,1036.5L1640.4,1041.1L1634.2,1043.1L1640.0,1046.1L1637.6,1047.1L1640.8,1051.5L1636.3,1053.8L1638.4,1058.8L1634.1,1060.2L1640.3,1062.4L1636.8,1063.4L1640.6,1066.3L1636.6,1068.7L1637.6,1073.2L1643.0,1072.3Z" fill="#000"/>
<path d="M1637.7,16.0l2.6,1.6l-2.6,1.4zM1639.0,26.3l2.6,1.6l-2.6,1.4zM1639.3,41.1l2.6,1.6l-2.6,1.4zM1639.1,56.4l2.6,1.6l-2.6,1.4zM1638.3,65.9l2.6,1.6l-2.6,1.4zM1639.7,79.4l2.6,1.6l-2.6,1.4zM1637.6,89.1l2.6,1.6l-2.6,1.4zM1637.0,101.3l2.6,1.6l-2.6,1.4zM1636.0,116.1l2.6,1.6l-2.6,1.4zM1638.2,128.6l2.6,1.6l-2.6,1.4zM1638.6,136.5l2.6,1.6l-2.6,1.4zM1640.3,147.3l2.6,1.6l-2.6,1.4zM1638.6,162.1l2.6,1.6l-2.6,1.4zM1640.0,176.8l2.6,1.6l-2.6,1.4zM1639.7,184.5l2.6,1.6l-2.6,1.4zM1640.5,198.8l2.6,1.6l-2.6,1.4zM1637.8,212.4l2.6,1.6l-2.6,1.4zM1638.9,220.5l2.6,1.6l-2.6,1.4zM1639.4,228.6l2.6,1.6l-2.6,1.4zM1639.7,240.3l2.6,1.6l-2.6,1.4zM1637.4,249.9l2.6,1.6l-2.6,1.4zM1639.0,264.9l2.6,1.6l-2.6,1.4zM1638.5,274.7l2.6,1.6l-2.6,1.4zM1638.9,285.1l2.6,1.6l-2.6,1.4zM1637.3,296.2l2.6,1.6l-2.6,1.4zM1640.0,312.0l2.6,1.6l-2.6,1.4zM1637.3,325.6l2.6,1.6l-2.6,1.4zM1639.3,333.6l2.6,1.6l-2.6,1.4zM1638.9,347.8l2.6,1.6l-2.6,1.4zM1639.2,355.9l2.6,1.6l-2.6,1.4zM1637.7,367.2l2.6,1.6l-2.6,1.4zM1638.0,379.1l2.6,1.6l-2.6,1.4zM1639.4,391.5l2.6,1.6l-2.6,1.4zM1636.5,407.4l2.6,1.6l-2.6,1.4zM1640.3,419.1l2.6,1.6l-2.6,1.4zM1638.6,431.6l2.6,1.6l-2.6,1.4zM1636.1,446.2l2.6,1.6l-2.6,1.4zM1638.8,460.1l2.6,1.6l-2.6,1.4zM1637.4,471.9l2.6,1.6l-2.6,1.4zM1636.6,484.1l2.6,1.6l-2.6,1.4zM1637.2,495.4l2.6,1.6l-2.6,1.4zM1639.6,510.7l2.6,1.6l-2.6,1.4zM1639.4,521.4l2.6,1.6l-2.6,1.4zM1638.4,531.3l2.6,1.6l-2.6,1.4zM1639.9,538.9l2.6,1.6l-2.6,1.4zM1639.4,552.5l2.6,1.6l-2.6,1.4zM1639.7,559.4l2.6,1.6l-2.6,1.4zM1638.5,565.5l2.6,1.6l-2.6,1.4zM1636.3,576.4l2.6,1.6l-2.6,1.4zM1640.0,586.6l2.6,1.6l-2.6,1.4zM1637.4,598.8l2.6,1.6l-2.6,1.4zM1637.6,613.0l2.6,1.6l-2.6,1.4zM1637.8,627.9l2.6,1.6l-2.6,1.4zM1640.4,634.7l2.6,1.6l-2.6,1.4zM1637.1,641.4l2.6,1.6l-2.6,1.4zM1636.5,655.1l2.6,1.6l-2.6,1.4zM1639.9,666.6l2.6,1.6l-2.6,1.4zM1637.6,678.5l2.6,1.6l-2.6,1.4zM1639.7,692.1l2.6,1.6l-2.6,1.4zM1638.8,703.9l2.6,1.6l-2.6,1.4zM1637.8,713.1l2.6,1.6l-2.6,1.4zM1640.4,729.0l2.6,1.6l-2.6,1.4zM1636.9,735.0l2.6,1.6l-2.6,1.4zM1639.6,743.3l2.6,1.6l-2.6,1.4zM1636.8,751.3l2.6,1.6l-2.6,1.4zM1636.8,764.9l2.6,1.6l-2.6,1.4zM1638.0,780.7l2.6,1.6l-2.6,1.4zM1639.7,795.7l2.6,1.6l-2.6,1.4zM1639.5,803.8l2.6,1.6l-2.6,1.4zM1637.0,813.9l2.6,1.6l-2.6,1.4zM1639.2,820.4l2.6,1.6l-2.6,1.4zM1637.4,832.0l2.6,1.6l-2.6,1.4zM1636.9,846.3l2.6,1.6l-2.6,1.4zM1636.4,856.8l2.6,1.6l-2.6,1.4zM1640.0,866.3l2.6,1.6l-2.6,1.4zM1636.7,877.3l2.6,1.6l-2.6,1.4zM1638.9,885.6l2.6,1.6l-2.6,1.4zM1640.0,894.4l2.6,1.6l-2.6,1.4zM1639.9,901.0l2.6,1.6l-2.6,1.4zM1639.7,913.2l2.6,1.6l-2.6,1.4zM1636.3,922.8l2.6,1.6l-2.6,1.4zM1638.8,930.5l2.6,1.6l-2.6,1.4zM1636.5,936.8l2.6,1.6l-2.6,1.4zM1640.0,950.6l2.6,1.6l-2.6,1.4zM1639.8,965.1l2.6,1.6l-2.6,1.4zM1639.9,976.7l2.6,1.6l-2.6,1.4zM1638.5,989.7l2.6,1.6l-2.6,1.4zM1636.1,999.9l2.6,1.6l-2.6,1.4zM1637.1,1006.8l2.6,1.6l-2.6,1.4zM1636.5,1017.4l2.6,1.6l-2.6,1.4zM1638.6,1033.1l2.6,1.6l-2.6,1.4zM1640.0,1046.5l2.6,1.6l-2.6,1.4zM1640.0,1054.8l2.6,1.6l-2.6,1.4z" fill="#fff"/>
<text transform="translate(1697.7,1098.4) rotate(-45)" font-size="24.5" text-anchor="end" textLength="24.6" lengthAdjust="spacingAndGlyphs">CI</text>
<text transform="translate(1761.3,1098.4) rotate(-45)" font-size="24.5" text-anchor="end" textLength="32.6" lengthAdjust="spacingAndGlyphs">CII</text>
<text transform="translate(1824.9,1098.4) rotate(-45)" font-size="24.5" text-anchor="end" textLength="39.9" lengthAdjust="spacingAndGlyphs">CIII</text>
<text transform="translate(1888.5,1098.4) rotate(-45)" font-size="24.5" text-anchor="end" textLength="43.5" lengthAdjust="spacingAndGlyphs">CIV</text>
<text transform="translate(1952.1,1098.4) rotate(-45)" font-size="24.5" text-anchor="end" textLength="35.5" lengthAdjust="spacingAndGlyphs">CV</text>
<text x="2020.9" y="390.5" font-size="24.5" textLength="141.6" lengthAdjust="spacingAndGlyphs">Correlation</text>
<defs><linearGradient id="gb" x1="0" y1="0" x2="0" y2="1"><stop offset="0.0320" stop-color="#000080"/><stop offset="0.1725" stop-color="#000080"/><stop offset="0.2193" stop-color="#1d1b72"/><stop offset="0.3130" stop-color="#3e3963"/><stop offset="0.4066" stop-color="#5e5450"/><stop offset="0.5003" stop-color="#7d6f40"/><stop offset="0.5940" stop-color="#a08e2c"/><stop offset="0.6877" stop-color="#c4ae1e"/><stop offset="0.7813" stop-color="#ebd00b"/><stop offset="0.8282" stop-color="#ffe600"/><stop offset="0.9687" stop-color="#ffe600"/></linearGradient></defs>
<rect x="2019.2" y="413.9" width="50.6" height="312.9" fill="url(#gb)"/>
<path d="M2020.4,423.9h10M2058.6,423.9h10" stroke="#fff" stroke-opacity=".85" stroke-width="1.2"/>
<text x="2081.5" y="433.1" font-size="21" textLength="33.9" lengthAdjust="spacingAndGlyphs">1.0</text>
<path d="M2020.4,482.5h10M2058.6,482.5h10" stroke="#fff" stroke-opacity=".85" stroke-width="1.2"/>
<text x="2081.5" y="491.7" font-size="21" textLength="33.9" lengthAdjust="spacingAndGlyphs">0.8</text>
<path d="M2020.4,541.1h10M2058.6,541.1h10" stroke="#fff" stroke-opacity=".85" stroke-width="1.2"/>
<text x="2081.5" y="550.3" font-size="21" textLength="33.9" lengthAdjust="spacingAndGlyphs">0.6</text>
<path d="M2020.4,599.8h10M2058.6,599.8h10" stroke="#fff" stroke-opacity=".85" stroke-width="1.2"/>
<text x="2081.5" y="609.0" font-size="21" textLength="33.9" lengthAdjust="spacingAndGlyphs">0.4</text>
<path d="M2020.4,658.4h10M2058.6,658.4h10" stroke="#fff" stroke-opacity=".85" stroke-width="1.2"/>
<text x="2081.5" y="667.6" font-size="21" textLength="33.9" lengthAdjust="spacingAndGlyphs">0.2</text>
<path d="M2020.4,717.0h10M2058.6,717.0h10" stroke="#fff" stroke-opacity=".85" stroke-width="1.2"/>
<text x="2081.5" y="726.2" font-size="21" textLength="13.5" lengthAdjust="spacingAndGlyphs">0</text>
</g>
<g id="pc">
<circle cx="107.5" cy="716.1" r="10.8" fill="#000080"/>
<text x="128.6" y="723.9" font-size="21.5" textLength="66.5" lengthAdjust="spacingAndGlyphs">Query</text>
<circle cx="107.5" cy="740.6" r="10.8" fill="#4b4ba5"/>
<text x="128.6" y="749.4" font-size="21.5" textLength="70.0" lengthAdjust="spacingAndGlyphs">GO:BP</text>
<circle cx="107.5" cy="765.1" r="10.8" fill="#9b9bce"/>
<text x="128.6" y="773.9" font-size="21.5" textLength="74.9" lengthAdjust="spacingAndGlyphs">GO:MF</text>
<g stroke-width="3.2" stroke-linecap="round">
<line x1="223.7" y1="1067.9" x2="183.4" y2="949.6" stroke="#e4e4e4"/>
<line x1="223.7" y1="1067.9" x2="245.6" y2="937.6" stroke="#e8e8e8"/>
<line x1="223.7" y1="1067.9" x2="300.9" y2="980.4" stroke="#dedede"/>
<line x1="223.7" y1="1067.9" x2="133.7" y2="999.3" stroke="#dcdcdc"/>
<line x1="223.7" y1="1067.9" x2="327" y2="1055" stroke="#f0f0f0"/>
<line x1="223.7" y1="1067.9" x2="120.4" y2="1079.9" stroke="#ededed"/>
<line x1="223.7" y1="1067.9" x2="312.9" y2="1134.7" stroke="#ebebeb"/>
<line x1="223.7" y1="1067.9" x2="145.7" y2="1154.9" stroke="#e2e2e2"/>
<line x1="223.7" y1="1067.9" x2="264.9" y2="1189.1" stroke="#e6e6e6"/>
<line x1="223.7" y1="1067.9" x2="200.6" y2="1196.9" stroke="#f0f0f0"/>
<line x1="513" y1="974" x2="527.3" y2="850.7" stroke="#dedede" stroke-width="3.2"/>
<line x1="513" y1="974" x2="566.9" y2="846" stroke="#efefef" stroke-width="3.2"/>
<line x1="513" y1="974" x2="582.2" y2="894.5" stroke="#e6e6e6" stroke-width="3.2"/>
<line x1="513" y1="974" x2="425.1" y2="888.3" stroke="#e8e8e8" stroke-width="3.2"/>
<line x1="513" y1="974" x2="413.8" y2="963.9" stroke="#e2e2e2" stroke-width="3.2"/>
<line x1="513" y1="974" x2="610.4" y2="965.1" stroke="#e2e2e2" stroke-width="3.2"/>
<line x1="513" y1="974" x2="613.3" y2="991.7" stroke="#dcdcdc" stroke-width="3.2"/>
<line x1="513" y1="974" x2="429.1" y2="1039.5" stroke="#ebebeb" stroke-width="3.2"/>
<line x1="513" y1="974" x2="466.7" y2="1095.8" stroke="#e4e4e4" stroke-width="3.2"/>
<line x1="513" y1="974" x2="579.1" y2="1095.8" stroke="#ededed" stroke-width="3.2"/>
<line x1="689.2" y1="1068.8" x2="610.4" y2="965.1" stroke="#b4b4b4" stroke-width="3.2"/>
<line x1="689.2" y1="1068.8" x2="613.3" y2="991.7" stroke="#bcbcbc" stroke-width="3.2"/>
<line x1="689.2" y1="1068.8" x2="691.4" y2="994" stroke="#b4b4b4" stroke-width="3.2"/>
<line x1="689.2" y1="1068.8" x2="721.1" y2="941.4" stroke="#c4c4c4" stroke-width="3.2"/>
<line x1="689.2" y1="1068.8" x2="759.8" y2="936.3" stroke="#b0b0b0" stroke-width="3.2"/>
<line x1="689.2" y1="1068.8" x2="783.4" y2="988.8" stroke="#b4b4b4" stroke-width="3.2"/>
<line x1="689.2" y1="1068.8" x2="758.7" y2="1028.1" stroke="#b8b8b8" stroke-width="3.2"/>
<line x1="689.2" y1="1068.8" x2="579.1" y2="1095.8" stroke="#b0b0b0" stroke-width="3.2"/>
<line x1="689.2" y1="1068.8" x2="757.5" y2="1169" stroke="#bababa" stroke-width="3.2"/>
<line x1="689.2" y1="1068.8" x2="688.4" y2="1196.5" stroke="#bcbcbc" stroke-width="3.2"/>
<line x1="689.2" y1="1068.8" x2="694.9" y2="727.4" stroke="#b8b8b8" stroke-width="3.2"/>
<line x1="652.6" y1="861" x2="624.6" y2="719.6" stroke="#bdbdbd" stroke-width="3.2"/>
<line x1="652.6" y1="861" x2="718.4" y2="779.8" stroke="#b0b0b0" stroke-width="3.2"/>
<line x1="652.6" y1="861" x2="755.2" y2="810.1" stroke="#aaaaaa" stroke-width="3.2"/>
<line x1="652.6" y1="861" x2="527.3" y2="850.7" stroke="#b4b4b4" stroke-width="3.2"/>
<line x1="652.6" y1="861" x2="582.2" y2="894.5" stroke="#a0a0a0" stroke-width="3.2"/>
<line x1="652.6" y1="861" x2="610.4" y2="965.1" stroke="#b8b8b8" stroke-width="3.2"/>
<line x1="652.6" y1="861" x2="613.3" y2="991.7" stroke="#c4c4c4" stroke-width="3.2"/>
<line x1="652.6" y1="861" x2="691.4" y2="994" stroke="#8e8e8e" stroke-width="3.2"/>
<line x1="683.8" y1="885.8" x2="694.9" y2="727.4" stroke="#b4b4b4" stroke-width="3.2"/>
<line x1="683.8" y1="885.8" x2="718.4" y2="779.8" stroke="#bcbcbc" stroke-width="3.2"/>
<line x1="683.8" y1="885.8" x2="755.2" y2="810.1" stroke="#a8a8a8" stroke-width="3.2"/>
<line x1="683.8" y1="885.8" x2="566.9" y2="846" stroke="#9a9a9a" stroke-width="3.2"/>
<line x1="683.8" y1="885.8" x2="582.2" y2="894.5" stroke="#a4a4a4" stroke-width="3.2"/>
<line x1="683.8" y1="885.8" x2="610.4" y2="965.1" stroke="#a8a8a8" stroke-width="3.2"/>
<line x1="683.8" y1="885.8" x2="613.3" y2="991.7" stroke="#b4b4b4" stroke-width="3.2"/>
<line x1="683.8" y1="885.8" x2="721.1" y2="941.4" stroke="#b0b0b0" stroke-width="3.2"/>
<line x1="683.8" y1="885.8" x2="759.8" y2="936.3" stroke="#a0a0a0" stroke-width="3.2"/>
<line x1="683.8" y1="885.8" x2="783.4" y2="988.8" stroke="#8c8c8c" stroke-width="3.2"/>
<line x1="683.8" y1="885.8" x2="758.7" y2="1028.1" stroke="#969696" stroke-width="3.2"/>
<line x1="652.6" y1="861" x2="683.8" y2="885.8" stroke="#a0a0a0" stroke-width="3.2"/>
</g>
<circle cx="183.4" cy="949.6" r="9.2" fill="#4b4ba5"/>
<circle cx="245.6" cy="937.6" r="9.2" fill="#4b4ba5"/>
<circle cx="300.9" cy="980.4" r="9.2" fill="#9b9bce"/>
<circle cx="133.7" cy="999.3" r="9.2" fill="#9b9bce"/>
<circle cx="327" cy="1055" r="9.2" fill="#4b4ba5"/>
<circle cx="120.4" cy="1079.9" r="9.2" fill="#4b4ba5"/>
<circle cx="312.9" cy="1134.7" r="9.2" fill="#4b4ba5"/>
<circle cx="145.7" cy="1154.9" r="9.2" fill="#9b9bce"/>
<circle cx="264.9" cy="1189.1" r="9.2" fill="#4b4ba5"/>
<circle cx="200.6" cy="1196.9" r="9.2" fill="#4b4ba5"/>
<circle cx="624.6" cy="719.6" r="9.2" fill="#4b4ba5"/>
<circle cx="694.9" cy="727.4" r="9.2" fill="#4b4ba5"/>
<circle cx="718.4" cy="779.8" r="9.2" fill="#4b4ba5"/>
<circle cx="755.2" cy="810.1" r="9.2" fill="#9b9bce"/>
<circle cx="527.3" cy="850.7" r="9.2" fill="#9b9bce"/>
<circle cx="566.9" cy="846" r="9.2" fill="#9b9bce"/>
<circle cx="582.2" cy="894.5" r="9.2" fill="#9b9bce"/>
<circle cx="425.1" cy="888.3" r="9.2" fill="#9b9bce"/>
<circle cx="413.8" cy="963.9" r="9.2" fill="#4b4ba5"/>
<circle cx="610.4" cy="965.1" r="9.2" fill="#4b4ba5"/>
<circle cx="613.3" cy="991.7" r="9.2" fill="#4b4ba5"/>
<circle cx="429.1" cy="1039.5" r="9.2" fill="#9b9bce"/>
<circle cx="466.7" cy="1095.8" r="9.2" fill="#9b9bce"/>
<circle cx="579.1" cy="1095.8" r="9.2" fill="#4b4ba5"/>
<circle cx="721.1" cy="941.4" r="9.2" fill="#9b9bce"/>
<circle cx="759.8" cy="936.3" r="9.2" fill="#9b9bce"/>
<circle cx="691.4" cy="994" r="9.2" fill="#4b4ba5"/>
<circle cx="783.4" cy="988.8" r="9.2" fill="#4b4ba5"/>
<circle cx="758.7" cy="1028.1" r="9.2" fill="#9b9bce"/>
<circle cx="757.5" cy="1169" r="9.2" fill="#4b4ba5"/>
<circle cx="688.4" cy="1196.5" r="9.2" fill="#4b4ba5"/>
<circle cx="223.7" cy="1067.9" r="10" fill="#000080" stroke="#ffd700" stroke-width="4.2"/>
<circle cx="513" cy="974" r="10" fill="#000080" stroke="#ffd700" stroke-width="4.2"/>
<circle cx="652.6" cy="861" r="10" fill="#000080" stroke="#ffd700" stroke-width="4.2"/>
<circle cx="683.8" cy="885.8" r="10" fill="#000080" stroke="#ffd700" stroke-width="4.2"/>
<circle cx="689.2" cy="1068.8" r="10" fill="#000080" stroke="#ffd700" stroke-width="4.2"/>
<text x="134.1" y="1096.6" font-size="22.5" textLength="111.5" lengthAdjust="spacingAndGlyphs">Complex II</text>
<text x="423.6" y="1002.6" font-size="22.5" textLength="113.0" lengthAdjust="spacingAndGlyphs">Complex V</text>
<text x="603.8" y="1097.8" font-size="22.5" textLength="105.5" lengthAdjust="spacingAndGlyphs">Complex I</text>
<text x="580.7" y="847.3" font-size="22.5" textLength="116.2" lengthAdjust="spacingAndGlyphs">Complex III</text>
<text x="650.0" y="915.5" font-size="22.5" textLength="118.9" lengthAdjust="spacingAndGlyphs">Complex IV</text>
</g>
<g id="pd">
<rect x="933.2" y="805.9" width="287.9" height="287.6" fill="#999"/>
<rect x="934.6" y="807.3" width="54.8" height="54.8" fill="#c0c0c0"/>
<text x="962.0" y="842.2" font-size="21" text-anchor="middle" textLength="31.0" lengthAdjust="spacingAndGlyphs">NA</text>
<rect x="992.2" y="807.3" width="54.8" height="54.8" fill="#edd40d"/>
<text x="1019.6" y="842.2" font-size="21" text-anchor="middle" textLength="47.0" lengthAdjust="spacingAndGlyphs">0.52</text>
<rect x="1049.8" y="807.3" width="54.8" height="54.8" fill="#26226d"/>
<text x="1077.1" y="842.2" font-size="21" text-anchor="middle" textLength="47.0" lengthAdjust="spacingAndGlyphs" fill="#fff">0.85</text>
<rect x="1107.3" y="807.3" width="54.8" height="54.8" fill="#201e75"/>
<text x="1134.7" y="842.2" font-size="21" text-anchor="middle" textLength="47.0" lengthAdjust="spacingAndGlyphs" fill="#fff">0.87</text>
<rect x="1164.9" y="807.3" width="54.8" height="54.8" fill="#524759"/>
<text x="1192.3" y="842.2" font-size="21" text-anchor="middle" textLength="47.0" lengthAdjust="spacingAndGlyphs">0.78</text>
<rect x="934.6" y="864.9" width="54.8" height="54.8" fill="#edd40d"/>
<text x="962.0" y="899.8" font-size="21" text-anchor="middle" textLength="47.0" lengthAdjust="spacingAndGlyphs">0.52</text>
<rect x="992.2" y="864.9" width="54.8" height="54.8" fill="#c0c0c0"/>
<text x="1019.6" y="899.8" font-size="21" text-anchor="middle" textLength="31.0" lengthAdjust="spacingAndGlyphs">NA</text>
<rect x="1049.8" y="864.9" width="54.8" height="54.8" fill="#9a8935"/>
<text x="1077.1" y="899.8" font-size="21" text-anchor="middle" textLength="47.0" lengthAdjust="spacingAndGlyphs">0.66</text>
<rect x="1107.3" y="864.9" width="54.8" height="54.8" fill="#a08f30"/>
<text x="1134.7" y="899.8" font-size="21" text-anchor="middle" textLength="47.0" lengthAdjust="spacingAndGlyphs">0.65</text>
<rect x="1164.9" y="864.9" width="54.8" height="54.8" fill="#ffe600"/>
<text x="1192.3" y="899.8" font-size="21" text-anchor="middle" textLength="47.0" lengthAdjust="spacingAndGlyphs">0.49</text>
<rect x="934.6" y="922.5" width="54.8" height="54.8" fill="#26226d"/>
<text x="962.0" y="957.3" font-size="21" text-anchor="middle" textLength="47.0" lengthAdjust="spacingAndGlyphs" fill="#fff">0.85</text>
<rect x="992.2" y="922.5" width="54.8" height="54.8" fill="#9a8935"/>
<text x="1019.6" y="957.3" font-size="21" text-anchor="middle" textLength="47.0" lengthAdjust="spacingAndGlyphs">0.66</text>
<rect x="1049.8" y="922.5" width="54.8" height="54.8" fill="#c0c0c0"/>
<text x="1077.1" y="957.3" font-size="21" text-anchor="middle" textLength="31.0" lengthAdjust="spacingAndGlyphs">NA</text>
<rect x="1107.3" y="922.5" width="54.8" height="54.8" fill="#000080"/>
<text x="1134.7" y="957.3" font-size="21" text-anchor="middle" textLength="47.0" lengthAdjust="spacingAndGlyphs" fill="#fff">0.92</text>
<rect x="1164.9" y="922.5" width="54.8" height="54.8" fill="#7d6f44"/>
<text x="1192.3" y="957.3" font-size="21" text-anchor="middle" textLength="47.0" lengthAdjust="spacingAndGlyphs">0.71</text>
<rect x="934.6" y="980.0" width="54.8" height="54.8" fill="#201e75"/>
<text x="962.0" y="1014.9" font-size="21" text-anchor="middle" textLength="47.0" lengthAdjust="spacingAndGlyphs" fill="#fff">0.87</text>
<rect x="992.2" y="980.0" width="54.8" height="54.8" fill="#a08f30"/>
<text x="1019.6" y="1014.9" font-size="21" text-anchor="middle" textLength="47.0" lengthAdjust="spacingAndGlyphs">0.65</text>
<rect x="1049.8" y="980.0" width="54.8" height="54.8" fill="#000080"/>
<text x="1077.1" y="1014.9" font-size="21" text-anchor="middle" textLength="47.0" lengthAdjust="spacingAndGlyphs" fill="#fff">0.92</text>
<rect x="1107.3" y="980.0" width="54.8" height="54.8" fill="#c0c0c0"/>
<text x="1134.7" y="1014.9" font-size="21" text-anchor="middle" textLength="31.0" lengthAdjust="spacingAndGlyphs">NA</text>
<rect x="1164.9" y="980.0" width="54.8" height="54.8" fill="#786a47"/>
<text x="1192.3" y="1014.9" font-size="21" text-anchor="middle" textLength="47.0" lengthAdjust="spacingAndGlyphs">0.72</text>
<rect x="934.6" y="1037.6" width="54.8" height="54.8" fill="#524759"/>
<text x="962.0" y="1072.5" font-size="21" text-anchor="middle" textLength="47.0" lengthAdjust="spacingAndGlyphs">0.78</text>
<rect x="992.2" y="1037.6" width="54.8" height="54.8" fill="#ffe600"/>
<text x="1019.6" y="1072.5" font-size="21" text-anchor="middle" textLength="47.0" lengthAdjust="spacingAndGlyphs">0.49</text>
<rect x="1049.8" y="1037.6" width="54.8" height="54.8" fill="#7d6f44"/>
<text x="1077.1" y="1072.5" font-size="21" text-anchor="middle" textLength="47.0" lengthAdjust="spacingAndGlyphs">0.71</text>
<rect x="1107.3" y="1037.6" width="54.8" height="54.8" fill="#786a47"/>
<text x="1134.7" y="1072.5" font-size="21" text-anchor="middle" textLength="47.0" lengthAdjust="spacingAndGlyphs">0.72</text>
<rect x="1164.9" y="1037.6" width="54.8" height="54.8" fill="#c0c0c0"/>
<text x="1192.3" y="1072.5" font-size="21" text-anchor="middle" textLength="31.0" lengthAdjust="spacingAndGlyphs">NA</text>
<rect x="934.0" y="806.6999999999999" width="286.3" height="286.0" fill="none" stroke="#999" stroke-width="1.8"/>
<text x="1230.6" y="849.2" font-size="24" textLength="26.0" lengthAdjust="spacingAndGlyphs">CI</text>
<text x="1230.6" y="906.2" font-size="24" textLength="33.5" lengthAdjust="spacingAndGlyphs">CII</text>
<text x="1230.6" y="963.1" font-size="24" textLength="40.5" lengthAdjust="spacingAndGlyphs">CIII</text>
<text x="1230.6" y="1020.0" font-size="24" textLength="44.0" lengthAdjust="spacingAndGlyphs">CIV</text>
<text x="1230.6" y="1077.0" font-size="24" textLength="36.0" lengthAdjust="spacingAndGlyphs">CV</text>
<text transform="translate(972.3,1122.7) rotate(-45)" font-size="24.5" text-anchor="end" textLength="24.6" lengthAdjust="spacingAndGlyphs">CI</text>
<text transform="translate(1029.9,1122.7) rotate(-45)" font-size="24.5" text-anchor="end" textLength="32.6" lengthAdjust="spacingAndGlyphs">CII</text>
<text transform="translate(1087.5,1122.7) rotate(-45)" font-size="24.5" text-anchor="end" textLength="39.9" lengthAdjust="spacingAndGlyphs">CIII</text>
<text transform="translate(1145.0,1122.7) rotate(-45)" font-size="24.5" text-anchor="end" textLength="43.5" lengthAdjust="spacingAndGlyphs">CIV</text>
<text transform="translate(1202.6,1122.7) rotate(-45)" font-size="24.5" text-anchor="end" textLength="35.5" lengthAdjust="spacingAndGlyphs">CV</text>
<text x="1327.0" y="838.3" font-size="24.5" textLength="141.4" lengthAdjust="spacingAndGlyphs">Correlation</text>
<defs><linearGradient id="gd" x1="0" y1="0" x2="0" y2="1"><stop offset="0.0000" stop-color="#000080"/><stop offset="0.0739" stop-color="#14137a"/><stop offset="0.1544" stop-color="#26226d"/><stop offset="0.3155" stop-color="#524759"/><stop offset="0.4766" stop-color="#7d6f44"/><stop offset="0.6146" stop-color="#a08f30"/><stop offset="0.7642" stop-color="#c7b020"/><stop offset="0.9138" stop-color="#edd40d"/><stop offset="0.9828" stop-color="#ffe600"/></linearGradient></defs>
<rect x="1325" y="858.8" width="46" height="231.2" fill="url(#gd)"/>
<path d="M1326.2,867.9h9.2M1360.6,867.9h9.2" stroke="#fff" stroke-opacity=".85" stroke-width="1.2"/>
<text x="1384.2" y="877.5" font-size="21" textLength="33.9" lengthAdjust="spacingAndGlyphs">0.9</text>
<path d="M1326.2,921.1h9.2M1360.6,921.1h9.2" stroke="#fff" stroke-opacity=".85" stroke-width="1.2"/>
<text x="1384.2" y="930.7" font-size="21" textLength="33.9" lengthAdjust="spacingAndGlyphs">0.8</text>
<path d="M1326.2,974.3h9.2M1360.6,974.3h9.2" stroke="#fff" stroke-opacity=".85" stroke-width="1.2"/>
<text x="1384.2" y="983.9" font-size="21" textLength="33.9" lengthAdjust="spacingAndGlyphs">0.7</text>
<path d="M1326.2,1027.5h9.2M1360.6,1027.5h9.2" stroke="#fff" stroke-opacity=".85" stroke-width="1.2"/>
<text x="1384.2" y="1037.1" font-size="21" textLength="33.9" lengthAdjust="spacingAndGlyphs">0.6</text>
<path d="M1326.2,1080.7h9.2M1360.6,1080.7h9.2" stroke="#fff" stroke-opacity=".85" stroke-width="1.2"/>
<text x="1384.2" y="1090.3" font-size="21" textLength="33.9" lengthAdjust="spacingAndGlyphs">0.5</text>
</g>
<g id="pe">
<text x="1272.0" y="1248.8" font-size="24.5" textLength="111.0" lengthAdjust="spacingAndGlyphs">Gene set</text>
<rect x="1400.5" y="1225.75" width="20.5" height="25" fill="#000080"/>
<text x="1435.8" y="1248.8" font-size="24.5" textLength="81.2" lengthAdjust="spacingAndGlyphs">GO:BP</text>
<rect x="1552" y="1225.75" width="20.75" height="25" fill="#4b4ba5"/>
<text x="1585.0" y="1248.8" font-size="24.5" textLength="87.0" lengthAdjust="spacingAndGlyphs">GO:MF</text>
<g font-size="19" text-anchor="end">
<text x="737.5" y="1326.5" textLength="511.9" lengthAdjust="spacingAndGlyphs">Oxidoreductase activity acting on a haem group of donors</text>
<text x="737.5" y="1350.4" textLength="524.2" lengthAdjust="spacingAndGlyphs">Mitochondrial electron transport ubiquinol to cytochrome c</text>
<text x="737.5" y="1374.3" textLength="505.2" lengthAdjust="spacingAndGlyphs">Mitochondrial electron transport cytochrome c to oxygen</text>
<text x="737.5" y="1398.2" textLength="688.1" lengthAdjust="spacingAndGlyphs">Oxidoreductase activity acting on diphenols and related substances as donors</text>
<text x="737.5" y="1422.1" textLength="146.0" lengthAdjust="spacingAndGlyphs">Quinone binding</text>
<text x="737.5" y="1446.0" textLength="258.8" lengthAdjust="spacingAndGlyphs">4 iron 4 sulfur cluster binding</text>
<text x="737.5" y="1469.9" textLength="194.8" lengthAdjust="spacingAndGlyphs">Response to glucagon</text>
<text x="737.5" y="1493.7" textLength="249.2" lengthAdjust="spacingAndGlyphs">Ketone biosynthetic process</text>
<text x="737.5" y="1517.6" textLength="242.5" lengthAdjust="spacingAndGlyphs">Iron sulfur cluster assembly</text>
<text x="737.5" y="1541.5" textLength="295.3" lengthAdjust="spacingAndGlyphs">Tetrapyrrole biosynthetic process</text>
<text x="737.5" y="1565.4" textLength="220.6" lengthAdjust="spacingAndGlyphs">Prenyltransferase activity</text>
<text x="737.5" y="1589.3" textLength="332.3" lengthAdjust="spacingAndGlyphs">Mitochondrial RNA metabolic process</text>
<text x="737.5" y="1613.2" textLength="263.3" lengthAdjust="spacingAndGlyphs">Peptidyl arginine modification</text>
<text x="737.5" y="1637.1" textLength="257.1" lengthAdjust="spacingAndGlyphs">2 iron 2 sulfur cluster binding</text>
<text x="737.5" y="1660.9" textLength="394.0" lengthAdjust="spacingAndGlyphs">Regulation of mitochondrial gene expression</text>
<text x="737.5" y="1684.8" textLength="262.1" lengthAdjust="spacingAndGlyphs">NADH dehydrogenase activity</text>
<text x="737.5" y="1708.7" textLength="278.4" lengthAdjust="spacingAndGlyphs">Cytochrome complex assembly</text>
<text x="737.5" y="1732.6" textLength="507.4" lengthAdjust="spacingAndGlyphs">Carbon nitrogen ligase activity with Gln as amido N donor</text>
<text x="737.5" y="1756.5" textLength="624.1" lengthAdjust="spacingAndGlyphs">Oxidoreductase activity acting on the aldehyde or oxo group of donors</text>
<text x="737.5" y="1780.4" textLength="189.2" lengthAdjust="spacingAndGlyphs">Amino acid activation</text>
<text x="737.5" y="1804.3" textLength="395.2" lengthAdjust="spacingAndGlyphs">Ligase activity forming carbon oxygen bonds</text>
<text x="737.5" y="1828.1" textLength="412.0" lengthAdjust="spacingAndGlyphs">Aspartate family amino acid metabolic process</text>
<text x="737.5" y="1852.0" textLength="191.4" lengthAdjust="spacingAndGlyphs">Carboxy lyase activity</text>
<text x="737.5" y="1875.9" textLength="271.1" lengthAdjust="spacingAndGlyphs">Nucleobase metabolic process</text>
<text x="737.5" y="1899.8" textLength="473.2" lengthAdjust="spacingAndGlyphs">Purine nucleoside monophosphate metabolic process</text>
<text x="737.5" y="1923.7" textLength="334.5" lengthAdjust="spacingAndGlyphs">Small ribosomal subunit rRNA binding</text>
<text x="737.5" y="1947.6" textLength="328.4" lengthAdjust="spacingAndGlyphs">Translation termination factor activity</text>
<text x="737.5" y="1971.5" textLength="198.7" lengthAdjust="spacingAndGlyphs">Gln metabolic process</text>
</g>
<path d="M749.3,1320.3H757M749.3,1344.2H757M749.3,1368.1H757M749.3,1392.0H757M749.3,1415.9H757M749.3,1439.8H757M749.3,1463.7H757M749.3,1487.5H757M749.3,1511.4H757M749.3,1535.3H757M749.3,1559.2H757M749.3,1583.1H757M749.3,1607.0H757M749.3,1630.9H757M749.3,1654.7H757M749.3,1678.6H757M749.3,1702.5H757M749.3,1726.4H757M749.3,1750.3H757M749.3,1774.2H757M749.3,1798.1H757M749.3,1821.9H757M749.3,1845.8H757M749.3,1869.7H757M749.3,1893.6H757M749.3,1917.5H757M749.3,1941.4H757M749.3,1965.3H757" stroke="#2b2b2b" stroke-width="1.6"/>
<rect x="757.0" y="1306.0" width="276.0" height="673.6" fill="#fff"/>
<path d="M769.5,1306.0V1979.6M800.9,1306.0V1979.6M832.3,1306.0V1979.6M863.6,1306.0V1979.6M895.0,1306.0V1979.6M926.4,1306.0V1979.6M957.7,1306.0V1979.6M989.1,1306.0V1979.6M1020.5,1306.0V1979.6M757.0,1320.3H1033.0M757.0,1344.2H1033.0M757.0,1368.1H1033.0M757.0,1392.0H1033.0M757.0,1415.9H1033.0M757.0,1439.8H1033.0M757.0,1463.7H1033.0M757.0,1487.5H1033.0M757.0,1511.4H1033.0M757.0,1535.3H1033.0M757.0,1559.2H1033.0M757.0,1583.1H1033.0M757.0,1607.0H1033.0M757.0,1630.9H1033.0M757.0,1654.7H1033.0M757.0,1678.6H1033.0M757.0,1702.5H1033.0M757.0,1726.4H1033.0M757.0,1750.3H1033.0M757.0,1774.2H1033.0M757.0,1798.1H1033.0M757.0,1821.9H1033.0M757.0,1845.8H1033.0M757.0,1869.7H1033.0M757.0,1893.6H1033.0M757.0,1917.5H1033.0M757.0,1941.4H1033.0M757.0,1965.3H1033.0" stroke="#ebebeb" stroke-width="1.3" fill="none"/>
<rect x="757.0" y="1309.6" width="175.2" height="21.5" fill="#4b4ba5"/>
<rect x="757.0" y="1333.5" width="169.3" height="21.5" fill="#000080"/>
<rect x="757.0" y="1357.4" width="170.8" height="21.5" fill="#000080"/>
<rect x="757.0" y="1381.2" width="164.9" height="21.5" fill="#4b4ba5"/>
<rect x="757.0" y="1500.7" width="164.5" height="21.5" fill="#000080"/>
<rect x="757.0" y="1548.4" width="155.0" height="21.5" fill="#4b4ba5"/>
<rect x="757.0" y="1572.3" width="177.0" height="21.5" fill="#000080"/>
<rect x="757.0" y="1596.2" width="157.9" height="21.5" fill="#000080"/>
<rect x="757.0" y="1644.0" width="158.7" height="21.5" fill="#000080"/>
<rect x="757.0" y="1691.8" width="182.9" height="21.5" fill="#000080"/>
<rect x="757.0" y="1306.0" width="276.0" height="673.6" fill="none" stroke="#2b2b2b" stroke-width="1.6"/>
<rect x="757.0" y="1273" width="276.0" height="33" fill="#d9d9d9" stroke="#2b2b2b" stroke-width="1.6"/>
<text x="832.5" y="1297.5" font-size="22.5" textLength="106.2" lengthAdjust="spacingAndGlyphs">Complex I</text>
<text transform="translate(776.8,2000.8) rotate(-90)" font-size="19.8" text-anchor="end" textLength="27.2" lengthAdjust="spacingAndGlyphs">0.6</text>
<text transform="translate(839.6,2000.8) rotate(-90)" font-size="19.8" text-anchor="end" textLength="27.2" lengthAdjust="spacingAndGlyphs">0.7</text>
<text transform="translate(902.3,2000.8) rotate(-90)" font-size="19.8" text-anchor="end" textLength="27.2" lengthAdjust="spacingAndGlyphs">0.8</text>
<text transform="translate(965.0,2000.8) rotate(-90)" font-size="19.8" text-anchor="end" textLength="27.2" lengthAdjust="spacingAndGlyphs">0.9</text>
<text transform="translate(1027.8,2000.8) rotate(-90)" font-size="19.8" text-anchor="end" textLength="27.2" lengthAdjust="spacingAndGlyphs">1.0</text>
<path d="M769.5,1979.6V1987.8M832.3,1979.6V1987.8M895.0,1979.6V1987.8M957.7,1979.6V1987.8M1020.5,1979.6V1987.8" stroke="#2b2b2b" stroke-width="1.6"/>
<rect x="1039.6" y="1306.0" width="276.0" height="673.6" fill="#fff"/>
<path d="M1052.1,1306.0V1979.6M1083.5,1306.0V1979.6M1114.9,1306.0V1979.6M1146.2,1306.0V1979.6M1177.6,1306.0V1979.6M1209.0,1306.0V1979.6M1240.3,1306.0V1979.6M1271.7,1306.0V1979.6M1303.1,1306.0V1979.6M1039.6,1320.3H1315.6M1039.6,1344.2H1315.6M1039.6,1368.1H1315.6M1039.6,1392.0H1315.6M1039.6,1415.9H1315.6M1039.6,1439.8H1315.6M1039.6,1463.7H1315.6M1039.6,1487.5H1315.6M1039.6,1511.4H1315.6M1039.6,1535.3H1315.6M1039.6,1559.2H1315.6M1039.6,1583.1H1315.6M1039.6,1607.0H1315.6M1039.6,1630.9H1315.6M1039.6,1654.7H1315.6M1039.6,1678.6H1315.6M1039.6,1702.5H1315.6M1039.6,1726.4H1315.6M1039.6,1750.3H1315.6M1039.6,1774.2H1315.6M1039.6,1798.1H1315.6M1039.6,1821.9H1315.6M1039.6,1845.8H1315.6M1039.6,1869.7H1315.6M1039.6,1893.6H1315.6M1039.6,1917.5H1315.6M1039.6,1941.4H1315.6M1039.6,1965.3H1315.6" stroke="#ebebeb" stroke-width="1.3" fill="none"/>
<rect x="1039.6" y="1715.7" width="130.8" height="21.5" fill="#4b4ba5"/>
<rect x="1039.6" y="1739.5" width="128.2" height="21.5" fill="#4b4ba5"/>
<rect x="1039.6" y="1811.2" width="122.0" height="21.5" fill="#000080"/>
<rect x="1039.6" y="1835.1" width="121.2" height="21.5" fill="#4b4ba5"/>
<rect x="1039.6" y="1859.0" width="120.1" height="21.5" fill="#000080"/>
<rect x="1039.6" y="1882.9" width="113.2" height="21.5" fill="#000080"/>
<rect x="1039.6" y="1954.5" width="109.8" height="21.5" fill="#000080"/>
<rect x="1039.6" y="1306.0" width="276.0" height="673.6" fill="none" stroke="#2b2b2b" stroke-width="1.6"/>
<rect x="1039.6" y="1273" width="276.0" height="33" fill="#d9d9d9" stroke="#2b2b2b" stroke-width="1.6"/>
<text x="1111.2" y="1297.5" font-size="22.5" textLength="113.8" lengthAdjust="spacingAndGlyphs">Complex II</text>
<text transform="translate(1059.4,2000.8) rotate(-90)" font-size="19.8" text-anchor="end" textLength="27.2" lengthAdjust="spacingAndGlyphs">0.6</text>
<text transform="translate(1122.2,2000.8) rotate(-90)" font-size="19.8" text-anchor="end" textLength="27.2" lengthAdjust="spacingAndGlyphs">0.7</text>
<text transform="translate(1184.9,2000.8) rotate(-90)" font-size="19.8" text-anchor="end" textLength="27.2" lengthAdjust="spacingAndGlyphs">0.8</text>
<text transform="translate(1247.6,2000.8) rotate(-90)" font-size="19.8" text-anchor="end" textLength="27.2" lengthAdjust="spacingAndGlyphs">0.9</text>
<text transform="translate(1310.4,2000.8) rotate(-90)" font-size="19.8" text-anchor="end" textLength="27.2" lengthAdjust="spacingAndGlyphs">1.0</text>
<path d="M1052.1,1979.6V1987.8M1114.9,1979.6V1987.8M1177.6,1979.6V1987.8M1240.3,1979.6V1987.8M1303.1,1979.6V1987.8" stroke="#2b2b2b" stroke-width="1.6"/>
<rect x="1322.5" y="1306.0" width="276.0" height="673.6" fill="#fff"/>
<path d="M1335.0,1306.0V1979.6M1366.4,1306.0V1979.6M1397.8,1306.0V1979.6M1429.1,1306.0V1979.6M1460.5,1306.0V1979.6M1491.9,1306.0V1979.6M1523.2,1306.0V1979.6M1554.6,1306.0V1979.6M1586.0,1306.0V1979.6M1322.5,1320.3H1598.5M1322.5,1344.2H1598.5M1322.5,1368.1H1598.5M1322.5,1392.0H1598.5M1322.5,1415.9H1598.5M1322.5,1439.8H1598.5M1322.5,1463.7H1598.5M1322.5,1487.5H1598.5M1322.5,1511.4H1598.5M1322.5,1535.3H1598.5M1322.5,1559.2H1598.5M1322.5,1583.1H1598.5M1322.5,1607.0H1598.5M1322.5,1630.9H1598.5M1322.5,1654.7H1598.5M1322.5,1678.6H1598.5M1322.5,1702.5H1598.5M1322.5,1726.4H1598.5M1322.5,1750.3H1598.5M1322.5,1774.2H1598.5M1322.5,1798.1H1598.5M1322.5,1821.9H1598.5M1322.5,1845.8H1598.5M1322.5,1869.7H1598.5M1322.5,1893.6H1598.5M1322.5,1917.5H1598.5M1322.5,1941.4H1598.5M1322.5,1965.3H1598.5" stroke="#ebebeb" stroke-width="1.3" fill="none"/>
<rect x="1322.5" y="1309.6" width="206.1" height="21.5" fill="#4b4ba5"/>
<rect x="1322.5" y="1357.4" width="207.9" height="21.5" fill="#000080"/>
<rect x="1322.5" y="1405.1" width="184.4" height="21.5" fill="#4b4ba5"/>
<rect x="1322.5" y="1429.0" width="199.5" height="21.5" fill="#4b4ba5"/>
<rect x="1322.5" y="1476.8" width="170.4" height="21.5" fill="#000080"/>
<rect x="1322.5" y="1524.6" width="164.2" height="21.5" fill="#000080"/>
<rect x="1322.5" y="1548.4" width="163.5" height="21.5" fill="#4b4ba5"/>
<rect x="1322.5" y="1572.3" width="159.4" height="21.5" fill="#000080"/>
<rect x="1322.5" y="1644.0" width="153.5" height="21.5" fill="#000080"/>
<rect x="1322.5" y="1667.9" width="173.7" height="21.5" fill="#4b4ba5"/>
<rect x="1322.5" y="1306.0" width="276.0" height="673.6" fill="none" stroke="#2b2b2b" stroke-width="1.6"/>
<rect x="1322.5" y="1273" width="276.0" height="33" fill="#d9d9d9" stroke="#2b2b2b" stroke-width="1.6"/>
<text x="1391.2" y="1297.5" font-size="22.5" textLength="120.0" lengthAdjust="spacingAndGlyphs">Complex III</text>
<text transform="translate(1342.3,2000.8) rotate(-90)" font-size="19.8" text-anchor="end" textLength="27.2" lengthAdjust="spacingAndGlyphs">0.6</text>
<text transform="translate(1405.1,2000.8) rotate(-90)" font-size="19.8" text-anchor="end" textLength="27.2" lengthAdjust="spacingAndGlyphs">0.7</text>
<text transform="translate(1467.8,2000.8) rotate(-90)" font-size="19.8" text-anchor="end" textLength="27.2" lengthAdjust="spacingAndGlyphs">0.8</text>
<text transform="translate(1530.5,2000.8) rotate(-90)" font-size="19.8" text-anchor="end" textLength="27.2" lengthAdjust="spacingAndGlyphs">0.9</text>
<text transform="translate(1593.3,2000.8) rotate(-90)" font-size="19.8" text-anchor="end" textLength="27.2" lengthAdjust="spacingAndGlyphs">1.0</text>
<path d="M1335.0,1979.6V1987.8M1397.8,1979.6V1987.8M1460.5,1979.6V1987.8M1523.2,1979.6V1987.8M1586.0,1979.6V1987.8" stroke="#2b2b2b" stroke-width="1.6"/>
<rect x="1605.4" y="1306.0" width="276.0" height="673.6" fill="#fff"/>
<path d="M1617.9,1306.0V1979.6M1649.3,1306.0V1979.6M1680.7,1306.0V1979.6M1712.0,1306.0V1979.6M1743.4,1306.0V1979.6M1774.8,1306.0V1979.6M1806.1,1306.0V1979.6M1837.5,1306.0V1979.6M1868.9,1306.0V1979.6M1605.4,1320.3H1881.4M1605.4,1344.2H1881.4M1605.4,1368.1H1881.4M1605.4,1392.0H1881.4M1605.4,1415.9H1881.4M1605.4,1439.8H1881.4M1605.4,1463.7H1881.4M1605.4,1487.5H1881.4M1605.4,1511.4H1881.4M1605.4,1535.3H1881.4M1605.4,1559.2H1881.4M1605.4,1583.1H1881.4M1605.4,1607.0H1881.4M1605.4,1630.9H1881.4M1605.4,1654.7H1881.4M1605.4,1678.6H1881.4M1605.4,1702.5H1881.4M1605.4,1726.4H1881.4M1605.4,1750.3H1881.4M1605.4,1774.2H1881.4M1605.4,1798.1H1881.4M1605.4,1821.9H1881.4M1605.4,1845.8H1881.4M1605.4,1869.7H1881.4M1605.4,1893.6H1881.4M1605.4,1917.5H1881.4M1605.4,1941.4H1881.4M1605.4,1965.3H1881.4" stroke="#ebebeb" stroke-width="1.3" fill="none"/>
<rect x="1605.4" y="1333.5" width="209.4" height="21.5" fill="#000080"/>
<rect x="1605.4" y="1381.2" width="205.0" height="21.5" fill="#4b4ba5"/>
<rect x="1605.4" y="1405.1" width="183.7" height="21.5" fill="#4b4ba5"/>
<rect x="1605.4" y="1429.0" width="194.0" height="21.5" fill="#4b4ba5"/>
<rect x="1605.4" y="1452.9" width="169.3" height="21.5" fill="#000080"/>
<rect x="1605.4" y="1476.8" width="164.6" height="21.5" fill="#000080"/>
<rect x="1605.4" y="1548.4" width="169.7" height="21.5" fill="#4b4ba5"/>
<rect x="1605.4" y="1572.3" width="172.6" height="21.5" fill="#000080"/>
<rect x="1605.4" y="1620.1" width="202.8" height="21.5" fill="#4b4ba5"/>
<rect x="1605.4" y="1644.0" width="164.2" height="21.5" fill="#000080"/>
<rect x="1605.4" y="1306.0" width="276.0" height="673.6" fill="none" stroke="#2b2b2b" stroke-width="1.6"/>
<rect x="1605.4" y="1273" width="276.0" height="33" fill="#d9d9d9" stroke="#2b2b2b" stroke-width="1.6"/>
<text x="1671.2" y="1297.5" font-size="22.5" textLength="121.3" lengthAdjust="spacingAndGlyphs">Complex IV</text>
<text transform="translate(1625.2,2000.8) rotate(-90)" font-size="19.8" text-anchor="end" textLength="27.2" lengthAdjust="spacingAndGlyphs">0.6</text>
<text transform="translate(1688.0,2000.8) rotate(-90)" font-size="19.8" text-anchor="end" textLength="27.2" lengthAdjust="spacingAndGlyphs">0.7</text>
<text transform="translate(1750.7,2000.8) rotate(-90)" font-size="19.8" text-anchor="end" textLength="27.2" lengthAdjust="spacingAndGlyphs">0.8</text>
<text transform="translate(1813.4,2000.8) rotate(-90)" font-size="19.8" text-anchor="end" textLength="27.2" lengthAdjust="spacingAndGlyphs">0.9</text>
<text transform="translate(1876.2,2000.8) rotate(-90)" font-size="19.8" text-anchor="end" textLength="27.2" lengthAdjust="spacingAndGlyphs">1.0</text>
<path d="M1617.9,1979.6V1987.8M1680.7,1979.6V1987.8M1743.4,1979.6V1987.8M1806.1,1979.6V1987.8M1868.9,1979.6V1987.8" stroke="#2b2b2b" stroke-width="1.6"/>
<rect x="1888.4" y="1306.0" width="276.0" height="673.6" fill="#fff"/>
<path d="M1900.9,1306.0V1979.6M1932.3,1306.0V1979.6M1963.7,1306.0V1979.6M1995.0,1306.0V1979.6M2026.4,1306.0V1979.6M2057.8,1306.0V1979.6M2089.1,1306.0V1979.6M2120.5,1306.0V1979.6M2151.9,1306.0V1979.6M1888.4,1320.3H2164.4M1888.4,1344.2H2164.4M1888.4,1368.1H2164.4M1888.4,1392.0H2164.4M1888.4,1415.9H2164.4M1888.4,1439.8H2164.4M1888.4,1463.7H2164.4M1888.4,1487.5H2164.4M1888.4,1511.4H2164.4M1888.4,1535.3H2164.4M1888.4,1559.2H2164.4M1888.4,1583.1H2164.4M1888.4,1607.0H2164.4M1888.4,1630.9H2164.4M1888.4,1654.7H2164.4M1888.4,1678.6H2164.4M1888.4,1702.5H2164.4M1888.4,1726.4H2164.4M1888.4,1750.3H2164.4M1888.4,1774.2H2164.4M1888.4,1798.1H2164.4M1888.4,1821.9H2164.4M1888.4,1845.8H2164.4M1888.4,1869.7H2164.4M1888.4,1893.6H2164.4M1888.4,1917.5H2164.4M1888.4,1941.4H2164.4M1888.4,1965.3H2164.4" stroke="#ebebeb" stroke-width="1.3" fill="none"/>
<rect x="1888.4" y="1429.0" width="117.2" height="21.5" fill="#4b4ba5"/>
<rect x="1888.4" y="1572.3" width="128.2" height="21.5" fill="#000080"/>
<rect x="1888.4" y="1620.1" width="107.6" height="21.5" fill="#4b4ba5"/>
<rect x="1888.4" y="1644.0" width="130.8" height="21.5" fill="#000080"/>
<rect x="1888.4" y="1667.9" width="129.3" height="21.5" fill="#4b4ba5"/>
<rect x="1888.4" y="1691.8" width="107.3" height="21.5" fill="#000080"/>
<rect x="1888.4" y="1763.4" width="122.7" height="21.5" fill="#000080"/>
<rect x="1888.4" y="1787.3" width="122.0" height="21.5" fill="#4b4ba5"/>
<rect x="1888.4" y="1906.7" width="112.0" height="21.5" fill="#4b4ba5"/>
<rect x="1888.4" y="1930.6" width="110.6" height="21.5" fill="#4b4ba5"/>
<rect x="1888.4" y="1306.0" width="276.0" height="673.6" fill="none" stroke="#2b2b2b" stroke-width="1.6"/>
<rect x="1888.4" y="1273" width="276.0" height="33" fill="#d9d9d9" stroke="#2b2b2b" stroke-width="1.6"/>
<text x="1956.2" y="1297.5" font-size="22.5" textLength="116.2" lengthAdjust="spacingAndGlyphs">Complex V</text>
<text transform="translate(1908.2,2000.8) rotate(-90)" font-size="19.8" text-anchor="end" textLength="27.2" lengthAdjust="spacingAndGlyphs">0.6</text>
<text transform="translate(1971.0,2000.8) rotate(-90)" font-size="19.8" text-anchor="end" textLength="27.2" lengthAdjust="spacingAndGlyphs">0.7</text>
<text transform="translate(2033.7,2000.8) rotate(-90)" font-size="19.8" text-anchor="end" textLength="27.2" lengthAdjust="spacingAndGlyphs">0.8</text>
<text transform="translate(2096.4,2000.8) rotate(-90)" font-size="19.8" text-anchor="end" textLength="27.2" lengthAdjust="spacingAndGlyphs">0.9</text>
<text transform="translate(2159.2,2000.8) rotate(-90)" font-size="19.8" text-anchor="end" textLength="27.2" lengthAdjust="spacingAndGlyphs">1.0</text>
<path d="M1900.9,1979.6V1987.8M1963.7,1979.6V1987.8M2026.4,1979.6V1987.8M2089.1,1979.6V1987.8M2151.9,1979.6V1987.8" stroke="#2b2b2b" stroke-width="1.6"/>
<text x="1400.8" y="2073.8" font-size="24" textLength="120.0" lengthAdjust="spacingAndGlyphs">Correlation</text>
</g>
</svg>
</div>
</body></html>
